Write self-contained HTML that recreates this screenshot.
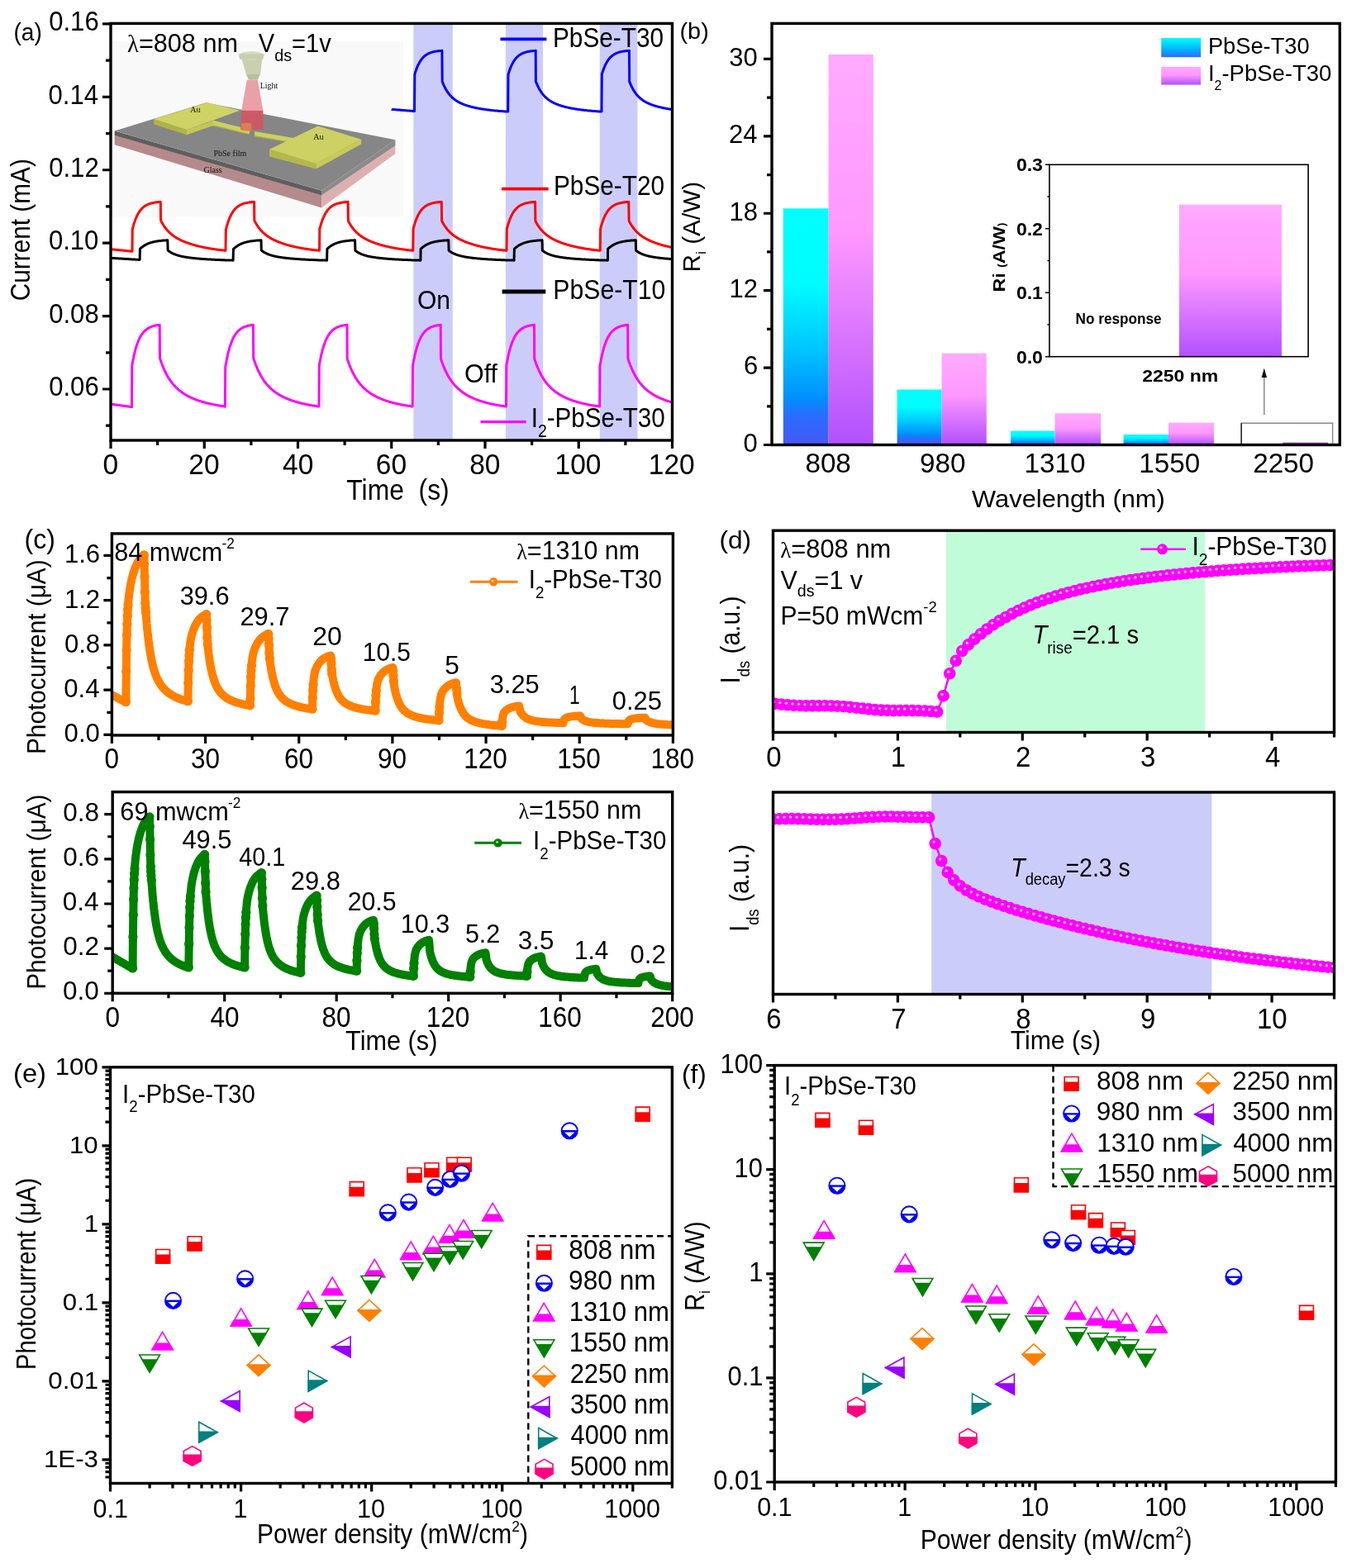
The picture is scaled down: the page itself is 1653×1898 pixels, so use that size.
<!DOCTYPE html>
<html><head><meta charset="utf-8"><title>Figure</title>
<style>html,body{margin:0;padding:0;background:#fff;}svg{display:block;}
svg{font-family:'Liberation Sans', Arial, sans-serif;}</style></head>
<body><svg width="1653" height="1898" viewBox="0 0 1653 1898">
<rect width="1653" height="1898" fill="#fff"/>
<clipPath id="clipa"><rect x="134.00" y="28.40" width="679.50" height="504.60"/></clipPath>
<rect x="500.3" y="28.4" width="47.5" height="504.6" fill="#ccccfa"/>
<rect x="611.8" y="28.4" width="45.3" height="504.6" fill="#ccccfa"/>
<rect x="725.7" y="28.4" width="45.7" height="504.6" fill="#ccccfa"/>
<rect x="136" y="50" width="352" height="212" fill="#f9f9f9"/>
<polygon points="138.7,163.2 389.1,235.1 389.1,251.4 138.7,175.2" fill="#b58a8c"/>
<polygon points="389.1,235.1 478.4,176.3 478.4,186.1 389.1,251.4" fill="#dcb0b0"/>
<polygon points="138.7,158.4 389.1,230.7 389.1,236.2 138.7,163.7" fill="#5e5e5e"/>
<polygon points="389.1,230.7 478.4,169.3 478.4,176.3 389.1,236.2" fill="#8a8a8a"/>
<polygon points="138.7,158.4 249.3,124.3 478.4,169.3 389.1,230.7" fill="#868686"/>
<polygon points="186.2,144.1 186.2,150.6 225.8,163.2 225.8,157.1" fill="#aeb448"/>
<polygon points="225.8,157.1 225.8,163.2 258.5,151.9 258.5,145.8" fill="#c2c656"/>
<polygon points="186.2,144.1 250.9,124.0 290.1,133.8 225.8,157.1" fill="#cfd264"/>
<polygon points="258.0,151.5 301.6,161.9 301.6,163.2 258.0,152.8" fill="#a8ac42"/>
<polygon points="258.0,145.8 302.5,156.7 301.6,161.9 258.0,151.5" fill="#ccd060"/>
<polygon points="308.1,164.3 355.4,172.4 355.4,173.7 308.1,165.6" fill="#a8ac42"/>
<polygon points="308.1,158.9 356.5,167.2 355.4,172.4 308.1,164.3" fill="#ccd060"/>
<polygon points="326.0,180.7 326.0,189.4 382.6,204.6 382.6,198.1" fill="#b4b84a"/>
<polygon points="382.6,198.1 382.6,204.6 437.1,174.6 437.1,168.7" fill="#c6ca58"/>
<polygon points="326.0,180.7 384.8,152.4 437.1,168.7 382.6,198.1" fill="#cdd062"/>
<polygon points="297.7,89.2 315.1,89.2 311.8,96.8 300.9,96.8" fill="#b8c0a0"/>
<polygon points="292.2,70.7 317.3,70.7 315.1,89.2 297.7,89.2" fill="#c8d0b0"/>
<ellipse cx="304.2" cy="67.4" rx="15.2" ry="5.4" fill="#d8dcc4"/>
<polygon points="289.0,65.2 319.5,65.2 318.4,71.8 290.1,71.8" fill="#c8ceb2"/>
<polygon points="298.8,96.8 311.8,96.8 318.4,133.8 292.2,133.8" fill="#eaa0a6"/>
<polygon points="292.2,133.8 318.4,133.8 318.4,156.7 291.1,156.7" fill="#cc5a66"/>
<polygon points="292.2,149.1 304.2,149.1 304.2,158.9 292.2,157.8" fill="#d88050"/>
<text x="230.2" y="136.0" font-size="10" font-family="Liberation Serif" fill="#111">Au</text>
<text x="379.3" y="168.7" font-size="10" font-family="Liberation Serif" fill="#111">Au</text>
<text x="258.5" y="189.4" font-size="10" font-family="Liberation Serif" fill="#111">PbSe film</text>
<text x="246.5" y="209.0" font-size="10" font-family="Liberation Serif" fill="#111">Glass</text>
<text x="314.7" y="106.6" font-size="10" font-family="Liberation Serif" fill="#111">Light</text>
<path d="M134.0,489.1L134.3,489.2L134.6,489.2L134.8,489.2L135.1,489.3L135.4,489.3L135.7,489.3L136.0,489.4L136.3,489.4L136.5,489.5L136.8,489.5L137.1,489.5L137.4,489.6L137.7,489.6L138.0,489.7L138.2,489.7L138.5,489.7L138.8,489.8L139.1,489.8L139.4,489.9L139.7,489.9L139.9,489.9L140.2,490.0L140.5,490.0L140.8,490.1L141.1,490.1L141.4,490.1L141.6,490.2L141.9,490.2L142.2,490.3L142.5,490.3L142.8,490.3L143.1,490.4L143.3,490.4L143.6,490.4L143.9,490.5L144.2,490.5L144.5,490.6L144.8,490.6L145.0,490.6L145.3,490.7L145.6,490.7L145.9,490.8L146.2,490.8L146.5,490.8L146.7,490.9L147.0,490.9L147.3,491.0L147.6,491.0L147.9,491.0L148.2,491.1L148.4,491.1L148.7,491.2L149.0,491.2L149.3,491.2L149.6,491.3L149.9,491.3L150.1,491.4L150.4,491.4L150.7,491.4L151.0,491.5L151.3,491.5L151.6,491.5L151.8,491.6L152.1,491.6L152.4,491.7L152.7,491.7L153.0,491.7L153.3,491.8L153.5,491.8L153.8,491.9L154.1,491.9L154.4,491.9L154.7,492.0L155.0,492.0L155.2,492.1L155.5,492.1L155.8,492.1L156.1,492.2L156.4,492.2L156.6,492.3L156.9,492.3L157.2,492.3L157.5,492.4L157.8,492.4L158.1,492.5L158.3,492.5L158.6,492.5L158.9,492.6L159.2,492.6L159.5,492.7L159.8,442.8L160.0,441.1L160.3,439.5L160.6,438.0L160.9,436.5L161.2,435.0L161.5,433.6L161.7,432.3L162.0,430.9L162.3,429.7L162.6,428.4L162.9,427.3L163.2,426.1L163.4,425.0L163.7,423.9L164.0,422.9L164.3,421.9L164.6,420.9L164.9,420.0L165.1,419.1L165.4,418.2L165.7,417.4L166.0,416.5L166.3,415.7L166.6,415.0L166.8,414.2L167.1,413.5L167.4,412.8L167.7,412.1L168.0,411.5L168.3,410.9L168.5,410.2L168.8,409.7L169.1,409.1L169.4,408.5L169.7,408.0L170.0,407.5L170.2,407.0L170.5,406.5L170.8,406.0L171.1,405.6L171.4,405.2L171.7,404.7L171.9,404.3L172.2,403.9L172.5,403.6L172.8,403.2L173.1,402.8L173.4,402.5L173.6,402.1L173.9,401.8L174.2,401.5L174.5,401.2L174.8,400.9L175.1,400.6L175.3,400.4L175.6,400.1L175.9,399.8L176.2,399.6L176.5,399.4L176.8,399.1L177.0,398.9L177.3,398.7L177.6,398.5L177.9,398.3L178.2,398.1L178.5,397.9L178.7,397.7L179.0,397.5L179.3,397.4L179.6,397.2L179.9,397.0L180.1,396.9L180.4,396.7L180.7,396.6L181.0,396.4L181.3,396.3L181.6,396.2L181.8,396.0L182.1,395.9L182.4,395.8L182.7,395.7L183.0,395.6L183.3,395.5L183.5,395.4L183.8,395.3L184.1,395.2L184.4,395.1L184.7,395.0L185.0,394.9L185.2,394.8L185.5,394.7L185.8,394.6L186.1,394.6L186.4,394.5L186.7,394.4L186.9,394.4L187.2,394.3L187.5,394.2L187.8,394.2L188.1,394.1L188.4,394.0L188.6,394.0L188.9,393.9L189.2,393.9L189.5,393.8L189.8,393.8L190.1,393.7L190.3,393.7L190.6,393.6L190.9,393.6L191.2,393.5L191.5,393.5L191.8,393.5L192.0,393.4L192.3,393.4L192.6,393.4L192.9,393.3L193.2,393.3L193.5,433.4L193.7,434.3L194.0,435.2L194.3,436.0L194.6,436.8L194.9,437.7L195.2,438.5L195.4,439.3L195.7,440.0L196.0,440.8L196.3,441.5L196.6,442.3L196.9,443.0L197.1,443.7L197.4,444.4L197.7,445.1L198.0,445.7L198.3,446.4L198.6,447.0L198.8,447.7L199.1,448.3L199.4,448.9L199.7,449.5L200.0,450.1L200.3,450.6L200.5,451.2L200.8,451.8L201.1,452.3L201.4,452.9L201.7,453.4L202.0,453.9L202.2,454.4L202.5,454.9L202.8,455.4L203.1,455.9L203.4,456.4L203.6,456.9L203.9,457.3L204.2,457.8L204.5,458.2L204.8,458.7L205.1,459.1L205.3,459.5L205.6,459.9L205.9,460.4L206.2,460.8L206.5,461.2L206.8,461.6L207.0,462.0L207.3,462.3L207.6,462.7L207.9,463.1L208.2,463.4L208.5,463.8L208.7,464.2L209.0,464.5L209.3,464.8L209.6,465.2L209.9,465.5L210.2,465.8L210.4,466.2L210.7,466.5L211.0,466.8L211.3,467.1L211.6,467.4L211.9,467.7L212.1,468.0L212.4,468.3L212.7,468.6L213.0,468.9L213.3,469.2L213.6,469.4L213.8,469.7L214.1,470.0L214.4,470.2L214.7,470.5L215.0,470.8L215.3,471.0L215.5,471.3L215.8,471.5L216.1,471.8L216.4,472.0L216.7,472.2L217.0,472.5L217.2,472.7L217.5,472.9L217.8,473.2L218.1,473.4L218.4,473.6L218.7,473.8L218.9,474.0L219.2,474.2L219.5,474.5L219.8,474.7L220.1,474.9L220.4,475.1L220.6,475.3L220.9,475.5L221.2,475.7L221.5,475.8L221.8,476.0L222.1,476.2L222.3,476.4L222.6,476.6L222.9,476.8L223.2,477.0L223.5,477.1L223.8,477.3L224.0,477.5L224.3,477.7L224.6,477.8L224.9,478.0L225.2,478.2L225.4,478.3L225.7,478.5L226.0,478.6L226.3,478.8L226.6,479.0L226.9,479.1L227.1,479.3L227.4,479.4L227.7,479.6L228.0,479.7L228.3,479.9L228.6,480.0L228.8,480.2L229.1,480.3L229.4,480.4L229.7,480.6L230.0,480.7L230.3,480.8L230.5,481.0L230.8,481.1L231.1,481.3L231.4,481.4L231.7,481.5L232.0,481.6L232.2,481.8L232.5,481.9L232.8,482.0L233.1,482.1L233.4,482.3L233.7,482.4L233.9,482.5L234.2,482.6L234.5,482.7L234.8,482.9L235.1,483.0L235.4,483.1L235.6,483.2L235.9,483.3L236.2,483.4L236.5,483.5L236.8,483.6L237.1,483.8L237.3,483.9L237.6,484.0L237.9,484.1L238.2,484.2L238.5,484.3L238.8,484.4L239.0,484.5L239.3,484.6L239.6,484.7L239.9,484.8L240.2,484.9L240.5,485.0L240.7,485.1L241.0,485.2L241.3,485.3L241.6,485.4L241.9,485.4L242.2,485.5L242.4,485.6L242.7,485.7L243.0,485.8L243.3,485.9L243.6,486.0L243.9,486.1L244.1,486.2L244.4,486.2L244.7,486.3L245.0,486.4L245.3,486.5L245.6,486.6L245.8,486.7L246.1,486.7L246.4,486.8L246.7,486.9L247.0,487.0L247.3,487.1L247.5,487.1L247.8,487.2L248.1,487.3L248.4,487.4L248.7,487.4L248.9,487.5L249.2,487.6L249.5,487.7L249.8,487.7L250.1,487.8L250.4,487.9L250.6,488.0L250.9,488.0L251.2,488.1L251.5,488.2L251.8,488.2L252.1,488.3L252.3,488.4L252.6,488.4L252.9,488.5L253.2,488.6L253.5,488.6L253.8,488.7L254.0,488.8L254.3,488.8L254.6,488.9L254.9,489.0L255.2,489.0L255.5,489.1L255.7,489.1L256.0,489.2L256.3,489.3L256.6,489.3L256.9,489.4L257.2,489.4L257.4,489.5L257.7,489.6L258.0,489.6L258.3,489.7L258.6,489.7L258.9,489.8L259.1,489.9L259.4,489.9L259.7,490.0L260.0,490.0L260.3,490.1L260.6,490.1L260.8,490.2L261.1,490.2L261.4,490.3L261.7,490.3L262.0,490.4L262.3,490.4L262.5,490.5L262.8,490.5L263.1,490.6L263.4,490.6L263.7,490.7L264.0,490.7L264.2,490.8L264.5,490.8L264.8,490.9L265.1,490.9L265.4,491.0L265.7,491.0L265.9,491.1L266.2,491.1L266.5,491.2L266.8,491.2L267.1,491.3L267.4,491.3L267.6,491.4L267.9,491.4L268.2,491.4L268.5,491.5L268.8,491.5L269.1,491.6L269.3,491.6L269.6,491.7L269.9,491.7L270.2,491.7L270.5,491.8L270.7,491.8L271.0,491.9L271.3,491.9L271.6,491.9L271.9,492.0L272.2,492.0L272.4,492.1L272.7,444.5L273.0,442.8L273.3,441.1L273.6,439.5L273.9,438.0L274.1,436.5L274.4,435.0L274.7,433.6L275.0,432.3L275.3,430.9L275.6,429.7L275.8,428.4L276.1,427.3L276.4,426.1L276.7,425.0L277.0,423.9L277.3,422.9L277.5,421.9L277.8,420.9L278.1,420.0L278.4,419.1L278.7,418.2L279.0,417.4L279.2,416.5L279.5,415.7L279.8,415.0L280.1,414.2L280.4,413.5L280.7,412.8L280.9,412.1L281.2,411.5L281.5,410.9L281.8,410.2L282.1,409.7L282.4,409.1L282.6,408.5L282.9,408.0L283.2,407.5L283.5,407.0L283.8,406.5L284.1,406.0L284.3,405.6L284.6,405.2L284.9,404.7L285.2,404.3L285.5,403.9L285.8,403.6L286.0,403.2L286.3,402.8L286.6,402.5L286.9,402.1L287.2,401.8L287.5,401.5L287.7,401.2L288.0,400.9L288.3,400.6L288.6,400.4L288.9,400.1L289.2,399.8L289.4,399.6L289.7,399.4L290.0,399.1L290.3,398.9L290.6,398.7L290.9,398.5L291.1,398.3L291.4,398.1L291.7,397.9L292.0,397.7L292.3,397.5L292.6,397.4L292.8,397.2L293.1,397.0L293.4,396.9L293.7,396.7L294.0,396.6L294.2,396.4L294.5,396.3L294.8,396.2L295.1,396.0L295.4,395.9L295.7,395.8L295.9,395.7L296.2,395.6L296.5,395.5L296.8,395.4L297.1,395.3L297.4,395.2L297.6,395.1L297.9,395.0L298.2,394.9L298.5,394.8L298.8,394.7L299.1,394.6L299.3,394.6L299.6,394.5L299.9,394.4L300.2,394.4L300.5,394.3L300.8,394.2L301.0,394.2L301.3,394.1L301.6,394.0L301.9,394.0L302.2,393.9L302.5,393.9L302.7,393.8L303.0,393.8L303.3,393.7L303.6,393.7L303.9,393.6L304.2,393.6L304.4,393.5L304.7,393.5L305.0,393.5L305.3,393.4L305.6,393.4L305.9,393.4L306.1,393.3L306.4,393.3L306.7,433.4L307.0,434.3L307.3,435.2L307.6,436.0L307.8,436.8L308.1,437.7L308.4,438.5L308.7,439.3L309.0,440.0L309.3,440.8L309.5,441.5L309.8,442.3L310.1,443.0L310.4,443.7L310.7,444.4L311.0,445.1L311.2,445.7L311.5,446.4L311.8,447.0L312.1,447.7L312.4,448.3L312.7,448.9L312.9,449.5L313.2,450.1L313.5,450.6L313.8,451.2L314.1,451.8L314.4,452.3L314.6,452.9L314.9,453.4L315.2,453.9L315.5,454.4L315.8,454.9L316.0,455.4L316.3,455.9L316.6,456.4L316.9,456.9L317.2,457.3L317.5,457.8L317.7,458.2L318.0,458.7L318.3,459.1L318.6,459.5L318.9,459.9L319.2,460.4L319.4,460.8L319.7,461.2L320.0,461.6L320.3,462.0L320.6,462.3L320.9,462.7L321.1,463.1L321.4,463.4L321.7,463.8L322.0,464.2L322.3,464.5L322.6,464.8L322.8,465.2L323.1,465.5L323.4,465.8L323.7,466.2L324.0,466.5L324.3,466.8L324.5,467.1L324.8,467.4L325.1,467.7L325.4,468.0L325.7,468.3L326.0,468.6L326.2,468.9L326.5,469.2L326.8,469.4L327.1,469.7L327.4,470.0L327.7,470.2L327.9,470.5L328.2,470.8L328.5,471.0L328.8,471.3L329.1,471.5L329.4,471.8L329.6,472.0L329.9,472.2L330.2,472.5L330.5,472.7L330.8,472.9L331.1,473.2L331.3,473.4L331.6,473.6L331.9,473.8L332.2,474.0L332.5,474.2L332.8,474.5L333.0,474.7L333.3,474.9L333.6,475.1L333.9,475.3L334.2,475.5L334.5,475.7L334.7,475.8L335.0,476.0L335.3,476.2L335.6,476.4L335.9,476.6L336.2,476.8L336.4,477.0L336.7,477.1L337.0,477.3L337.3,477.5L337.6,477.7L337.9,477.8L338.1,478.0L338.4,478.2L338.7,478.3L339.0,478.5L339.3,478.6L339.5,478.8L339.8,479.0L340.1,479.1L340.4,479.3L340.7,479.4L341.0,479.6L341.2,479.7L341.5,479.9L341.8,480.0L342.1,480.2L342.4,480.3L342.7,480.4L342.9,480.6L343.2,480.7L343.5,480.8L343.8,481.0L344.1,481.1L344.4,481.3L344.6,481.4L344.9,481.5L345.2,481.6L345.5,481.8L345.8,481.9L346.1,482.0L346.3,482.1L346.6,482.3L346.9,482.4L347.2,482.5L347.5,482.6L347.8,482.7L348.0,482.9L348.3,483.0L348.6,483.1L348.9,483.2L349.2,483.3L349.5,483.4L349.7,483.5L350.0,483.6L350.3,483.8L350.6,483.9L350.9,484.0L351.2,484.1L351.4,484.2L351.7,484.3L352.0,484.4L352.3,484.5L352.6,484.6L352.9,484.7L353.1,484.8L353.4,484.9L353.7,485.0L354.0,485.1L354.3,485.2L354.6,485.3L354.8,485.4L355.1,485.4L355.4,485.5L355.7,485.6L356.0,485.7L356.3,485.8L356.5,485.9L356.8,486.0L357.1,486.1L357.4,486.2L357.7,486.2L358.0,486.3L358.2,486.4L358.5,486.5L358.8,486.6L359.1,486.7L359.4,486.7L359.7,486.8L359.9,486.9L360.2,487.0L360.5,487.1L360.8,487.1L361.1,487.2L361.3,487.3L361.6,487.4L361.9,487.4L362.2,487.5L362.5,487.6L362.8,487.7L363.0,487.7L363.3,487.8L363.6,487.9L363.9,488.0L364.2,488.0L364.5,488.1L364.7,488.2L365.0,488.2L365.3,488.3L365.6,488.4L365.9,488.4L366.2,488.5L366.4,488.6L366.7,488.6L367.0,488.7L367.3,488.8L367.6,488.8L367.9,488.9L368.1,489.0L368.4,489.0L368.7,489.1L369.0,489.1L369.3,489.2L369.6,489.3L369.8,489.3L370.1,489.4L370.4,489.4L370.7,489.5L371.0,489.6L371.3,489.6L371.5,489.7L371.8,489.7L372.1,489.8L372.4,489.9L372.7,489.9L373.0,490.0L373.2,490.0L373.5,490.1L373.8,490.1L374.1,490.2L374.4,490.2L374.7,490.3L374.9,490.3L375.2,490.4L375.5,490.4L375.8,490.5L376.1,490.5L376.4,490.6L376.6,490.6L376.9,490.7L377.2,490.7L377.5,490.8L377.8,490.8L378.1,490.9L378.3,490.9L378.6,491.0L378.9,491.0L379.2,491.1L379.5,491.1L379.8,491.2L380.0,491.2L380.3,491.3L380.6,491.3L380.9,491.4L381.2,491.4L381.5,491.4L381.7,491.5L382.0,491.5L382.3,491.6L382.6,491.6L382.9,491.7L383.1,491.7L383.4,491.7L383.7,491.8L384.0,491.8L384.3,491.9L384.6,491.9L384.8,491.9L385.1,492.0L385.4,492.0L385.7,492.1L386.0,492.1L386.3,442.8L386.5,441.1L386.8,439.5L387.1,438.0L387.4,436.5L387.7,435.0L388.0,433.6L388.2,432.3L388.5,430.9L388.8,429.7L389.1,428.4L389.4,427.3L389.7,426.1L389.9,425.0L390.2,423.9L390.5,422.9L390.8,421.9L391.1,420.9L391.4,420.0L391.6,419.1L391.9,418.2L392.2,417.4L392.5,416.5L392.8,415.7L393.1,415.0L393.3,414.2L393.6,413.5L393.9,412.8L394.2,412.1L394.5,411.5L394.8,410.9L395.0,410.2L395.3,409.7L395.6,409.1L395.9,408.5L396.2,408.0L396.5,407.5L396.7,407.0L397.0,406.5L397.3,406.0L397.6,405.6L397.9,405.2L398.2,404.7L398.4,404.3L398.7,403.9L399.0,403.6L399.3,403.2L399.6,402.8L399.9,402.5L400.1,402.1L400.4,401.8L400.7,401.5L401.0,401.2L401.3,400.9L401.6,400.6L401.8,400.4L402.1,400.1L402.4,399.8L402.7,399.6L403.0,399.4L403.3,399.1L403.5,398.9L403.8,398.7L404.1,398.5L404.4,398.3L404.7,398.1L405.0,397.9L405.2,397.7L405.5,397.5L405.8,397.4L406.1,397.2L406.4,397.0L406.6,396.9L406.9,396.7L407.2,396.6L407.5,396.4L407.8,396.3L408.1,396.2L408.3,396.0L408.6,395.9L408.9,395.8L409.2,395.7L409.5,395.6L409.8,395.5L410.0,395.4L410.3,395.3L410.6,395.2L410.9,395.1L411.2,395.0L411.5,394.9L411.7,394.8L412.0,394.7L412.3,394.6L412.6,394.6L412.9,394.5L413.2,394.4L413.4,394.4L413.7,394.3L414.0,394.2L414.3,394.2L414.6,394.1L414.9,394.0L415.1,394.0L415.4,393.9L415.7,393.9L416.0,393.8L416.3,393.8L416.6,393.7L416.8,393.7L417.1,393.6L417.4,393.6L417.7,393.5L418.0,393.5L418.3,393.5L418.5,393.4L418.8,393.4L419.1,393.4L419.4,393.3L419.7,393.3L420.0,393.3L420.2,434.3L420.5,435.2L420.8,436.0L421.1,436.8L421.4,437.7L421.7,438.5L421.9,439.3L422.2,440.0L422.5,440.8L422.8,441.5L423.1,442.3L423.4,443.0L423.6,443.7L423.9,444.4L424.2,445.1L424.5,445.7L424.8,446.4L425.1,447.0L425.3,447.7L425.6,448.3L425.9,448.9L426.2,449.5L426.5,450.1L426.8,450.6L427.0,451.2L427.3,451.8L427.6,452.3L427.9,452.9L428.2,453.4L428.4,453.9L428.7,454.4L429.0,454.9L429.3,455.4L429.6,455.9L429.9,456.4L430.1,456.9L430.4,457.3L430.7,457.8L431.0,458.2L431.3,458.7L431.6,459.1L431.8,459.5L432.1,459.9L432.4,460.4L432.7,460.8L433.0,461.2L433.3,461.6L433.5,462.0L433.8,462.3L434.1,462.7L434.4,463.1L434.7,463.4L435.0,463.8L435.2,464.2L435.5,464.5L435.8,464.8L436.1,465.2L436.4,465.5L436.7,465.8L436.9,466.2L437.2,466.5L437.5,466.8L437.8,467.1L438.1,467.4L438.4,467.7L438.6,468.0L438.9,468.3L439.2,468.6L439.5,468.9L439.8,469.2L440.1,469.4L440.3,469.7L440.6,470.0L440.9,470.2L441.2,470.5L441.5,470.8L441.8,471.0L442.0,471.3L442.3,471.5L442.6,471.8L442.9,472.0L443.2,472.2L443.5,472.5L443.7,472.7L444.0,472.9L444.3,473.2L444.6,473.4L444.9,473.6L445.2,473.8L445.4,474.0L445.7,474.2L446.0,474.5L446.3,474.7L446.6,474.9L446.9,475.1L447.1,475.3L447.4,475.5L447.7,475.7L448.0,475.8L448.3,476.0L448.6,476.2L448.8,476.4L449.1,476.6L449.4,476.8L449.7,477.0L450.0,477.1L450.3,477.3L450.5,477.5L450.8,477.7L451.1,477.8L451.4,478.0L451.7,478.2L451.9,478.3L452.2,478.5L452.5,478.6L452.8,478.8L453.1,479.0L453.4,479.1L453.6,479.3L453.9,479.4L454.2,479.6L454.5,479.7L454.8,479.9L455.1,480.0L455.3,480.2L455.6,480.3L455.9,480.4L456.2,480.6L456.5,480.7L456.8,480.8L457.0,481.0L457.3,481.1L457.6,481.3L457.9,481.4L458.2,481.5L458.5,481.6L458.7,481.8L459.0,481.9L459.3,482.0L459.6,482.1L459.9,482.3L460.2,482.4L460.4,482.5L460.7,482.6L461.0,482.7L461.3,482.9L461.6,483.0L461.9,483.1L462.1,483.2L462.4,483.3L462.7,483.4L463.0,483.5L463.3,483.6L463.6,483.8L463.8,483.9L464.1,484.0L464.4,484.1L464.7,484.2L465.0,484.3L465.3,484.4L465.5,484.5L465.8,484.6L466.1,484.7L466.4,484.8L466.7,484.9L467.0,485.0L467.2,485.1L467.5,485.2L467.8,485.3L468.1,485.4L468.4,485.4L468.7,485.5L468.9,485.6L469.2,485.7L469.5,485.8L469.8,485.9L470.1,486.0L470.4,486.1L470.6,486.2L470.9,486.2L471.2,486.3L471.5,486.4L471.8,486.5L472.1,486.6L472.3,486.7L472.6,486.7L472.9,486.8L473.2,486.9L473.5,487.0L473.7,487.1L474.0,487.1L474.3,487.2L474.6,487.3L474.9,487.4L475.2,487.4L475.4,487.5L475.7,487.6L476.0,487.7L476.3,487.7L476.6,487.8L476.9,487.9L477.1,488.0L477.4,488.0L477.7,488.1L478.0,488.2L478.3,488.2L478.6,488.3L478.8,488.4L479.1,488.4L479.4,488.5L479.7,488.6L480.0,488.6L480.3,488.7L480.5,488.8L480.8,488.8L481.1,488.9L481.4,489.0L481.7,489.0L482.0,489.1L482.2,489.1L482.5,489.2L482.8,489.3L483.1,489.3L483.4,489.4L483.7,489.4L483.9,489.5L484.2,489.6L484.5,489.6L484.8,489.7L485.1,489.7L485.4,489.8L485.6,489.9L485.9,489.9L486.2,490.0L486.5,490.0L486.8,490.1L487.1,490.1L487.3,490.2L487.6,490.2L487.9,490.3L488.2,490.3L488.5,490.4L488.8,490.4L489.0,490.5L489.3,490.5L489.6,490.6L489.9,490.6L490.2,490.7L490.5,490.7L490.7,490.8L491.0,490.8L491.3,490.9L491.6,490.9L491.9,491.0L492.2,491.0L492.4,491.1L492.7,491.1L493.0,491.2L493.3,491.2L493.6,491.3L493.9,491.3L494.1,491.4L494.4,491.4L494.7,491.4L495.0,491.5L495.3,491.5L495.6,491.6L495.8,491.6L496.1,491.7L496.4,491.7L496.7,491.7L497.0,491.8L497.2,491.8L497.5,491.9L497.8,491.9L498.1,491.9L498.4,492.0L498.7,492.0L498.9,492.1L499.2,492.1L499.5,442.8L499.8,441.1L500.1,439.5L500.4,438.0L500.6,436.5L500.9,435.0L501.2,433.6L501.5,432.3L501.8,430.9L502.1,429.7L502.3,428.4L502.6,427.3L502.9,426.1L503.2,425.0L503.5,423.9L503.8,422.9L504.0,421.9L504.3,420.9L504.6,420.0L504.9,419.1L505.2,418.2L505.5,417.4L505.7,416.5L506.0,415.7L506.3,415.0L506.6,414.2L506.9,413.5L507.2,412.8L507.4,412.1L507.7,411.5L508.0,410.9L508.3,410.2L508.6,409.7L508.9,409.1L509.1,408.5L509.4,408.0L509.7,407.5L510.0,407.0L510.3,406.5L510.6,406.0L510.8,405.6L511.1,405.2L511.4,404.7L511.7,404.3L512.0,403.9L512.3,403.6L512.5,403.2L512.8,402.8L513.1,402.5L513.4,402.1L513.7,401.8L514.0,401.5L514.2,401.2L514.5,400.9L514.8,400.6L515.1,400.4L515.4,400.1L515.7,399.8L515.9,399.6L516.2,399.4L516.5,399.1L516.8,398.9L517.1,398.7L517.4,398.5L517.6,398.3L517.9,398.1L518.2,397.9L518.5,397.7L518.8,397.5L519.0,397.4L519.3,397.2L519.6,397.0L519.9,396.9L520.2,396.7L520.5,396.6L520.7,396.4L521.0,396.3L521.3,396.2L521.6,396.0L521.9,395.9L522.2,395.8L522.4,395.7L522.7,395.6L523.0,395.5L523.3,395.4L523.6,395.3L523.9,395.2L524.1,395.1L524.4,395.0L524.7,394.9L525.0,394.8L525.3,394.7L525.6,394.6L525.8,394.6L526.1,394.5L526.4,394.4L526.7,394.4L527.0,394.3L527.3,394.2L527.5,394.2L527.8,394.1L528.1,394.0L528.4,394.0L528.7,393.9L529.0,393.9L529.2,393.8L529.5,393.8L529.8,393.7L530.1,393.7L530.4,393.6L530.7,393.6L530.9,393.5L531.2,393.5L531.5,393.5L531.8,393.4L532.1,393.4L532.4,393.4L532.6,393.3L532.9,393.3L533.2,393.3L533.5,434.3L533.8,435.2L534.1,436.0L534.3,436.8L534.6,437.7L534.9,438.5L535.2,439.3L535.5,440.0L535.8,440.8L536.0,441.5L536.3,442.3L536.6,443.0L536.9,443.7L537.2,444.4L537.5,445.1L537.7,445.7L538.0,446.4L538.3,447.0L538.6,447.7L538.9,448.3L539.2,448.9L539.4,449.5L539.7,450.1L540.0,450.6L540.3,451.2L540.6,451.8L540.9,452.3L541.1,452.9L541.4,453.4L541.7,453.9L542.0,454.4L542.3,454.9L542.5,455.4L542.8,455.9L543.1,456.4L543.4,456.9L543.7,457.3L544.0,457.8L544.2,458.2L544.5,458.7L544.8,459.1L545.1,459.5L545.4,459.9L545.7,460.4L545.9,460.8L546.2,461.2L546.5,461.6L546.8,462.0L547.1,462.3L547.4,462.7L547.6,463.1L547.9,463.4L548.2,463.8L548.5,464.2L548.8,464.5L549.1,464.8L549.3,465.2L549.6,465.5L549.9,465.8L550.2,466.2L550.5,466.5L550.8,466.8L551.0,467.1L551.3,467.4L551.6,467.7L551.9,468.0L552.2,468.3L552.5,468.6L552.7,468.9L553.0,469.2L553.3,469.4L553.6,469.7L553.9,470.0L554.2,470.2L554.4,470.5L554.7,470.8L555.0,471.0L555.3,471.3L555.6,471.5L555.9,471.8L556.1,472.0L556.4,472.2L556.7,472.5L557.0,472.7L557.3,472.9L557.6,473.2L557.8,473.4L558.1,473.6L558.4,473.8L558.7,474.0L559.0,474.2L559.3,474.5L559.5,474.7L559.8,474.9L560.1,475.1L560.4,475.3L560.7,475.5L561.0,475.7L561.2,475.8L561.5,476.0L561.8,476.2L562.1,476.4L562.4,476.6L562.7,476.8L562.9,477.0L563.2,477.1L563.5,477.3L563.8,477.5L564.1,477.7L564.3,477.8L564.6,478.0L564.9,478.2L565.2,478.3L565.5,478.5L565.8,478.6L566.0,478.8L566.3,479.0L566.6,479.1L566.9,479.3L567.2,479.4L567.5,479.6L567.7,479.7L568.0,479.9L568.3,480.0L568.6,480.2L568.9,480.3L569.2,480.4L569.4,480.6L569.7,480.7L570.0,480.8L570.3,481.0L570.6,481.1L570.9,481.3L571.1,481.4L571.4,481.5L571.7,481.6L572.0,481.8L572.3,481.9L572.6,482.0L572.8,482.1L573.1,482.3L573.4,482.4L573.7,482.5L574.0,482.6L574.3,482.7L574.5,482.9L574.8,483.0L575.1,483.1L575.4,483.2L575.7,483.3L576.0,483.4L576.2,483.5L576.5,483.6L576.8,483.8L577.1,483.9L577.4,484.0L577.7,484.1L577.9,484.2L578.2,484.3L578.5,484.4L578.8,484.5L579.1,484.6L579.4,484.7L579.6,484.8L579.9,484.9L580.2,485.0L580.5,485.1L580.8,485.2L581.1,485.3L581.3,485.4L581.6,485.4L581.9,485.5L582.2,485.6L582.5,485.7L582.8,485.8L583.0,485.9L583.3,486.0L583.6,486.1L583.9,486.2L584.2,486.2L584.5,486.3L584.7,486.4L585.0,486.5L585.3,486.6L585.6,486.7L585.9,486.7L586.2,486.8L586.4,486.9L586.7,487.0L587.0,487.1L587.3,487.1L587.6,487.2L587.8,487.3L588.1,487.4L588.4,487.4L588.7,487.5L589.0,487.6L589.3,487.7L589.5,487.7L589.8,487.8L590.1,487.9L590.4,488.0L590.7,488.0L591.0,488.1L591.2,488.2L591.5,488.2L591.8,488.3L592.1,488.4L592.4,488.4L592.7,488.5L592.9,488.6L593.2,488.6L593.5,488.7L593.8,488.8L594.1,488.8L594.4,488.9L594.6,489.0L594.9,489.0L595.2,489.1L595.5,489.1L595.8,489.2L596.1,489.3L596.3,489.3L596.6,489.4L596.9,489.4L597.2,489.5L597.5,489.6L597.8,489.6L598.0,489.7L598.3,489.7L598.6,489.8L598.9,489.9L599.2,489.9L599.5,490.0L599.7,490.0L600.0,490.1L600.3,490.1L600.6,490.2L600.9,490.2L601.2,490.3L601.4,490.3L601.7,490.4L602.0,490.4L602.3,490.5L602.6,490.5L602.9,490.6L603.1,490.6L603.4,490.7L603.7,490.7L604.0,490.8L604.3,490.8L604.6,490.9L604.8,490.9L605.1,491.0L605.4,491.0L605.7,491.1L606.0,491.1L606.3,491.2L606.5,491.2L606.8,491.3L607.1,491.3L607.4,491.4L607.7,491.4L608.0,491.4L608.2,491.5L608.5,491.5L608.8,491.6L609.1,491.6L609.4,491.7L609.6,491.7L609.9,491.7L610.2,491.8L610.5,491.8L610.8,491.9L611.1,491.9L611.3,491.9L611.6,492.0L611.9,492.0L612.2,492.1L612.5,492.1L612.8,442.8L613.0,441.1L613.3,439.5L613.6,438.0L613.9,436.5L614.2,435.0L614.5,433.6L614.7,432.3L615.0,430.9L615.3,429.7L615.6,428.4L615.9,427.3L616.2,426.1L616.4,425.0L616.7,423.9L617.0,422.9L617.3,421.9L617.6,420.9L617.9,420.0L618.1,419.1L618.4,418.2L618.7,417.4L619.0,416.5L619.3,415.7L619.6,415.0L619.8,414.2L620.1,413.5L620.4,412.8L620.7,412.1L621.0,411.5L621.3,410.9L621.5,410.2L621.8,409.7L622.1,409.1L622.4,408.5L622.7,408.0L623.0,407.5L623.2,407.0L623.5,406.5L623.8,406.0L624.1,405.6L624.4,405.2L624.7,404.7L624.9,404.3L625.2,403.9L625.5,403.6L625.8,403.2L626.1,402.8L626.4,402.5L626.6,402.1L626.9,401.8L627.2,401.5L627.5,401.2L627.8,400.9L628.1,400.6L628.3,400.4L628.6,400.1L628.9,399.8L629.2,399.6L629.5,399.4L629.8,399.1L630.0,398.9L630.3,398.7L630.6,398.5L630.9,398.3L631.2,398.1L631.5,397.9L631.7,397.7L632.0,397.5L632.3,397.4L632.6,397.2L632.9,397.0L633.1,396.9L633.4,396.7L633.7,396.6L634.0,396.4L634.3,396.3L634.6,396.2L634.8,396.0L635.1,395.9L635.4,395.8L635.7,395.7L636.0,395.6L636.3,395.5L636.5,395.4L636.8,395.3L637.1,395.2L637.4,395.1L637.7,395.0L638.0,394.9L638.2,394.8L638.5,394.7L638.8,394.6L639.1,394.6L639.4,394.5L639.7,394.4L639.9,394.4L640.2,394.3L640.5,394.2L640.8,394.2L641.1,394.1L641.4,394.0L641.6,394.0L641.9,393.9L642.2,393.9L642.5,393.8L642.8,393.8L643.1,393.7L643.3,393.7L643.6,393.6L643.9,393.6L644.2,393.5L644.5,393.5L644.8,393.5L645.0,393.4L645.3,393.4L645.6,393.4L645.9,393.3L646.2,393.3L646.5,393.3L646.7,434.3L647.0,435.2L647.3,436.0L647.6,436.8L647.9,437.7L648.2,438.5L648.4,439.3L648.7,440.0L649.0,440.8L649.3,441.5L649.6,442.3L649.9,443.0L650.1,443.7L650.4,444.4L650.7,445.1L651.0,445.7L651.3,446.4L651.6,447.0L651.8,447.7L652.1,448.3L652.4,448.9L652.7,449.5L653.0,450.1L653.3,450.6L653.5,451.2L653.8,451.8L654.1,452.3L654.4,452.9L654.7,453.4L654.9,453.9L655.2,454.4L655.5,454.9L655.8,455.4L656.1,455.9L656.4,456.4L656.6,456.9L656.9,457.3L657.2,457.8L657.5,458.2L657.8,458.7L658.1,459.1L658.3,459.5L658.6,459.9L658.9,460.4L659.2,460.8L659.5,461.2L659.8,461.6L660.0,462.0L660.3,462.3L660.6,462.7L660.9,463.1L661.2,463.4L661.5,463.8L661.7,464.2L662.0,464.5L662.3,464.8L662.6,465.2L662.9,465.5L663.2,465.8L663.4,466.2L663.7,466.5L664.0,466.8L664.3,467.1L664.6,467.4L664.9,467.7L665.1,468.0L665.4,468.3L665.7,468.6L666.0,468.9L666.3,469.2L666.6,469.4L666.8,469.7L667.1,470.0L667.4,470.2L667.7,470.5L668.0,470.8L668.3,471.0L668.5,471.3L668.8,471.5L669.1,471.8L669.4,472.0L669.7,472.2L670.0,472.5L670.2,472.7L670.5,472.9L670.8,473.2L671.1,473.4L671.4,473.6L671.7,473.8L671.9,474.0L672.2,474.2L672.5,474.5L672.8,474.7L673.1,474.9L673.4,475.1L673.6,475.3L673.9,475.5L674.2,475.7L674.5,475.8L674.8,476.0L675.1,476.2L675.3,476.4L675.6,476.6L675.9,476.8L676.2,477.0L676.5,477.1L676.8,477.3L677.0,477.5L677.3,477.7L677.6,477.8L677.9,478.0L678.2,478.2L678.4,478.3L678.7,478.5L679.0,478.6L679.3,478.8L679.6,479.0L679.9,479.1L680.1,479.3L680.4,479.4L680.7,479.6L681.0,479.7L681.3,479.9L681.6,480.0L681.8,480.2L682.1,480.3L682.4,480.4L682.7,480.6L683.0,480.7L683.3,480.8L683.5,481.0L683.8,481.1L684.1,481.3L684.4,481.4L684.7,481.5L685.0,481.6L685.2,481.8L685.5,481.9L685.8,482.0L686.1,482.1L686.4,482.3L686.7,482.4L686.9,482.5L687.2,482.6L687.5,482.7L687.8,482.9L688.1,483.0L688.4,483.1L688.6,483.2L688.9,483.3L689.2,483.4L689.5,483.5L689.8,483.6L690.1,483.8L690.3,483.9L690.6,484.0L690.9,484.1L691.2,484.2L691.5,484.3L691.8,484.4L692.0,484.5L692.3,484.6L692.6,484.7L692.9,484.8L693.2,484.9L693.5,485.0L693.7,485.1L694.0,485.2L694.3,485.3L694.6,485.4L694.9,485.4L695.2,485.5L695.4,485.6L695.7,485.7L696.0,485.8L696.3,485.9L696.6,486.0L696.9,486.1L697.1,486.2L697.4,486.2L697.7,486.3L698.0,486.4L698.3,486.5L698.6,486.6L698.8,486.7L699.1,486.7L699.4,486.8L699.7,486.9L700.0,487.0L700.2,487.1L700.5,487.1L700.8,487.2L701.1,487.3L701.4,487.4L701.7,487.4L701.9,487.5L702.2,487.6L702.5,487.7L702.8,487.7L703.1,487.8L703.4,487.9L703.6,488.0L703.9,488.0L704.2,488.1L704.5,488.2L704.8,488.2L705.1,488.3L705.3,488.4L705.6,488.4L705.9,488.5L706.2,488.6L706.5,488.6L706.8,488.7L707.0,488.8L707.3,488.8L707.6,488.9L707.9,489.0L708.2,489.0L708.5,489.1L708.7,489.1L709.0,489.2L709.3,489.3L709.6,489.3L709.9,489.4L710.2,489.4L710.4,489.5L710.7,489.6L711.0,489.6L711.3,489.7L711.6,489.7L711.9,489.8L712.1,489.9L712.4,489.9L712.7,490.0L713.0,490.0L713.3,490.1L713.6,490.1L713.8,490.2L714.1,490.2L714.4,490.3L714.7,490.3L715.0,490.4L715.3,490.4L715.5,490.5L715.8,490.5L716.1,490.6L716.4,490.6L716.7,490.7L717.0,490.7L717.2,490.8L717.5,490.8L717.8,490.9L718.1,490.9L718.4,491.0L718.7,491.0L718.9,491.1L719.2,491.1L719.5,491.2L719.8,491.2L720.1,491.3L720.4,491.3L720.6,491.4L720.9,491.4L721.2,491.4L721.5,491.5L721.8,491.5L722.1,491.6L722.3,491.6L722.6,491.7L722.9,491.7L723.2,491.7L723.5,491.8L723.7,491.8L724.0,491.9L724.3,491.9L724.6,491.9L724.9,492.0L725.2,492.0L725.4,492.1L725.7,492.1L726.0,442.8L726.3,441.1L726.6,439.5L726.9,438.0L727.1,436.5L727.4,435.0L727.7,433.6L728.0,432.3L728.3,430.9L728.6,429.7L728.8,428.4L729.1,427.3L729.4,426.1L729.7,425.0L730.0,423.9L730.3,422.9L730.5,421.9L730.8,420.9L731.1,420.0L731.4,419.1L731.7,418.2L732.0,417.4L732.2,416.5L732.5,415.7L732.8,415.0L733.1,414.2L733.4,413.5L733.7,412.8L733.9,412.1L734.2,411.5L734.5,410.9L734.8,410.2L735.1,409.7L735.4,409.1L735.6,408.5L735.9,408.0L736.2,407.5L736.5,407.0L736.8,406.5L737.1,406.0L737.3,405.6L737.6,405.2L737.9,404.7L738.2,404.3L738.5,403.9L738.8,403.6L739.0,403.2L739.3,402.8L739.6,402.5L739.9,402.1L740.2,401.8L740.5,401.5L740.7,401.2L741.0,400.9L741.3,400.6L741.6,400.4L741.9,400.1L742.2,399.8L742.4,399.6L742.7,399.4L743.0,399.1L743.3,398.9L743.6,398.7L743.9,398.5L744.1,398.3L744.4,398.1L744.7,397.9L745.0,397.7L745.3,397.5L745.5,397.4L745.8,397.2L746.1,397.0L746.4,396.9L746.7,396.7L747.0,396.6L747.2,396.4L747.5,396.3L747.8,396.2L748.1,396.0L748.4,395.9L748.7,395.8L748.9,395.7L749.2,395.6L749.5,395.5L749.8,395.4L750.1,395.3L750.4,395.2L750.6,395.1L750.9,395.0L751.2,394.9L751.5,394.8L751.8,394.7L752.1,394.6L752.3,394.6L752.6,394.5L752.9,394.4L753.2,394.4L753.5,394.3L753.8,394.2L754.0,394.2L754.3,394.1L754.6,394.0L754.9,394.0L755.2,393.9L755.5,393.9L755.7,393.8L756.0,393.8L756.3,393.7L756.6,393.7L756.9,393.6L757.2,393.6L757.4,393.5L757.7,393.5L758.0,393.5L758.3,393.4L758.6,393.4L758.9,393.4L759.1,393.3L759.4,393.3L759.7,393.3L760.0,434.3L760.3,435.2L760.6,436.0L760.8,436.8L761.1,437.7L761.4,438.5L761.7,439.3L762.0,440.0L762.3,440.8L762.5,441.5L762.8,442.3L763.1,443.0L763.4,443.7L763.7,444.4L764.0,445.1L764.2,445.7L764.5,446.4L764.8,447.0L765.1,447.7L765.4,448.3L765.7,448.9L765.9,449.5L766.2,450.1L766.5,450.6L766.8,451.2L767.1,451.8L767.4,452.3L767.6,452.9L767.9,453.4L768.2,453.9L768.5,454.4L768.8,454.9L769.0,455.4L769.3,455.9L769.6,456.4L769.9,456.9L770.2,457.3L770.5,457.8L770.7,458.2L771.0,458.7L771.3,459.1L771.6,459.5L771.9,459.9L772.2,460.4L772.4,460.8L772.7,461.2L773.0,461.6L773.3,462.0L773.6,462.3L773.9,462.7L774.1,463.1L774.4,463.4L774.7,463.8L775.0,464.2L775.3,464.5L775.6,464.8L775.8,465.2L776.1,465.5L776.4,465.8L776.7,466.2L777.0,466.5L777.3,466.8L777.5,467.1L777.8,467.4L778.1,467.7L778.4,468.0L778.7,468.3L779.0,468.6L779.2,468.9L779.5,469.2L779.8,469.4L780.1,469.7L780.4,470.0L780.7,470.2L780.9,470.5L781.2,470.8L781.5,471.0L781.8,471.3L782.1,471.5L782.4,471.8L782.6,472.0L782.9,472.2L783.2,472.5L783.5,472.7L783.8,472.9L784.1,473.2L784.3,473.4L784.6,473.6L784.9,473.8L785.2,474.0L785.5,474.2L785.8,474.5L786.0,474.7L786.3,474.9L786.6,475.1L786.9,475.3L787.2,475.5L787.5,475.7L787.7,475.8L788.0,476.0L788.3,476.2L788.6,476.4L788.9,476.6L789.2,476.8L789.4,477.0L789.7,477.1L790.0,477.3L790.3,477.5L790.6,477.7L790.8,477.8L791.1,478.0L791.4,478.2L791.7,478.3L792.0,478.5L792.3,478.6L792.5,478.8L792.8,479.0L793.1,479.1L793.4,479.3L793.7,479.4L794.0,479.6L794.2,479.7L794.5,479.9L794.8,480.0L795.1,480.2L795.4,480.3L795.7,480.4L795.9,480.6L796.2,480.7L796.5,480.8L796.8,481.0L797.1,481.1L797.4,481.3L797.6,481.4L797.9,481.5L798.2,481.6L798.5,481.8L798.8,481.9L799.1,482.0L799.3,482.1L799.6,482.3L799.9,482.4L800.2,482.5L800.5,482.6L800.8,482.7L801.0,482.9L801.3,483.0L801.6,483.1L801.9,483.2L802.2,483.3L802.5,483.4L802.7,483.5L803.0,483.6L803.3,483.8L803.6,483.9L803.9,484.0L804.2,484.1L804.4,484.2L804.7,484.3L805.0,484.4L805.3,484.5L805.6,484.6L805.9,484.7L806.1,484.8L806.4,484.9L806.7,485.0L807.0,485.1L807.3,485.2L807.6,485.3L807.8,485.4L808.1,485.4L808.4,485.5L808.7,485.6L809.0,485.7L809.3,485.8L809.5,485.9L809.8,486.0L810.1,486.1L810.4,486.2L810.7,486.2L811.0,486.3L811.2,486.4L811.5,486.5L811.8,486.6L812.1,486.7L812.4,486.7L812.7,486.8L812.9,486.9L813.2,487.0L813.5,487.1" fill="none" stroke="#ff00ff" stroke-width="3" stroke-linejoin="round" clip-path="url(#clipa)"/>
<path d="M134.0,301.7L134.3,301.7L134.6,301.7L134.8,301.8L135.1,301.8L135.4,301.8L135.7,301.8L136.0,301.9L136.3,301.9L136.5,301.9L136.8,302.0L137.1,302.0L137.4,302.0L137.7,302.0L138.0,302.1L138.2,302.1L138.5,302.1L138.8,302.2L139.1,302.2L139.4,302.2L139.7,302.2L139.9,302.3L140.2,302.3L140.5,302.3L140.8,302.4L141.1,302.4L141.4,302.4L141.6,302.4L141.9,302.5L142.2,302.5L142.5,302.5L142.8,302.6L143.1,302.6L143.3,302.6L143.6,302.6L143.9,302.7L144.2,302.7L144.5,302.7L144.8,302.8L145.0,302.8L145.3,302.8L145.6,302.9L145.9,302.9L146.2,302.9L146.5,302.9L146.7,303.0L147.0,303.0L147.3,303.0L147.6,303.1L147.9,303.1L148.2,303.1L148.4,303.1L148.7,303.2L149.0,303.2L149.3,303.2L149.6,303.3L149.9,303.3L150.1,303.3L150.4,303.3L150.7,303.4L151.0,303.4L151.3,303.4L151.6,303.5L151.8,303.5L152.1,303.5L152.4,303.5L152.7,303.6L153.0,303.6L153.3,303.6L153.5,303.7L153.8,303.7L154.1,303.7L154.4,303.7L154.7,303.8L155.0,303.8L155.2,303.8L155.5,303.9L155.8,303.9L156.1,303.9L156.4,303.9L156.6,304.0L156.9,304.0L157.2,304.0L157.5,304.1L157.8,304.1L158.1,304.1L158.3,304.1L158.6,304.2L158.9,304.2L159.2,304.2L159.5,304.3L159.8,304.3L160.0,304.3L160.3,277.1L160.6,276.0L160.9,275.0L161.2,273.9L161.5,272.9L161.7,272.0L162.0,271.1L162.3,270.2L162.6,269.3L162.9,268.5L163.2,267.7L163.4,266.9L163.7,266.1L164.0,265.4L164.3,264.7L164.6,264.0L164.9,263.3L165.1,262.7L165.4,262.1L165.7,261.5L166.0,260.9L166.3,260.3L166.6,259.8L166.8,259.2L167.1,258.7L167.4,258.2L167.7,257.8L168.0,257.3L168.3,256.9L168.5,256.4L168.8,256.0L169.1,255.6L169.4,255.2L169.7,254.9L170.0,254.5L170.2,254.1L170.5,253.8L170.8,253.5L171.1,253.2L171.4,252.8L171.7,252.5L171.9,252.3L172.2,252.0L172.5,251.7L172.8,251.4L173.1,251.2L173.4,251.0L173.6,250.7L173.9,250.5L174.2,250.3L174.5,250.1L174.8,249.8L175.1,249.6L175.3,249.5L175.6,249.3L175.9,249.1L176.2,248.9L176.5,248.7L176.8,248.6L177.0,248.4L177.3,248.3L177.6,248.1L177.9,248.0L178.2,247.8L178.5,247.7L178.7,247.6L179.0,247.5L179.3,247.3L179.6,247.2L179.9,247.1L180.1,247.0L180.4,246.9L180.7,246.8L181.0,246.7L181.3,246.6L181.6,246.5L181.8,246.4L182.1,246.3L182.4,246.2L182.7,246.2L183.0,246.1L183.3,246.0L183.5,245.9L183.8,245.9L184.1,245.8L184.4,245.7L184.7,245.7L185.0,245.6L185.2,245.5L185.5,245.5L185.8,245.4L186.1,245.4L186.4,245.3L186.7,245.3L186.9,245.2L187.2,245.2L187.5,245.1L187.8,245.1L188.1,245.0L188.4,245.0L188.6,244.9L188.9,244.9L189.2,244.9L189.5,244.8L189.8,244.8L190.1,244.8L190.3,244.7L190.6,244.7L190.9,244.7L191.2,244.6L191.5,244.6L191.8,244.6L192.0,244.6L192.3,244.5L192.6,244.5L192.9,244.5L193.2,244.5L193.5,244.4L193.7,244.4L194.0,244.4L194.3,244.4L194.6,266.7L194.9,267.3L195.2,267.9L195.4,268.4L195.7,269.0L196.0,269.5L196.3,270.0L196.6,270.5L196.9,271.0L197.1,271.5L197.4,271.9L197.7,272.4L198.0,272.8L198.3,273.3L198.6,273.7L198.8,274.1L199.1,274.5L199.4,274.9L199.7,275.3L200.0,275.7L200.3,276.1L200.5,276.4L200.8,276.8L201.1,277.1L201.4,277.5L201.7,277.8L202.0,278.2L202.2,278.5L202.5,278.8L202.8,279.1L203.1,279.4L203.4,279.7L203.6,280.0L203.9,280.3L204.2,280.6L204.5,280.9L204.8,281.2L205.1,281.5L205.3,281.7L205.6,282.0L205.9,282.2L206.2,282.5L206.5,282.7L206.8,283.0L207.0,283.2L207.3,283.5L207.6,283.7L207.9,283.9L208.2,284.2L208.5,284.4L208.7,284.6L209.0,284.8L209.3,285.0L209.6,285.2L209.9,285.4L210.2,285.7L210.4,285.9L210.7,286.0L211.0,286.2L211.3,286.4L211.6,286.6L211.9,286.8L212.1,287.0L212.4,287.2L212.7,287.4L213.0,287.5L213.3,287.7L213.6,287.9L213.8,288.0L214.1,288.2L214.4,288.4L214.7,288.5L215.0,288.7L215.3,288.9L215.5,289.0L215.8,289.2L216.1,289.3L216.4,289.5L216.7,289.6L217.0,289.8L217.2,289.9L217.5,290.1L217.8,290.2L218.1,290.3L218.4,290.5L218.7,290.6L218.9,290.8L219.2,290.9L219.5,291.0L219.8,291.2L220.1,291.3L220.4,291.4L220.6,291.5L220.9,291.7L221.2,291.8L221.5,291.9L221.8,292.0L222.1,292.2L222.3,292.3L222.6,292.4L222.9,292.5L223.2,292.6L223.5,292.8L223.8,292.9L224.0,293.0L224.3,293.1L224.6,293.2L224.9,293.3L225.2,293.4L225.4,293.5L225.7,293.6L226.0,293.7L226.3,293.8L226.6,293.9L226.9,294.0L227.1,294.1L227.4,294.2L227.7,294.3L228.0,294.4L228.3,294.5L228.6,294.6L228.8,294.7L229.1,294.8L229.4,294.9L229.7,295.0L230.0,295.1L230.3,295.2L230.5,295.3L230.8,295.4L231.1,295.5L231.4,295.6L231.7,295.7L232.0,295.7L232.2,295.8L232.5,295.9L232.8,296.0L233.1,296.1L233.4,296.2L233.7,296.3L233.9,296.3L234.2,296.4L234.5,296.5L234.8,296.6L235.1,296.7L235.4,296.7L235.6,296.8L235.9,296.9L236.2,297.0L236.5,297.0L236.8,297.1L237.1,297.2L237.3,297.3L237.6,297.3L237.9,297.4L238.2,297.5L238.5,297.6L238.8,297.6L239.0,297.7L239.3,297.8L239.6,297.8L239.9,297.9L240.2,298.0L240.5,298.1L240.7,298.1L241.0,298.2L241.3,298.3L241.6,298.3L241.9,298.4L242.2,298.5L242.4,298.5L242.7,298.6L243.0,298.6L243.3,298.7L243.6,298.8L243.9,298.8L244.1,298.9L244.4,299.0L244.7,299.0L245.0,299.1L245.3,299.1L245.6,299.2L245.8,299.3L246.1,299.3L246.4,299.4L246.7,299.4L247.0,299.5L247.3,299.5L247.5,299.6L247.8,299.7L248.1,299.7L248.4,299.8L248.7,299.8L248.9,299.9L249.2,299.9L249.5,300.0L249.8,300.0L250.1,300.1L250.4,300.1L250.6,300.2L250.9,300.3L251.2,300.3L251.5,300.4L251.8,300.4L252.1,300.5L252.3,300.5L252.6,300.6L252.9,300.6L253.2,300.7L253.5,300.7L253.8,300.7L254.0,300.8L254.3,300.8L254.6,300.9L254.9,300.9L255.2,301.0L255.5,301.0L255.7,301.1L256.0,301.1L256.3,301.2L256.6,301.2L256.9,301.3L257.2,301.3L257.4,301.3L257.7,301.4L258.0,301.4L258.3,301.5L258.6,301.5L258.9,301.6L259.1,301.6L259.4,301.6L259.7,301.7L260.0,301.7L260.3,301.8L260.6,301.8L260.8,301.8L261.1,301.9L261.4,301.9L261.7,302.0L262.0,302.0L262.3,302.0L262.5,302.1L262.8,302.1L263.1,302.2L263.4,302.2L263.7,302.2L264.0,302.3L264.2,302.3L264.5,302.3L264.8,302.4L265.1,302.4L265.4,302.4L265.7,302.5L265.9,302.5L266.2,302.6L266.5,302.6L266.8,302.6L267.1,302.7L267.4,302.7L267.6,302.7L267.9,302.8L268.2,302.8L268.5,302.8L268.8,302.9L269.1,302.9L269.3,302.9L269.6,303.0L269.9,303.0L270.2,303.0L270.5,303.0L270.7,303.1L271.0,303.1L271.3,303.1L271.6,303.2L271.9,303.2L272.2,303.2L272.4,303.3L272.7,303.3L273.0,303.3L273.3,278.2L273.6,277.1L273.9,276.0L274.1,275.0L274.4,273.9L274.7,272.9L275.0,272.0L275.3,271.1L275.6,270.2L275.8,269.3L276.1,268.5L276.4,267.7L276.7,266.9L277.0,266.1L277.3,265.4L277.5,264.7L277.8,264.0L278.1,263.3L278.4,262.7L278.7,262.1L279.0,261.5L279.2,260.9L279.5,260.3L279.8,259.8L280.1,259.2L280.4,258.7L280.7,258.2L280.9,257.8L281.2,257.3L281.5,256.9L281.8,256.4L282.1,256.0L282.4,255.6L282.6,255.2L282.9,254.9L283.2,254.5L283.5,254.1L283.8,253.8L284.1,253.5L284.3,253.2L284.6,252.8L284.9,252.5L285.2,252.3L285.5,252.0L285.8,251.7L286.0,251.4L286.3,251.2L286.6,251.0L286.9,250.7L287.2,250.5L287.5,250.3L287.7,250.1L288.0,249.8L288.3,249.6L288.6,249.5L288.9,249.3L289.2,249.1L289.4,248.9L289.7,248.7L290.0,248.6L290.3,248.4L290.6,248.3L290.9,248.1L291.1,248.0L291.4,247.8L291.7,247.7L292.0,247.6L292.3,247.5L292.6,247.3L292.8,247.2L293.1,247.1L293.4,247.0L293.7,246.9L294.0,246.8L294.2,246.7L294.5,246.6L294.8,246.5L295.1,246.4L295.4,246.3L295.7,246.2L295.9,246.2L296.2,246.1L296.5,246.0L296.8,245.9L297.1,245.9L297.4,245.8L297.6,245.7L297.9,245.7L298.2,245.6L298.5,245.5L298.8,245.5L299.1,245.4L299.3,245.4L299.6,245.3L299.9,245.3L300.2,245.2L300.5,245.2L300.8,245.1L301.0,245.1L301.3,245.0L301.6,245.0L301.9,244.9L302.2,244.9L302.5,244.9L302.7,244.8L303.0,244.8L303.3,244.8L303.6,244.7L303.9,244.7L304.2,244.7L304.4,244.6L304.7,244.6L305.0,244.6L305.3,244.6L305.6,244.5L305.9,244.5L306.1,244.5L306.4,244.5L306.7,244.4L307.0,244.4L307.3,244.4L307.6,244.4L307.8,266.7L308.1,267.3L308.4,267.9L308.7,268.4L309.0,269.0L309.3,269.5L309.5,270.0L309.8,270.5L310.1,271.0L310.4,271.5L310.7,271.9L311.0,272.4L311.2,272.8L311.5,273.3L311.8,273.7L312.1,274.1L312.4,274.5L312.7,274.9L312.9,275.3L313.2,275.7L313.5,276.1L313.8,276.4L314.1,276.8L314.4,277.1L314.6,277.5L314.9,277.8L315.2,278.2L315.5,278.5L315.8,278.8L316.0,279.1L316.3,279.4L316.6,279.7L316.9,280.0L317.2,280.3L317.5,280.6L317.7,280.9L318.0,281.2L318.3,281.5L318.6,281.7L318.9,282.0L319.2,282.2L319.4,282.5L319.7,282.7L320.0,283.0L320.3,283.2L320.6,283.5L320.9,283.7L321.1,283.9L321.4,284.2L321.7,284.4L322.0,284.6L322.3,284.8L322.6,285.0L322.8,285.2L323.1,285.4L323.4,285.7L323.7,285.9L324.0,286.0L324.3,286.2L324.5,286.4L324.8,286.6L325.1,286.8L325.4,287.0L325.7,287.2L326.0,287.4L326.2,287.5L326.5,287.7L326.8,287.9L327.1,288.0L327.4,288.2L327.7,288.4L327.9,288.5L328.2,288.7L328.5,288.9L328.8,289.0L329.1,289.2L329.4,289.3L329.6,289.5L329.9,289.6L330.2,289.8L330.5,289.9L330.8,290.1L331.1,290.2L331.3,290.3L331.6,290.5L331.9,290.6L332.2,290.8L332.5,290.9L332.8,291.0L333.0,291.2L333.3,291.3L333.6,291.4L333.9,291.5L334.2,291.7L334.5,291.8L334.7,291.9L335.0,292.0L335.3,292.2L335.6,292.3L335.9,292.4L336.2,292.5L336.4,292.6L336.7,292.8L337.0,292.9L337.3,293.0L337.6,293.1L337.9,293.2L338.1,293.3L338.4,293.4L338.7,293.5L339.0,293.6L339.3,293.7L339.5,293.8L339.8,293.9L340.1,294.0L340.4,294.1L340.7,294.2L341.0,294.3L341.2,294.4L341.5,294.5L341.8,294.6L342.1,294.7L342.4,294.8L342.7,294.9L342.9,295.0L343.2,295.1L343.5,295.2L343.8,295.3L344.1,295.4L344.4,295.5L344.6,295.6L344.9,295.7L345.2,295.7L345.5,295.8L345.8,295.9L346.1,296.0L346.3,296.1L346.6,296.2L346.9,296.3L347.2,296.3L347.5,296.4L347.8,296.5L348.0,296.6L348.3,296.7L348.6,296.7L348.9,296.8L349.2,296.9L349.5,297.0L349.7,297.0L350.0,297.1L350.3,297.2L350.6,297.3L350.9,297.3L351.2,297.4L351.4,297.5L351.7,297.6L352.0,297.6L352.3,297.7L352.6,297.8L352.9,297.8L353.1,297.9L353.4,298.0L353.7,298.1L354.0,298.1L354.3,298.2L354.6,298.3L354.8,298.3L355.1,298.4L355.4,298.5L355.7,298.5L356.0,298.6L356.3,298.6L356.5,298.7L356.8,298.8L357.1,298.8L357.4,298.9L357.7,299.0L358.0,299.0L358.2,299.1L358.5,299.1L358.8,299.2L359.1,299.3L359.4,299.3L359.7,299.4L359.9,299.4L360.2,299.5L360.5,299.5L360.8,299.6L361.1,299.7L361.3,299.7L361.6,299.8L361.9,299.8L362.2,299.9L362.5,299.9L362.8,300.0L363.0,300.0L363.3,300.1L363.6,300.1L363.9,300.2L364.2,300.3L364.5,300.3L364.7,300.4L365.0,300.4L365.3,300.5L365.6,300.5L365.9,300.6L366.2,300.6L366.4,300.7L366.7,300.7L367.0,300.7L367.3,300.8L367.6,300.8L367.9,300.9L368.1,300.9L368.4,301.0L368.7,301.0L369.0,301.1L369.3,301.1L369.6,301.2L369.8,301.2L370.1,301.3L370.4,301.3L370.7,301.3L371.0,301.4L371.3,301.4L371.5,301.5L371.8,301.5L372.1,301.6L372.4,301.6L372.7,301.6L373.0,301.7L373.2,301.7L373.5,301.8L373.8,301.8L374.1,301.8L374.4,301.9L374.7,301.9L374.9,302.0L375.2,302.0L375.5,302.0L375.8,302.1L376.1,302.1L376.4,302.2L376.6,302.2L376.9,302.2L377.2,302.3L377.5,302.3L377.8,302.3L378.1,302.4L378.3,302.4L378.6,302.4L378.9,302.5L379.2,302.5L379.5,302.6L379.8,302.6L380.0,302.6L380.3,302.7L380.6,302.7L380.9,302.7L381.2,302.8L381.5,302.8L381.7,302.8L382.0,302.9L382.3,302.9L382.6,302.9L382.9,303.0L383.1,303.0L383.4,303.0L383.7,303.0L384.0,303.1L384.3,303.1L384.6,303.1L384.8,303.2L385.1,303.2L385.4,303.2L385.7,303.3L386.0,303.3L386.3,303.3L386.5,303.3L386.8,277.1L387.1,276.0L387.4,275.0L387.7,273.9L388.0,272.9L388.2,272.0L388.5,271.1L388.8,270.2L389.1,269.3L389.4,268.5L389.7,267.7L389.9,266.9L390.2,266.1L390.5,265.4L390.8,264.7L391.1,264.0L391.4,263.3L391.6,262.7L391.9,262.1L392.2,261.5L392.5,260.9L392.8,260.3L393.1,259.8L393.3,259.2L393.6,258.7L393.9,258.2L394.2,257.8L394.5,257.3L394.8,256.9L395.0,256.4L395.3,256.0L395.6,255.6L395.9,255.2L396.2,254.9L396.5,254.5L396.7,254.1L397.0,253.8L397.3,253.5L397.6,253.2L397.9,252.8L398.2,252.5L398.4,252.3L398.7,252.0L399.0,251.7L399.3,251.4L399.6,251.2L399.9,251.0L400.1,250.7L400.4,250.5L400.7,250.3L401.0,250.1L401.3,249.8L401.6,249.6L401.8,249.5L402.1,249.3L402.4,249.1L402.7,248.9L403.0,248.7L403.3,248.6L403.5,248.4L403.8,248.3L404.1,248.1L404.4,248.0L404.7,247.8L405.0,247.7L405.2,247.6L405.5,247.5L405.8,247.3L406.1,247.2L406.4,247.1L406.6,247.0L406.9,246.9L407.2,246.8L407.5,246.7L407.8,246.6L408.1,246.5L408.3,246.4L408.6,246.3L408.9,246.2L409.2,246.2L409.5,246.1L409.8,246.0L410.0,245.9L410.3,245.9L410.6,245.8L410.9,245.7L411.2,245.7L411.5,245.6L411.7,245.5L412.0,245.5L412.3,245.4L412.6,245.4L412.9,245.3L413.2,245.3L413.4,245.2L413.7,245.2L414.0,245.1L414.3,245.1L414.6,245.0L414.9,245.0L415.1,244.9L415.4,244.9L415.7,244.9L416.0,244.8L416.3,244.8L416.6,244.8L416.8,244.7L417.1,244.7L417.4,244.7L417.7,244.6L418.0,244.6L418.3,244.6L418.5,244.6L418.8,244.5L419.1,244.5L419.4,244.5L419.7,244.5L420.0,244.4L420.2,244.4L420.5,244.4L420.8,244.4L421.1,244.3L421.4,267.3L421.7,267.9L421.9,268.4L422.2,269.0L422.5,269.5L422.8,270.0L423.1,270.5L423.4,271.0L423.6,271.5L423.9,271.9L424.2,272.4L424.5,272.8L424.8,273.3L425.1,273.7L425.3,274.1L425.6,274.5L425.9,274.9L426.2,275.3L426.5,275.7L426.8,276.1L427.0,276.4L427.3,276.8L427.6,277.1L427.9,277.5L428.2,277.8L428.4,278.2L428.7,278.5L429.0,278.8L429.3,279.1L429.6,279.4L429.9,279.7L430.1,280.0L430.4,280.3L430.7,280.6L431.0,280.9L431.3,281.2L431.6,281.5L431.8,281.7L432.1,282.0L432.4,282.2L432.7,282.5L433.0,282.7L433.3,283.0L433.5,283.2L433.8,283.5L434.1,283.7L434.4,283.9L434.7,284.2L435.0,284.4L435.2,284.6L435.5,284.8L435.8,285.0L436.1,285.2L436.4,285.4L436.7,285.7L436.9,285.9L437.2,286.0L437.5,286.2L437.8,286.4L438.1,286.6L438.4,286.8L438.6,287.0L438.9,287.2L439.2,287.4L439.5,287.5L439.8,287.7L440.1,287.9L440.3,288.0L440.6,288.2L440.9,288.4L441.2,288.5L441.5,288.7L441.8,288.9L442.0,289.0L442.3,289.2L442.6,289.3L442.9,289.5L443.2,289.6L443.5,289.8L443.7,289.9L444.0,290.1L444.3,290.2L444.6,290.3L444.9,290.5L445.2,290.6L445.4,290.8L445.7,290.9L446.0,291.0L446.3,291.2L446.6,291.3L446.9,291.4L447.1,291.5L447.4,291.7L447.7,291.8L448.0,291.9L448.3,292.0L448.6,292.2L448.8,292.3L449.1,292.4L449.4,292.5L449.7,292.6L450.0,292.8L450.3,292.9L450.5,293.0L450.8,293.1L451.1,293.2L451.4,293.3L451.7,293.4L451.9,293.5L452.2,293.6L452.5,293.7L452.8,293.8L453.1,293.9L453.4,294.0L453.6,294.1L453.9,294.2L454.2,294.3L454.5,294.4L454.8,294.5L455.1,294.6L455.3,294.7L455.6,294.8L455.9,294.9L456.2,295.0L456.5,295.1L456.8,295.2L457.0,295.3L457.3,295.4L457.6,295.5L457.9,295.6L458.2,295.7L458.5,295.7L458.7,295.8L459.0,295.9L459.3,296.0L459.6,296.1L459.9,296.2L460.2,296.3L460.4,296.3L460.7,296.4L461.0,296.5L461.3,296.6L461.6,296.7L461.9,296.7L462.1,296.8L462.4,296.9L462.7,297.0L463.0,297.0L463.3,297.1L463.6,297.2L463.8,297.3L464.1,297.3L464.4,297.4L464.7,297.5L465.0,297.6L465.3,297.6L465.5,297.7L465.8,297.8L466.1,297.8L466.4,297.9L466.7,298.0L467.0,298.1L467.2,298.1L467.5,298.2L467.8,298.3L468.1,298.3L468.4,298.4L468.7,298.5L468.9,298.5L469.2,298.6L469.5,298.6L469.8,298.7L470.1,298.8L470.4,298.8L470.6,298.9L470.9,299.0L471.2,299.0L471.5,299.1L471.8,299.1L472.1,299.2L472.3,299.3L472.6,299.3L472.9,299.4L473.2,299.4L473.5,299.5L473.7,299.5L474.0,299.6L474.3,299.7L474.6,299.7L474.9,299.8L475.2,299.8L475.4,299.9L475.7,299.9L476.0,300.0L476.3,300.0L476.6,300.1L476.9,300.1L477.1,300.2L477.4,300.3L477.7,300.3L478.0,300.4L478.3,300.4L478.6,300.5L478.8,300.5L479.1,300.6L479.4,300.6L479.7,300.7L480.0,300.7L480.3,300.7L480.5,300.8L480.8,300.8L481.1,300.9L481.4,300.9L481.7,301.0L482.0,301.0L482.2,301.1L482.5,301.1L482.8,301.2L483.1,301.2L483.4,301.3L483.7,301.3L483.9,301.3L484.2,301.4L484.5,301.4L484.8,301.5L485.1,301.5L485.4,301.6L485.6,301.6L485.9,301.6L486.2,301.7L486.5,301.7L486.8,301.8L487.1,301.8L487.3,301.8L487.6,301.9L487.9,301.9L488.2,302.0L488.5,302.0L488.8,302.0L489.0,302.1L489.3,302.1L489.6,302.2L489.9,302.2L490.2,302.2L490.5,302.3L490.7,302.3L491.0,302.3L491.3,302.4L491.6,302.4L491.9,302.4L492.2,302.5L492.4,302.5L492.7,302.6L493.0,302.6L493.3,302.6L493.6,302.7L493.9,302.7L494.1,302.7L494.4,302.8L494.7,302.8L495.0,302.8L495.3,302.9L495.6,302.9L495.8,302.9L496.1,303.0L496.4,303.0L496.7,303.0L497.0,303.0L497.2,303.1L497.5,303.1L497.8,303.1L498.1,303.2L498.4,303.2L498.7,303.2L498.9,303.3L499.2,303.3L499.5,303.3L499.8,303.3L500.1,277.1L500.4,276.0L500.6,275.0L500.9,273.9L501.2,272.9L501.5,272.0L501.8,271.1L502.1,270.2L502.3,269.3L502.6,268.5L502.9,267.7L503.2,266.9L503.5,266.1L503.8,265.4L504.0,264.7L504.3,264.0L504.6,263.3L504.9,262.7L505.2,262.1L505.5,261.5L505.7,260.9L506.0,260.3L506.3,259.8L506.6,259.2L506.9,258.7L507.2,258.2L507.4,257.8L507.7,257.3L508.0,256.9L508.3,256.4L508.6,256.0L508.9,255.6L509.1,255.2L509.4,254.9L509.7,254.5L510.0,254.1L510.3,253.8L510.6,253.5L510.8,253.2L511.1,252.8L511.4,252.5L511.7,252.3L512.0,252.0L512.3,251.7L512.5,251.4L512.8,251.2L513.1,251.0L513.4,250.7L513.7,250.5L514.0,250.3L514.2,250.1L514.5,249.8L514.8,249.6L515.1,249.5L515.4,249.3L515.7,249.1L515.9,248.9L516.2,248.7L516.5,248.6L516.8,248.4L517.1,248.3L517.4,248.1L517.6,248.0L517.9,247.8L518.2,247.7L518.5,247.6L518.8,247.5L519.0,247.3L519.3,247.2L519.6,247.1L519.9,247.0L520.2,246.9L520.5,246.8L520.7,246.7L521.0,246.6L521.3,246.5L521.6,246.4L521.9,246.3L522.2,246.2L522.4,246.2L522.7,246.1L523.0,246.0L523.3,245.9L523.6,245.9L523.9,245.8L524.1,245.7L524.4,245.7L524.7,245.6L525.0,245.5L525.3,245.5L525.6,245.4L525.8,245.4L526.1,245.3L526.4,245.3L526.7,245.2L527.0,245.2L527.3,245.1L527.5,245.1L527.8,245.0L528.1,245.0L528.4,244.9L528.7,244.9L529.0,244.9L529.2,244.8L529.5,244.8L529.8,244.8L530.1,244.7L530.4,244.7L530.7,244.7L530.9,244.6L531.2,244.6L531.5,244.6L531.8,244.6L532.1,244.5L532.4,244.5L532.6,244.5L532.9,244.5L533.2,244.4L533.5,244.4L533.8,244.4L534.1,244.4L534.3,244.3L534.6,267.3L534.9,267.9L535.2,268.4L535.5,269.0L535.8,269.5L536.0,270.0L536.3,270.5L536.6,271.0L536.9,271.5L537.2,271.9L537.5,272.4L537.7,272.8L538.0,273.3L538.3,273.7L538.6,274.1L538.9,274.5L539.2,274.9L539.4,275.3L539.7,275.7L540.0,276.1L540.3,276.4L540.6,276.8L540.9,277.1L541.1,277.5L541.4,277.8L541.7,278.2L542.0,278.5L542.3,278.8L542.5,279.1L542.8,279.4L543.1,279.7L543.4,280.0L543.7,280.3L544.0,280.6L544.2,280.9L544.5,281.2L544.8,281.5L545.1,281.7L545.4,282.0L545.7,282.2L545.9,282.5L546.2,282.7L546.5,283.0L546.8,283.2L547.1,283.5L547.4,283.7L547.6,283.9L547.9,284.2L548.2,284.4L548.5,284.6L548.8,284.8L549.1,285.0L549.3,285.2L549.6,285.4L549.9,285.7L550.2,285.9L550.5,286.0L550.8,286.2L551.0,286.4L551.3,286.6L551.6,286.8L551.9,287.0L552.2,287.2L552.5,287.4L552.7,287.5L553.0,287.7L553.3,287.9L553.6,288.0L553.9,288.2L554.2,288.4L554.4,288.5L554.7,288.7L555.0,288.9L555.3,289.0L555.6,289.2L555.9,289.3L556.1,289.5L556.4,289.6L556.7,289.8L557.0,289.9L557.3,290.1L557.6,290.2L557.8,290.3L558.1,290.5L558.4,290.6L558.7,290.8L559.0,290.9L559.3,291.0L559.5,291.2L559.8,291.3L560.1,291.4L560.4,291.5L560.7,291.7L561.0,291.8L561.2,291.9L561.5,292.0L561.8,292.2L562.1,292.3L562.4,292.4L562.7,292.5L562.9,292.6L563.2,292.8L563.5,292.9L563.8,293.0L564.1,293.1L564.3,293.2L564.6,293.3L564.9,293.4L565.2,293.5L565.5,293.6L565.8,293.7L566.0,293.8L566.3,293.9L566.6,294.0L566.9,294.1L567.2,294.2L567.5,294.3L567.7,294.4L568.0,294.5L568.3,294.6L568.6,294.7L568.9,294.8L569.2,294.9L569.4,295.0L569.7,295.1L570.0,295.2L570.3,295.3L570.6,295.4L570.9,295.5L571.1,295.6L571.4,295.7L571.7,295.7L572.0,295.8L572.3,295.9L572.6,296.0L572.8,296.1L573.1,296.2L573.4,296.3L573.7,296.3L574.0,296.4L574.3,296.5L574.5,296.6L574.8,296.7L575.1,296.7L575.4,296.8L575.7,296.9L576.0,297.0L576.2,297.0L576.5,297.1L576.8,297.2L577.1,297.3L577.4,297.3L577.7,297.4L577.9,297.5L578.2,297.6L578.5,297.6L578.8,297.7L579.1,297.8L579.4,297.8L579.6,297.9L579.9,298.0L580.2,298.1L580.5,298.1L580.8,298.2L581.1,298.3L581.3,298.3L581.6,298.4L581.9,298.5L582.2,298.5L582.5,298.6L582.8,298.6L583.0,298.7L583.3,298.8L583.6,298.8L583.9,298.9L584.2,299.0L584.5,299.0L584.7,299.1L585.0,299.1L585.3,299.2L585.6,299.3L585.9,299.3L586.2,299.4L586.4,299.4L586.7,299.5L587.0,299.5L587.3,299.6L587.6,299.7L587.8,299.7L588.1,299.8L588.4,299.8L588.7,299.9L589.0,299.9L589.3,300.0L589.5,300.0L589.8,300.1L590.1,300.1L590.4,300.2L590.7,300.3L591.0,300.3L591.2,300.4L591.5,300.4L591.8,300.5L592.1,300.5L592.4,300.6L592.7,300.6L592.9,300.7L593.2,300.7L593.5,300.7L593.8,300.8L594.1,300.8L594.4,300.9L594.6,300.9L594.9,301.0L595.2,301.0L595.5,301.1L595.8,301.1L596.1,301.2L596.3,301.2L596.6,301.3L596.9,301.3L597.2,301.3L597.5,301.4L597.8,301.4L598.0,301.5L598.3,301.5L598.6,301.6L598.9,301.6L599.2,301.6L599.5,301.7L599.7,301.7L600.0,301.8L600.3,301.8L600.6,301.8L600.9,301.9L601.2,301.9L601.4,302.0L601.7,302.0L602.0,302.0L602.3,302.1L602.6,302.1L602.9,302.2L603.1,302.2L603.4,302.2L603.7,302.3L604.0,302.3L604.3,302.3L604.6,302.4L604.8,302.4L605.1,302.4L605.4,302.5L605.7,302.5L606.0,302.6L606.3,302.6L606.5,302.6L606.8,302.7L607.1,302.7L607.4,302.7L607.7,302.8L608.0,302.8L608.2,302.8L608.5,302.9L608.8,302.9L609.1,302.9L609.4,303.0L609.6,303.0L609.9,303.0L610.2,303.0L610.5,303.1L610.8,303.1L611.1,303.1L611.3,303.2L611.6,303.2L611.9,303.2L612.2,303.3L612.5,303.3L612.8,303.3L613.0,303.3L613.3,277.1L613.6,276.0L613.9,275.0L614.2,273.9L614.5,272.9L614.7,272.0L615.0,271.1L615.3,270.2L615.6,269.3L615.9,268.5L616.2,267.7L616.4,266.9L616.7,266.1L617.0,265.4L617.3,264.7L617.6,264.0L617.9,263.3L618.1,262.7L618.4,262.1L618.7,261.5L619.0,260.9L619.3,260.3L619.6,259.8L619.8,259.2L620.1,258.7L620.4,258.2L620.7,257.8L621.0,257.3L621.3,256.9L621.5,256.4L621.8,256.0L622.1,255.6L622.4,255.2L622.7,254.9L623.0,254.5L623.2,254.1L623.5,253.8L623.8,253.5L624.1,253.2L624.4,252.8L624.7,252.5L624.9,252.3L625.2,252.0L625.5,251.7L625.8,251.4L626.1,251.2L626.4,251.0L626.6,250.7L626.9,250.5L627.2,250.3L627.5,250.1L627.8,249.8L628.1,249.6L628.3,249.5L628.6,249.3L628.9,249.1L629.2,248.9L629.5,248.7L629.8,248.6L630.0,248.4L630.3,248.3L630.6,248.1L630.9,248.0L631.2,247.8L631.5,247.7L631.7,247.6L632.0,247.5L632.3,247.3L632.6,247.2L632.9,247.1L633.1,247.0L633.4,246.9L633.7,246.8L634.0,246.7L634.3,246.6L634.6,246.5L634.8,246.4L635.1,246.3L635.4,246.2L635.7,246.2L636.0,246.1L636.3,246.0L636.5,245.9L636.8,245.9L637.1,245.8L637.4,245.7L637.7,245.7L638.0,245.6L638.2,245.5L638.5,245.5L638.8,245.4L639.1,245.4L639.4,245.3L639.7,245.3L639.9,245.2L640.2,245.2L640.5,245.1L640.8,245.1L641.1,245.0L641.4,245.0L641.6,244.9L641.9,244.9L642.2,244.9L642.5,244.8L642.8,244.8L643.1,244.8L643.3,244.7L643.6,244.7L643.9,244.7L644.2,244.6L644.5,244.6L644.8,244.6L645.0,244.6L645.3,244.5L645.6,244.5L645.9,244.5L646.2,244.5L646.5,244.4L646.7,244.4L647.0,244.4L647.3,244.4L647.6,244.3L647.9,267.3L648.2,267.9L648.4,268.4L648.7,269.0L649.0,269.5L649.3,270.0L649.6,270.5L649.9,271.0L650.1,271.5L650.4,271.9L650.7,272.4L651.0,272.8L651.3,273.3L651.6,273.7L651.8,274.1L652.1,274.5L652.4,274.9L652.7,275.3L653.0,275.7L653.3,276.1L653.5,276.4L653.8,276.8L654.1,277.1L654.4,277.5L654.7,277.8L654.9,278.2L655.2,278.5L655.5,278.8L655.8,279.1L656.1,279.4L656.4,279.7L656.6,280.0L656.9,280.3L657.2,280.6L657.5,280.9L657.8,281.2L658.1,281.5L658.3,281.7L658.6,282.0L658.9,282.2L659.2,282.5L659.5,282.7L659.8,283.0L660.0,283.2L660.3,283.5L660.6,283.7L660.9,283.9L661.2,284.2L661.5,284.4L661.7,284.6L662.0,284.8L662.3,285.0L662.6,285.2L662.9,285.4L663.2,285.7L663.4,285.9L663.7,286.0L664.0,286.2L664.3,286.4L664.6,286.6L664.9,286.8L665.1,287.0L665.4,287.2L665.7,287.4L666.0,287.5L666.3,287.7L666.6,287.9L666.8,288.0L667.1,288.2L667.4,288.4L667.7,288.5L668.0,288.7L668.3,288.9L668.5,289.0L668.8,289.2L669.1,289.3L669.4,289.5L669.7,289.6L670.0,289.8L670.2,289.9L670.5,290.1L670.8,290.2L671.1,290.3L671.4,290.5L671.7,290.6L671.9,290.8L672.2,290.9L672.5,291.0L672.8,291.2L673.1,291.3L673.4,291.4L673.6,291.5L673.9,291.7L674.2,291.8L674.5,291.9L674.8,292.0L675.1,292.2L675.3,292.3L675.6,292.4L675.9,292.5L676.2,292.6L676.5,292.8L676.8,292.9L677.0,293.0L677.3,293.1L677.6,293.2L677.9,293.3L678.2,293.4L678.4,293.5L678.7,293.6L679.0,293.7L679.3,293.8L679.6,293.9L679.9,294.0L680.1,294.1L680.4,294.2L680.7,294.3L681.0,294.4L681.3,294.5L681.6,294.6L681.8,294.7L682.1,294.8L682.4,294.9L682.7,295.0L683.0,295.1L683.3,295.2L683.5,295.3L683.8,295.4L684.1,295.5L684.4,295.6L684.7,295.7L685.0,295.7L685.2,295.8L685.5,295.9L685.8,296.0L686.1,296.1L686.4,296.2L686.7,296.3L686.9,296.3L687.2,296.4L687.5,296.5L687.8,296.6L688.1,296.7L688.4,296.7L688.6,296.8L688.9,296.9L689.2,297.0L689.5,297.0L689.8,297.1L690.1,297.2L690.3,297.3L690.6,297.3L690.9,297.4L691.2,297.5L691.5,297.6L691.8,297.6L692.0,297.7L692.3,297.8L692.6,297.8L692.9,297.9L693.2,298.0L693.5,298.1L693.7,298.1L694.0,298.2L694.3,298.3L694.6,298.3L694.9,298.4L695.2,298.5L695.4,298.5L695.7,298.6L696.0,298.6L696.3,298.7L696.6,298.8L696.9,298.8L697.1,298.9L697.4,299.0L697.7,299.0L698.0,299.1L698.3,299.1L698.6,299.2L698.8,299.3L699.1,299.3L699.4,299.4L699.7,299.4L700.0,299.5L700.2,299.5L700.5,299.6L700.8,299.7L701.1,299.7L701.4,299.8L701.7,299.8L701.9,299.9L702.2,299.9L702.5,300.0L702.8,300.0L703.1,300.1L703.4,300.1L703.6,300.2L703.9,300.3L704.2,300.3L704.5,300.4L704.8,300.4L705.1,300.5L705.3,300.5L705.6,300.6L705.9,300.6L706.2,300.7L706.5,300.7L706.8,300.7L707.0,300.8L707.3,300.8L707.6,300.9L707.9,300.9L708.2,301.0L708.5,301.0L708.7,301.1L709.0,301.1L709.3,301.2L709.6,301.2L709.9,301.3L710.2,301.3L710.4,301.3L710.7,301.4L711.0,301.4L711.3,301.5L711.6,301.5L711.9,301.6L712.1,301.6L712.4,301.6L712.7,301.7L713.0,301.7L713.3,301.8L713.6,301.8L713.8,301.8L714.1,301.9L714.4,301.9L714.7,302.0L715.0,302.0L715.3,302.0L715.5,302.1L715.8,302.1L716.1,302.2L716.4,302.2L716.7,302.2L717.0,302.3L717.2,302.3L717.5,302.3L717.8,302.4L718.1,302.4L718.4,302.4L718.7,302.5L718.9,302.5L719.2,302.6L719.5,302.6L719.8,302.6L720.1,302.7L720.4,302.7L720.6,302.7L720.9,302.8L721.2,302.8L721.5,302.8L721.8,302.9L722.1,302.9L722.3,302.9L722.6,303.0L722.9,303.0L723.2,303.0L723.5,303.0L723.7,303.1L724.0,303.1L724.3,303.1L724.6,303.2L724.9,303.2L725.2,303.2L725.4,303.3L725.7,303.3L726.0,303.3L726.3,303.3L726.6,277.1L726.9,276.0L727.1,275.0L727.4,273.9L727.7,272.9L728.0,272.0L728.3,271.1L728.6,270.2L728.8,269.3L729.1,268.5L729.4,267.7L729.7,266.9L730.0,266.1L730.3,265.4L730.5,264.7L730.8,264.0L731.1,263.3L731.4,262.7L731.7,262.1L732.0,261.5L732.2,260.9L732.5,260.3L732.8,259.8L733.1,259.2L733.4,258.7L733.7,258.2L733.9,257.8L734.2,257.3L734.5,256.9L734.8,256.4L735.1,256.0L735.4,255.6L735.6,255.2L735.9,254.9L736.2,254.5L736.5,254.1L736.8,253.8L737.1,253.5L737.3,253.2L737.6,252.8L737.9,252.5L738.2,252.3L738.5,252.0L738.8,251.7L739.0,251.4L739.3,251.2L739.6,251.0L739.9,250.7L740.2,250.5L740.5,250.3L740.7,250.1L741.0,249.8L741.3,249.6L741.6,249.5L741.9,249.3L742.2,249.1L742.4,248.9L742.7,248.7L743.0,248.6L743.3,248.4L743.6,248.3L743.9,248.1L744.1,248.0L744.4,247.8L744.7,247.7L745.0,247.6L745.3,247.5L745.5,247.3L745.8,247.2L746.1,247.1L746.4,247.0L746.7,246.9L747.0,246.8L747.2,246.7L747.5,246.6L747.8,246.5L748.1,246.4L748.4,246.3L748.7,246.2L748.9,246.2L749.2,246.1L749.5,246.0L749.8,245.9L750.1,245.9L750.4,245.8L750.6,245.7L750.9,245.7L751.2,245.6L751.5,245.5L751.8,245.5L752.1,245.4L752.3,245.4L752.6,245.3L752.9,245.3L753.2,245.2L753.5,245.2L753.8,245.1L754.0,245.1L754.3,245.0L754.6,245.0L754.9,244.9L755.2,244.9L755.5,244.9L755.7,244.8L756.0,244.8L756.3,244.8L756.6,244.7L756.9,244.7L757.2,244.7L757.4,244.6L757.7,244.6L758.0,244.6L758.3,244.6L758.6,244.5L758.9,244.5L759.1,244.5L759.4,244.5L759.7,244.4L760.0,244.4L760.3,244.4L760.6,244.4L760.8,244.3L761.1,267.3L761.4,267.9L761.7,268.4L762.0,269.0L762.3,269.5L762.5,270.0L762.8,270.5L763.1,271.0L763.4,271.5L763.7,271.9L764.0,272.4L764.2,272.8L764.5,273.3L764.8,273.7L765.1,274.1L765.4,274.5L765.7,274.9L765.9,275.3L766.2,275.7L766.5,276.1L766.8,276.4L767.1,276.8L767.4,277.1L767.6,277.5L767.9,277.8L768.2,278.2L768.5,278.5L768.8,278.8L769.0,279.1L769.3,279.4L769.6,279.7L769.9,280.0L770.2,280.3L770.5,280.6L770.7,280.9L771.0,281.2L771.3,281.5L771.6,281.7L771.9,282.0L772.2,282.2L772.4,282.5L772.7,282.7L773.0,283.0L773.3,283.2L773.6,283.5L773.9,283.7L774.1,283.9L774.4,284.2L774.7,284.4L775.0,284.6L775.3,284.8L775.6,285.0L775.8,285.2L776.1,285.4L776.4,285.7L776.7,285.9L777.0,286.0L777.3,286.2L777.5,286.4L777.8,286.6L778.1,286.8L778.4,287.0L778.7,287.2L779.0,287.4L779.2,287.5L779.5,287.7L779.8,287.9L780.1,288.0L780.4,288.2L780.7,288.4L780.9,288.5L781.2,288.7L781.5,288.9L781.8,289.0L782.1,289.2L782.4,289.3L782.6,289.5L782.9,289.6L783.2,289.8L783.5,289.9L783.8,290.1L784.1,290.2L784.3,290.3L784.6,290.5L784.9,290.6L785.2,290.8L785.5,290.9L785.8,291.0L786.0,291.2L786.3,291.3L786.6,291.4L786.9,291.5L787.2,291.7L787.5,291.8L787.7,291.9L788.0,292.0L788.3,292.2L788.6,292.3L788.9,292.4L789.2,292.5L789.4,292.6L789.7,292.8L790.0,292.9L790.3,293.0L790.6,293.1L790.8,293.2L791.1,293.3L791.4,293.4L791.7,293.5L792.0,293.6L792.3,293.7L792.5,293.8L792.8,293.9L793.1,294.0L793.4,294.1L793.7,294.2L794.0,294.3L794.2,294.4L794.5,294.5L794.8,294.6L795.1,294.7L795.4,294.8L795.7,294.9L795.9,295.0L796.2,295.1L796.5,295.2L796.8,295.3L797.1,295.4L797.4,295.5L797.6,295.6L797.9,295.7L798.2,295.7L798.5,295.8L798.8,295.9L799.1,296.0L799.3,296.1L799.6,296.2L799.9,296.3L800.2,296.3L800.5,296.4L800.8,296.5L801.0,296.6L801.3,296.7L801.6,296.7L801.9,296.8L802.2,296.9L802.5,297.0L802.7,297.0L803.0,297.1L803.3,297.2L803.6,297.3L803.9,297.3L804.2,297.4L804.4,297.5L804.7,297.6L805.0,297.6L805.3,297.7L805.6,297.8L805.9,297.8L806.1,297.9L806.4,298.0L806.7,298.1L807.0,298.1L807.3,298.2L807.6,298.3L807.8,298.3L808.1,298.4L808.4,298.5L808.7,298.5L809.0,298.6L809.3,298.6L809.5,298.7L809.8,298.8L810.1,298.8L810.4,298.9L810.7,299.0L811.0,299.0L811.2,299.1L811.5,299.1L811.8,299.2L812.1,299.3L812.4,299.3L812.7,299.4L812.9,299.4L813.2,299.5L813.5,299.5" fill="none" stroke="#ff0000" stroke-width="3" stroke-linejoin="round" clip-path="url(#clipa)"/>
<path d="M134.0,312.3L134.3,312.3L134.6,312.3L134.8,312.3L135.1,312.3L135.4,312.4L135.7,312.4L136.0,312.4L136.3,312.4L136.5,312.4L136.8,312.5L137.1,312.5L137.4,312.5L137.7,312.5L138.0,312.5L138.2,312.5L138.5,312.6L138.8,312.6L139.1,312.6L139.4,312.6L139.7,312.6L139.9,312.7L140.2,312.7L140.5,312.7L140.8,312.7L141.1,312.7L141.4,312.7L141.6,312.8L141.9,312.8L142.2,312.8L142.5,312.8L142.8,312.8L143.1,312.8L143.3,312.9L143.6,312.9L143.9,312.9L144.2,312.9L144.5,312.9L144.8,313.0L145.0,313.0L145.3,313.0L145.6,313.0L145.9,313.0L146.2,313.0L146.5,313.1L146.7,313.1L147.0,313.1L147.3,313.1L147.6,313.1L147.9,313.2L148.2,313.2L148.4,313.2L148.7,313.2L149.0,313.2L149.3,313.2L149.6,313.3L149.9,313.3L150.1,313.3L150.4,313.3L150.7,313.3L151.0,313.3L151.3,313.4L151.6,313.4L151.8,313.4L152.1,313.4L152.4,313.4L152.7,313.5L153.0,313.5L153.3,313.5L153.5,313.5L153.8,313.5L154.1,313.5L154.4,313.6L154.7,313.6L155.0,313.6L155.2,313.6L155.5,313.6L155.8,313.7L156.1,313.7L156.4,313.7L156.6,313.7L156.9,313.7L157.2,313.7L157.5,313.8L157.8,313.8L158.1,313.8L158.3,313.8L158.6,313.8L158.9,313.8L159.2,313.9L159.5,313.9L159.8,313.9L160.0,313.9L160.3,313.9L160.6,314.0L160.9,314.0L161.2,314.0L161.5,314.0L161.7,314.0L162.0,314.0L162.3,314.1L162.6,314.1L162.9,314.1L163.2,314.1L163.4,314.1L163.7,314.1L164.0,314.2L164.3,314.2L164.6,314.2L164.9,314.2L165.1,314.2L165.4,314.3L165.7,314.3L166.0,314.3L166.3,314.3L166.6,314.3L166.8,314.3L167.1,314.4L167.4,314.4L167.7,314.4L168.0,314.4L168.3,314.4L168.5,314.5L168.8,314.5L169.1,314.5L169.4,301.4L169.7,301.1L170.0,300.8L170.2,300.6L170.5,300.3L170.8,300.1L171.1,299.8L171.4,299.6L171.7,299.4L171.9,299.1L172.2,298.9L172.5,298.7L172.8,298.5L173.1,298.3L173.4,298.1L173.6,297.9L173.9,297.7L174.2,297.5L174.5,297.3L174.8,297.1L175.1,297.0L175.3,296.8L175.6,296.6L175.9,296.5L176.2,296.3L176.5,296.2L176.8,296.0L177.0,295.9L177.3,295.7L177.6,295.6L177.9,295.5L178.2,295.3L178.5,295.2L178.7,295.1L179.0,295.0L179.3,294.8L179.6,294.7L179.9,294.6L180.1,294.5L180.4,294.4L180.7,294.3L181.0,294.2L181.3,294.1L181.6,294.0L181.8,293.9L182.1,293.8L182.4,293.7L182.7,293.6L183.0,293.6L183.3,293.5L183.5,293.4L183.8,293.3L184.1,293.2L184.4,293.2L184.7,293.1L185.0,293.0L185.2,292.9L185.5,292.9L185.8,292.8L186.1,292.7L186.4,292.7L186.7,292.6L186.9,292.6L187.2,292.5L187.5,292.4L187.8,292.4L188.1,292.3L188.4,292.3L188.6,292.2L188.9,292.2L189.2,292.1L189.5,292.1L189.8,292.0L190.1,292.0L190.3,291.9L190.6,291.9L190.9,291.9L191.2,291.8L191.5,291.8L191.8,291.7L192.0,291.7L192.3,291.7L192.6,291.6L192.9,291.6L193.2,291.5L193.5,291.5L193.7,291.5L194.0,291.4L194.3,291.4L194.6,291.4L194.9,291.4L195.2,291.3L195.4,291.3L195.7,291.3L196.0,291.2L196.3,291.2L196.6,291.2L196.9,291.2L197.1,291.1L197.4,291.1L197.7,291.1L198.0,291.1L198.3,291.0L198.6,291.0L198.8,291.0L199.1,291.0L199.4,291.0L199.7,290.9L200.0,290.9L200.3,290.9L200.5,290.9L200.8,290.9L201.1,290.9L201.4,290.8L201.7,290.8L202.0,290.8L202.2,290.8L202.5,290.8L202.8,290.8L203.1,303.0L203.4,303.2L203.6,303.4L203.9,303.7L204.2,303.9L204.5,304.1L204.8,304.3L205.1,304.5L205.3,304.7L205.6,304.9L205.9,305.0L206.2,305.2L206.5,305.4L206.8,305.6L207.0,305.7L207.3,305.9L207.6,306.0L207.9,306.2L208.2,306.3L208.5,306.5L208.7,306.6L209.0,306.8L209.3,306.9L209.6,307.0L209.9,307.2L210.2,307.3L210.4,307.4L210.7,307.5L211.0,307.7L211.3,307.8L211.6,307.9L211.9,308.0L212.1,308.1L212.4,308.2L212.7,308.3L213.0,308.4L213.3,308.5L213.6,308.6L213.8,308.7L214.1,308.8L214.4,308.9L214.7,309.0L215.0,309.1L215.3,309.1L215.5,309.2L215.8,309.3L216.1,309.4L216.4,309.5L216.7,309.5L217.0,309.6L217.2,309.7L217.5,309.8L217.8,309.8L218.1,309.9L218.4,310.0L218.7,310.0L218.9,310.1L219.2,310.2L219.5,310.2L219.8,310.3L220.1,310.4L220.4,310.4L220.6,310.5L220.9,310.5L221.2,310.6L221.5,310.6L221.8,310.7L222.1,310.8L222.3,310.8L222.6,310.9L222.9,310.9L223.2,311.0L223.5,311.0L223.8,311.1L224.0,311.1L224.3,311.2L224.6,311.2L224.9,311.3L225.2,311.3L225.4,311.3L225.7,311.4L226.0,311.4L226.3,311.5L226.6,311.5L226.9,311.6L227.1,311.6L227.4,311.6L227.7,311.7L228.0,311.7L228.3,311.8L228.6,311.8L228.8,311.8L229.1,311.9L229.4,311.9L229.7,312.0L230.0,312.0L230.3,312.0L230.5,312.1L230.8,312.1L231.1,312.1L231.4,312.2L231.7,312.2L232.0,312.2L232.2,312.3L232.5,312.3L232.8,312.3L233.1,312.4L233.4,312.4L233.7,312.4L233.9,312.5L234.2,312.5L234.5,312.5L234.8,312.6L235.1,312.6L235.4,312.6L235.6,312.6L235.9,312.7L236.2,312.7L236.5,312.7L236.8,312.8L237.1,312.8L237.3,312.8L237.6,312.8L237.9,312.9L238.2,312.9L238.5,312.9L238.8,312.9L239.0,313.0L239.3,313.0L239.6,313.0L239.9,313.0L240.2,313.1L240.5,313.1L240.7,313.1L241.0,313.1L241.3,313.2L241.6,313.2L241.9,313.2L242.2,313.2L242.4,313.3L242.7,313.3L243.0,313.3L243.3,313.3L243.6,313.3L243.9,313.4L244.1,313.4L244.4,313.4L244.7,313.4L245.0,313.5L245.3,313.5L245.6,313.5L245.8,313.5L246.1,313.5L246.4,313.6L246.7,313.6L247.0,313.6L247.3,313.6L247.5,313.6L247.8,313.7L248.1,313.7L248.4,313.7L248.7,313.7L248.9,313.7L249.2,313.7L249.5,313.8L249.8,313.8L250.1,313.8L250.4,313.8L250.6,313.8L250.9,313.9L251.2,313.9L251.5,313.9L251.8,313.9L252.1,313.9L252.3,313.9L252.6,314.0L252.9,314.0L253.2,314.0L253.5,314.0L253.8,314.0L254.0,314.0L254.3,314.1L254.6,314.1L254.9,314.1L255.2,314.1L255.5,314.1L255.7,314.1L256.0,314.2L256.3,314.2L256.6,314.2L256.9,314.2L257.2,314.2L257.4,314.2L257.7,314.2L258.0,314.3L258.3,314.3L258.6,314.3L258.9,314.3L259.1,314.3L259.4,314.3L259.7,314.3L260.0,314.4L260.3,314.4L260.6,314.4L260.8,314.4L261.1,314.4L261.4,314.4L261.7,314.4L262.0,314.5L262.3,314.5L262.5,314.5L262.8,314.5L263.1,314.5L263.4,314.5L263.7,314.5L264.0,314.5L264.2,314.6L264.5,314.6L264.8,314.6L265.1,314.6L265.4,314.6L265.7,314.6L265.9,314.6L266.2,314.6L266.5,314.6L266.8,314.7L267.1,314.7L267.4,314.7L267.6,314.7L267.9,314.7L268.2,314.7L268.5,314.7L268.8,314.7L269.1,314.7L269.3,314.8L269.6,314.8L269.9,314.8L270.2,314.8L270.5,314.8L270.7,314.8L271.0,314.8L271.3,314.8L271.6,314.8L271.9,314.9L272.2,314.9L272.4,314.9L272.7,314.9L273.0,314.9L273.3,314.9L273.6,314.9L273.9,314.9L274.1,314.9L274.4,314.9L274.7,314.9L275.0,315.0L275.3,315.0L275.6,315.0L275.8,315.0L276.1,315.0L276.4,315.0L276.7,315.0L277.0,315.0L277.3,315.0L277.5,315.0L277.8,315.0L278.1,315.1L278.4,315.1L278.7,315.1L279.0,315.1L279.2,315.1L279.5,315.1L279.8,315.1L280.1,315.1L280.4,315.1L280.7,315.1L280.9,315.1L281.2,315.1L281.5,315.2L281.8,315.2L282.1,315.2L282.4,301.7L282.6,301.4L282.9,301.1L283.2,300.8L283.5,300.6L283.8,300.3L284.1,300.1L284.3,299.8L284.6,299.6L284.9,299.4L285.2,299.1L285.5,298.9L285.8,298.7L286.0,298.5L286.3,298.3L286.6,298.1L286.9,297.9L287.2,297.7L287.5,297.5L287.7,297.3L288.0,297.1L288.3,297.0L288.6,296.8L288.9,296.6L289.2,296.5L289.4,296.3L289.7,296.2L290.0,296.0L290.3,295.9L290.6,295.7L290.9,295.6L291.1,295.5L291.4,295.3L291.7,295.2L292.0,295.1L292.3,295.0L292.6,294.8L292.8,294.7L293.1,294.6L293.4,294.5L293.7,294.4L294.0,294.3L294.2,294.2L294.5,294.1L294.8,294.0L295.1,293.9L295.4,293.8L295.7,293.7L295.9,293.6L296.2,293.6L296.5,293.5L296.8,293.4L297.1,293.3L297.4,293.2L297.6,293.2L297.9,293.1L298.2,293.0L298.5,292.9L298.8,292.9L299.1,292.8L299.3,292.7L299.6,292.7L299.9,292.6L300.2,292.6L300.5,292.5L300.8,292.4L301.0,292.4L301.3,292.3L301.6,292.3L301.9,292.2L302.2,292.2L302.5,292.1L302.7,292.1L303.0,292.0L303.3,292.0L303.6,291.9L303.9,291.9L304.2,291.9L304.4,291.8L304.7,291.8L305.0,291.7L305.3,291.7L305.6,291.7L305.9,291.6L306.1,291.6L306.4,291.5L306.7,291.5L307.0,291.5L307.3,291.4L307.6,291.4L307.8,291.4L308.1,291.4L308.4,291.3L308.7,291.3L309.0,291.3L309.3,291.2L309.5,291.2L309.8,291.2L310.1,291.2L310.4,291.1L310.7,291.1L311.0,291.1L311.2,291.1L311.5,291.0L311.8,291.0L312.1,291.0L312.4,291.0L312.7,291.0L312.9,290.9L313.2,290.9L313.5,290.9L313.8,290.9L314.1,290.9L314.4,290.9L314.6,290.8L314.9,290.8L315.2,290.8L315.5,290.8L315.8,290.8L316.0,290.8L316.3,303.0L316.6,303.2L316.9,303.4L317.2,303.7L317.5,303.9L317.7,304.1L318.0,304.3L318.3,304.5L318.6,304.7L318.9,304.9L319.2,305.0L319.4,305.2L319.7,305.4L320.0,305.6L320.3,305.7L320.6,305.9L320.9,306.0L321.1,306.2L321.4,306.3L321.7,306.5L322.0,306.6L322.3,306.8L322.6,306.9L322.8,307.0L323.1,307.2L323.4,307.3L323.7,307.4L324.0,307.5L324.3,307.7L324.5,307.8L324.8,307.9L325.1,308.0L325.4,308.1L325.7,308.2L326.0,308.3L326.2,308.4L326.5,308.5L326.8,308.6L327.1,308.7L327.4,308.8L327.7,308.9L327.9,309.0L328.2,309.1L328.5,309.1L328.8,309.2L329.1,309.3L329.4,309.4L329.6,309.5L329.9,309.5L330.2,309.6L330.5,309.7L330.8,309.8L331.1,309.8L331.3,309.9L331.6,310.0L331.9,310.0L332.2,310.1L332.5,310.2L332.8,310.2L333.0,310.3L333.3,310.4L333.6,310.4L333.9,310.5L334.2,310.5L334.5,310.6L334.7,310.6L335.0,310.7L335.3,310.8L335.6,310.8L335.9,310.9L336.2,310.9L336.4,311.0L336.7,311.0L337.0,311.1L337.3,311.1L337.6,311.2L337.9,311.2L338.1,311.3L338.4,311.3L338.7,311.3L339.0,311.4L339.3,311.4L339.5,311.5L339.8,311.5L340.1,311.6L340.4,311.6L340.7,311.6L341.0,311.7L341.2,311.7L341.5,311.8L341.8,311.8L342.1,311.8L342.4,311.9L342.7,311.9L342.9,312.0L343.2,312.0L343.5,312.0L343.8,312.1L344.1,312.1L344.4,312.1L344.6,312.2L344.9,312.2L345.2,312.2L345.5,312.3L345.8,312.3L346.1,312.3L346.3,312.4L346.6,312.4L346.9,312.4L347.2,312.5L347.5,312.5L347.8,312.5L348.0,312.6L348.3,312.6L348.6,312.6L348.9,312.6L349.2,312.7L349.5,312.7L349.7,312.7L350.0,312.8L350.3,312.8L350.6,312.8L350.9,312.8L351.2,312.9L351.4,312.9L351.7,312.9L352.0,312.9L352.3,313.0L352.6,313.0L352.9,313.0L353.1,313.0L353.4,313.1L353.7,313.1L354.0,313.1L354.3,313.1L354.6,313.2L354.8,313.2L355.1,313.2L355.4,313.2L355.7,313.3L356.0,313.3L356.3,313.3L356.5,313.3L356.8,313.3L357.1,313.4L357.4,313.4L357.7,313.4L358.0,313.4L358.2,313.5L358.5,313.5L358.8,313.5L359.1,313.5L359.4,313.5L359.7,313.6L359.9,313.6L360.2,313.6L360.5,313.6L360.8,313.6L361.1,313.7L361.3,313.7L361.6,313.7L361.9,313.7L362.2,313.7L362.5,313.7L362.8,313.8L363.0,313.8L363.3,313.8L363.6,313.8L363.9,313.8L364.2,313.9L364.5,313.9L364.7,313.9L365.0,313.9L365.3,313.9L365.6,313.9L365.9,314.0L366.2,314.0L366.4,314.0L366.7,314.0L367.0,314.0L367.3,314.0L367.6,314.1L367.9,314.1L368.1,314.1L368.4,314.1L368.7,314.1L369.0,314.1L369.3,314.2L369.6,314.2L369.8,314.2L370.1,314.2L370.4,314.2L370.7,314.2L371.0,314.2L371.3,314.3L371.5,314.3L371.8,314.3L372.1,314.3L372.4,314.3L372.7,314.3L373.0,314.3L373.2,314.4L373.5,314.4L373.8,314.4L374.1,314.4L374.4,314.4L374.7,314.4L374.9,314.4L375.2,314.5L375.5,314.5L375.8,314.5L376.1,314.5L376.4,314.5L376.6,314.5L376.9,314.5L377.2,314.5L377.5,314.6L377.8,314.6L378.1,314.6L378.3,314.6L378.6,314.6L378.9,314.6L379.2,314.6L379.5,314.6L379.8,314.6L380.0,314.7L380.3,314.7L380.6,314.7L380.9,314.7L381.2,314.7L381.5,314.7L381.7,314.7L382.0,314.7L382.3,314.7L382.6,314.8L382.9,314.8L383.1,314.8L383.4,314.8L383.7,314.8L384.0,314.8L384.3,314.8L384.6,314.8L384.8,314.8L385.1,314.9L385.4,314.9L385.7,314.9L386.0,314.9L386.3,314.9L386.5,314.9L386.8,314.9L387.1,314.9L387.4,314.9L387.7,314.9L388.0,314.9L388.2,315.0L388.5,315.0L388.8,315.0L389.1,315.0L389.4,315.0L389.7,315.0L389.9,315.0L390.2,315.0L390.5,315.0L390.8,315.0L391.1,315.0L391.4,315.1L391.6,315.1L391.9,315.1L392.2,315.1L392.5,315.1L392.8,315.1L393.1,315.1L393.3,315.1L393.6,315.1L393.9,315.1L394.2,315.1L394.5,315.1L394.8,315.2L395.0,315.2L395.3,315.2L395.6,315.2L395.9,301.4L396.2,301.1L396.5,300.8L396.7,300.6L397.0,300.3L397.3,300.1L397.6,299.8L397.9,299.6L398.2,299.4L398.4,299.1L398.7,298.9L399.0,298.7L399.3,298.5L399.6,298.3L399.9,298.1L400.1,297.9L400.4,297.7L400.7,297.5L401.0,297.3L401.3,297.1L401.6,297.0L401.8,296.8L402.1,296.6L402.4,296.5L402.7,296.3L403.0,296.2L403.3,296.0L403.5,295.9L403.8,295.7L404.1,295.6L404.4,295.5L404.7,295.3L405.0,295.2L405.2,295.1L405.5,295.0L405.8,294.8L406.1,294.7L406.4,294.6L406.6,294.5L406.9,294.4L407.2,294.3L407.5,294.2L407.8,294.1L408.1,294.0L408.3,293.9L408.6,293.8L408.9,293.7L409.2,293.6L409.5,293.6L409.8,293.5L410.0,293.4L410.3,293.3L410.6,293.2L410.9,293.2L411.2,293.1L411.5,293.0L411.7,292.9L412.0,292.9L412.3,292.8L412.6,292.7L412.9,292.7L413.2,292.6L413.4,292.6L413.7,292.5L414.0,292.4L414.3,292.4L414.6,292.3L414.9,292.3L415.1,292.2L415.4,292.2L415.7,292.1L416.0,292.1L416.3,292.0L416.6,292.0L416.8,291.9L417.1,291.9L417.4,291.9L417.7,291.8L418.0,291.8L418.3,291.7L418.5,291.7L418.8,291.7L419.1,291.6L419.4,291.6L419.7,291.5L420.0,291.5L420.2,291.5L420.5,291.4L420.8,291.4L421.1,291.4L421.4,291.4L421.7,291.3L421.9,291.3L422.2,291.3L422.5,291.2L422.8,291.2L423.1,291.2L423.4,291.2L423.6,291.1L423.9,291.1L424.2,291.1L424.5,291.1L424.8,291.0L425.1,291.0L425.3,291.0L425.6,291.0L425.9,291.0L426.2,290.9L426.5,290.9L426.8,290.9L427.0,290.9L427.3,290.9L427.6,290.9L427.9,290.8L428.2,290.8L428.4,290.8L428.7,290.8L429.0,290.8L429.3,290.8L429.6,290.7L429.9,303.2L430.1,303.4L430.4,303.7L430.7,303.9L431.0,304.1L431.3,304.3L431.6,304.5L431.8,304.7L432.1,304.9L432.4,305.0L432.7,305.2L433.0,305.4L433.3,305.6L433.5,305.7L433.8,305.9L434.1,306.0L434.4,306.2L434.7,306.3L435.0,306.5L435.2,306.6L435.5,306.8L435.8,306.9L436.1,307.0L436.4,307.2L436.7,307.3L436.9,307.4L437.2,307.5L437.5,307.7L437.8,307.8L438.1,307.9L438.4,308.0L438.6,308.1L438.9,308.2L439.2,308.3L439.5,308.4L439.8,308.5L440.1,308.6L440.3,308.7L440.6,308.8L440.9,308.9L441.2,309.0L441.5,309.1L441.8,309.1L442.0,309.2L442.3,309.3L442.6,309.4L442.9,309.5L443.2,309.5L443.5,309.6L443.7,309.7L444.0,309.8L444.3,309.8L444.6,309.9L444.9,310.0L445.2,310.0L445.4,310.1L445.7,310.2L446.0,310.2L446.3,310.3L446.6,310.4L446.9,310.4L447.1,310.5L447.4,310.5L447.7,310.6L448.0,310.6L448.3,310.7L448.6,310.8L448.8,310.8L449.1,310.9L449.4,310.9L449.7,311.0L450.0,311.0L450.3,311.1L450.5,311.1L450.8,311.2L451.1,311.2L451.4,311.3L451.7,311.3L451.9,311.3L452.2,311.4L452.5,311.4L452.8,311.5L453.1,311.5L453.4,311.6L453.6,311.6L453.9,311.6L454.2,311.7L454.5,311.7L454.8,311.8L455.1,311.8L455.3,311.8L455.6,311.9L455.9,311.9L456.2,312.0L456.5,312.0L456.8,312.0L457.0,312.1L457.3,312.1L457.6,312.1L457.9,312.2L458.2,312.2L458.5,312.2L458.7,312.3L459.0,312.3L459.3,312.3L459.6,312.4L459.9,312.4L460.2,312.4L460.4,312.5L460.7,312.5L461.0,312.5L461.3,312.6L461.6,312.6L461.9,312.6L462.1,312.6L462.4,312.7L462.7,312.7L463.0,312.7L463.3,312.8L463.6,312.8L463.8,312.8L464.1,312.8L464.4,312.9L464.7,312.9L465.0,312.9L465.3,312.9L465.5,313.0L465.8,313.0L466.1,313.0L466.4,313.0L466.7,313.1L467.0,313.1L467.2,313.1L467.5,313.1L467.8,313.2L468.1,313.2L468.4,313.2L468.7,313.2L468.9,313.3L469.2,313.3L469.5,313.3L469.8,313.3L470.1,313.3L470.4,313.4L470.6,313.4L470.9,313.4L471.2,313.4L471.5,313.5L471.8,313.5L472.1,313.5L472.3,313.5L472.6,313.5L472.9,313.6L473.2,313.6L473.5,313.6L473.7,313.6L474.0,313.6L474.3,313.7L474.6,313.7L474.9,313.7L475.2,313.7L475.4,313.7L475.7,313.7L476.0,313.8L476.3,313.8L476.6,313.8L476.9,313.8L477.1,313.8L477.4,313.9L477.7,313.9L478.0,313.9L478.3,313.9L478.6,313.9L478.8,313.9L479.1,314.0L479.4,314.0L479.7,314.0L480.0,314.0L480.3,314.0L480.5,314.0L480.8,314.1L481.1,314.1L481.4,314.1L481.7,314.1L482.0,314.1L482.2,314.1L482.5,314.2L482.8,314.2L483.1,314.2L483.4,314.2L483.7,314.2L483.9,314.2L484.2,314.2L484.5,314.3L484.8,314.3L485.1,314.3L485.4,314.3L485.6,314.3L485.9,314.3L486.2,314.3L486.5,314.4L486.8,314.4L487.1,314.4L487.3,314.4L487.6,314.4L487.9,314.4L488.2,314.4L488.5,314.5L488.8,314.5L489.0,314.5L489.3,314.5L489.6,314.5L489.9,314.5L490.2,314.5L490.5,314.5L490.7,314.6L491.0,314.6L491.3,314.6L491.6,314.6L491.9,314.6L492.2,314.6L492.4,314.6L492.7,314.6L493.0,314.6L493.3,314.7L493.6,314.7L493.9,314.7L494.1,314.7L494.4,314.7L494.7,314.7L495.0,314.7L495.3,314.7L495.6,314.7L495.8,314.8L496.1,314.8L496.4,314.8L496.7,314.8L497.0,314.8L497.2,314.8L497.5,314.8L497.8,314.8L498.1,314.8L498.4,314.9L498.7,314.9L498.9,314.9L499.2,314.9L499.5,314.9L499.8,314.9L500.1,314.9L500.4,314.9L500.6,314.9L500.9,314.9L501.2,314.9L501.5,315.0L501.8,315.0L502.1,315.0L502.3,315.0L502.6,315.0L502.9,315.0L503.2,315.0L503.5,315.0L503.8,315.0L504.0,315.0L504.3,315.0L504.6,315.1L504.9,315.1L505.2,315.1L505.5,315.1L505.7,315.1L506.0,315.1L506.3,315.1L506.6,315.1L506.9,315.1L507.2,315.1L507.4,315.1L507.7,315.1L508.0,315.2L508.3,315.2L508.6,315.2L508.9,315.2L509.1,301.4L509.4,301.1L509.7,300.8L510.0,300.6L510.3,300.3L510.6,300.1L510.8,299.8L511.1,299.6L511.4,299.4L511.7,299.1L512.0,298.9L512.3,298.7L512.5,298.5L512.8,298.3L513.1,298.1L513.4,297.9L513.7,297.7L514.0,297.5L514.2,297.3L514.5,297.1L514.8,297.0L515.1,296.8L515.4,296.6L515.7,296.5L515.9,296.3L516.2,296.2L516.5,296.0L516.8,295.9L517.1,295.7L517.4,295.6L517.6,295.5L517.9,295.3L518.2,295.2L518.5,295.1L518.8,295.0L519.0,294.8L519.3,294.7L519.6,294.6L519.9,294.5L520.2,294.4L520.5,294.3L520.7,294.2L521.0,294.1L521.3,294.0L521.6,293.9L521.9,293.8L522.2,293.7L522.4,293.6L522.7,293.6L523.0,293.5L523.3,293.4L523.6,293.3L523.9,293.2L524.1,293.2L524.4,293.1L524.7,293.0L525.0,292.9L525.3,292.9L525.6,292.8L525.8,292.7L526.1,292.7L526.4,292.6L526.7,292.6L527.0,292.5L527.3,292.4L527.5,292.4L527.8,292.3L528.1,292.3L528.4,292.2L528.7,292.2L529.0,292.1L529.2,292.1L529.5,292.0L529.8,292.0L530.1,291.9L530.4,291.9L530.7,291.9L530.9,291.8L531.2,291.8L531.5,291.7L531.8,291.7L532.1,291.7L532.4,291.6L532.6,291.6L532.9,291.5L533.2,291.5L533.5,291.5L533.8,291.4L534.1,291.4L534.3,291.4L534.6,291.4L534.9,291.3L535.2,291.3L535.5,291.3L535.8,291.2L536.0,291.2L536.3,291.2L536.6,291.2L536.9,291.1L537.2,291.1L537.5,291.1L537.7,291.1L538.0,291.0L538.3,291.0L538.6,291.0L538.9,291.0L539.2,291.0L539.4,290.9L539.7,290.9L540.0,290.9L540.3,290.9L540.6,290.9L540.9,290.9L541.1,290.8L541.4,290.8L541.7,290.8L542.0,290.8L542.3,290.8L542.5,290.8L542.8,290.7L543.1,303.2L543.4,303.4L543.7,303.7L544.0,303.9L544.2,304.1L544.5,304.3L544.8,304.5L545.1,304.7L545.4,304.9L545.7,305.0L545.9,305.2L546.2,305.4L546.5,305.6L546.8,305.7L547.1,305.9L547.4,306.0L547.6,306.2L547.9,306.3L548.2,306.5L548.5,306.6L548.8,306.8L549.1,306.9L549.3,307.0L549.6,307.2L549.9,307.3L550.2,307.4L550.5,307.5L550.8,307.7L551.0,307.8L551.3,307.9L551.6,308.0L551.9,308.1L552.2,308.2L552.5,308.3L552.7,308.4L553.0,308.5L553.3,308.6L553.6,308.7L553.9,308.8L554.2,308.9L554.4,309.0L554.7,309.1L555.0,309.1L555.3,309.2L555.6,309.3L555.9,309.4L556.1,309.5L556.4,309.5L556.7,309.6L557.0,309.7L557.3,309.8L557.6,309.8L557.8,309.9L558.1,310.0L558.4,310.0L558.7,310.1L559.0,310.2L559.3,310.2L559.5,310.3L559.8,310.4L560.1,310.4L560.4,310.5L560.7,310.5L561.0,310.6L561.2,310.6L561.5,310.7L561.8,310.8L562.1,310.8L562.4,310.9L562.7,310.9L562.9,311.0L563.2,311.0L563.5,311.1L563.8,311.1L564.1,311.2L564.3,311.2L564.6,311.3L564.9,311.3L565.2,311.3L565.5,311.4L565.8,311.4L566.0,311.5L566.3,311.5L566.6,311.6L566.9,311.6L567.2,311.6L567.5,311.7L567.7,311.7L568.0,311.8L568.3,311.8L568.6,311.8L568.9,311.9L569.2,311.9L569.4,312.0L569.7,312.0L570.0,312.0L570.3,312.1L570.6,312.1L570.9,312.1L571.1,312.2L571.4,312.2L571.7,312.2L572.0,312.3L572.3,312.3L572.6,312.3L572.8,312.4L573.1,312.4L573.4,312.4L573.7,312.5L574.0,312.5L574.3,312.5L574.5,312.6L574.8,312.6L575.1,312.6L575.4,312.6L575.7,312.7L576.0,312.7L576.2,312.7L576.5,312.8L576.8,312.8L577.1,312.8L577.4,312.8L577.7,312.9L577.9,312.9L578.2,312.9L578.5,312.9L578.8,313.0L579.1,313.0L579.4,313.0L579.6,313.0L579.9,313.1L580.2,313.1L580.5,313.1L580.8,313.1L581.1,313.2L581.3,313.2L581.6,313.2L581.9,313.2L582.2,313.3L582.5,313.3L582.8,313.3L583.0,313.3L583.3,313.3L583.6,313.4L583.9,313.4L584.2,313.4L584.5,313.4L584.7,313.5L585.0,313.5L585.3,313.5L585.6,313.5L585.9,313.5L586.2,313.6L586.4,313.6L586.7,313.6L587.0,313.6L587.3,313.6L587.6,313.7L587.8,313.7L588.1,313.7L588.4,313.7L588.7,313.7L589.0,313.7L589.3,313.8L589.5,313.8L589.8,313.8L590.1,313.8L590.4,313.8L590.7,313.9L591.0,313.9L591.2,313.9L591.5,313.9L591.8,313.9L592.1,313.9L592.4,314.0L592.7,314.0L592.9,314.0L593.2,314.0L593.5,314.0L593.8,314.0L594.1,314.1L594.4,314.1L594.6,314.1L594.9,314.1L595.2,314.1L595.5,314.1L595.8,314.2L596.1,314.2L596.3,314.2L596.6,314.2L596.9,314.2L597.2,314.2L597.5,314.2L597.8,314.3L598.0,314.3L598.3,314.3L598.6,314.3L598.9,314.3L599.2,314.3L599.5,314.3L599.7,314.4L600.0,314.4L600.3,314.4L600.6,314.4L600.9,314.4L601.2,314.4L601.4,314.4L601.7,314.5L602.0,314.5L602.3,314.5L602.6,314.5L602.9,314.5L603.1,314.5L603.4,314.5L603.7,314.5L604.0,314.6L604.3,314.6L604.6,314.6L604.8,314.6L605.1,314.6L605.4,314.6L605.7,314.6L606.0,314.6L606.3,314.6L606.5,314.7L606.8,314.7L607.1,314.7L607.4,314.7L607.7,314.7L608.0,314.7L608.2,314.7L608.5,314.7L608.8,314.7L609.1,314.8L609.4,314.8L609.6,314.8L609.9,314.8L610.2,314.8L610.5,314.8L610.8,314.8L611.1,314.8L611.3,314.8L611.6,314.9L611.9,314.9L612.2,314.9L612.5,314.9L612.8,314.9L613.0,314.9L613.3,314.9L613.6,314.9L613.9,314.9L614.2,314.9L614.5,314.9L614.7,315.0L615.0,315.0L615.3,315.0L615.6,315.0L615.9,315.0L616.2,315.0L616.4,315.0L616.7,315.0L617.0,315.0L617.3,315.0L617.6,315.0L617.9,315.1L618.1,315.1L618.4,315.1L618.7,315.1L619.0,315.1L619.3,315.1L619.6,315.1L619.8,315.1L620.1,315.1L620.4,315.1L620.7,315.1L621.0,315.1L621.3,315.2L621.5,315.2L621.8,315.2L622.1,315.2L622.4,301.4L622.7,301.1L623.0,300.8L623.2,300.6L623.5,300.3L623.8,300.1L624.1,299.8L624.4,299.6L624.7,299.4L624.9,299.1L625.2,298.9L625.5,298.7L625.8,298.5L626.1,298.3L626.4,298.1L626.6,297.9L626.9,297.7L627.2,297.5L627.5,297.3L627.8,297.1L628.1,297.0L628.3,296.8L628.6,296.6L628.9,296.5L629.2,296.3L629.5,296.2L629.8,296.0L630.0,295.9L630.3,295.7L630.6,295.6L630.9,295.5L631.2,295.3L631.5,295.2L631.7,295.1L632.0,295.0L632.3,294.8L632.6,294.7L632.9,294.6L633.1,294.5L633.4,294.4L633.7,294.3L634.0,294.2L634.3,294.1L634.6,294.0L634.8,293.9L635.1,293.8L635.4,293.7L635.7,293.6L636.0,293.6L636.3,293.5L636.5,293.4L636.8,293.3L637.1,293.2L637.4,293.2L637.7,293.1L638.0,293.0L638.2,292.9L638.5,292.9L638.8,292.8L639.1,292.7L639.4,292.7L639.7,292.6L639.9,292.6L640.2,292.5L640.5,292.4L640.8,292.4L641.1,292.3L641.4,292.3L641.6,292.2L641.9,292.2L642.2,292.1L642.5,292.1L642.8,292.0L643.1,292.0L643.3,291.9L643.6,291.9L643.9,291.9L644.2,291.8L644.5,291.8L644.8,291.7L645.0,291.7L645.3,291.7L645.6,291.6L645.9,291.6L646.2,291.5L646.5,291.5L646.7,291.5L647.0,291.4L647.3,291.4L647.6,291.4L647.9,291.4L648.2,291.3L648.4,291.3L648.7,291.3L649.0,291.2L649.3,291.2L649.6,291.2L649.9,291.2L650.1,291.1L650.4,291.1L650.7,291.1L651.0,291.1L651.3,291.0L651.6,291.0L651.8,291.0L652.1,291.0L652.4,291.0L652.7,290.9L653.0,290.9L653.3,290.9L653.5,290.9L653.8,290.9L654.1,290.9L654.4,290.8L654.7,290.8L654.9,290.8L655.2,290.8L655.5,290.8L655.8,290.8L656.1,290.7L656.4,303.2L656.6,303.4L656.9,303.7L657.2,303.9L657.5,304.1L657.8,304.3L658.1,304.5L658.3,304.7L658.6,304.9L658.9,305.0L659.2,305.2L659.5,305.4L659.8,305.6L660.0,305.7L660.3,305.9L660.6,306.0L660.9,306.2L661.2,306.3L661.5,306.5L661.7,306.6L662.0,306.8L662.3,306.9L662.6,307.0L662.9,307.2L663.2,307.3L663.4,307.4L663.7,307.5L664.0,307.7L664.3,307.8L664.6,307.9L664.9,308.0L665.1,308.1L665.4,308.2L665.7,308.3L666.0,308.4L666.3,308.5L666.6,308.6L666.8,308.7L667.1,308.8L667.4,308.9L667.7,309.0L668.0,309.1L668.3,309.1L668.5,309.2L668.8,309.3L669.1,309.4L669.4,309.5L669.7,309.5L670.0,309.6L670.2,309.7L670.5,309.8L670.8,309.8L671.1,309.9L671.4,310.0L671.7,310.0L671.9,310.1L672.2,310.2L672.5,310.2L672.8,310.3L673.1,310.4L673.4,310.4L673.6,310.5L673.9,310.5L674.2,310.6L674.5,310.6L674.8,310.7L675.1,310.8L675.3,310.8L675.6,310.9L675.9,310.9L676.2,311.0L676.5,311.0L676.8,311.1L677.0,311.1L677.3,311.2L677.6,311.2L677.9,311.3L678.2,311.3L678.4,311.3L678.7,311.4L679.0,311.4L679.3,311.5L679.6,311.5L679.9,311.6L680.1,311.6L680.4,311.6L680.7,311.7L681.0,311.7L681.3,311.8L681.6,311.8L681.8,311.8L682.1,311.9L682.4,311.9L682.7,312.0L683.0,312.0L683.3,312.0L683.5,312.1L683.8,312.1L684.1,312.1L684.4,312.2L684.7,312.2L685.0,312.2L685.2,312.3L685.5,312.3L685.8,312.3L686.1,312.4L686.4,312.4L686.7,312.4L686.9,312.5L687.2,312.5L687.5,312.5L687.8,312.6L688.1,312.6L688.4,312.6L688.6,312.6L688.9,312.7L689.2,312.7L689.5,312.7L689.8,312.8L690.1,312.8L690.3,312.8L690.6,312.8L690.9,312.9L691.2,312.9L691.5,312.9L691.8,312.9L692.0,313.0L692.3,313.0L692.6,313.0L692.9,313.0L693.2,313.1L693.5,313.1L693.7,313.1L694.0,313.1L694.3,313.2L694.6,313.2L694.9,313.2L695.2,313.2L695.4,313.3L695.7,313.3L696.0,313.3L696.3,313.3L696.6,313.3L696.9,313.4L697.1,313.4L697.4,313.4L697.7,313.4L698.0,313.5L698.3,313.5L698.6,313.5L698.8,313.5L699.1,313.5L699.4,313.6L699.7,313.6L700.0,313.6L700.2,313.6L700.5,313.6L700.8,313.7L701.1,313.7L701.4,313.7L701.7,313.7L701.9,313.7L702.2,313.7L702.5,313.8L702.8,313.8L703.1,313.8L703.4,313.8L703.6,313.8L703.9,313.9L704.2,313.9L704.5,313.9L704.8,313.9L705.1,313.9L705.3,313.9L705.6,314.0L705.9,314.0L706.2,314.0L706.5,314.0L706.8,314.0L707.0,314.0L707.3,314.1L707.6,314.1L707.9,314.1L708.2,314.1L708.5,314.1L708.7,314.1L709.0,314.2L709.3,314.2L709.6,314.2L709.9,314.2L710.2,314.2L710.4,314.2L710.7,314.2L711.0,314.3L711.3,314.3L711.6,314.3L711.9,314.3L712.1,314.3L712.4,314.3L712.7,314.3L713.0,314.4L713.3,314.4L713.6,314.4L713.8,314.4L714.1,314.4L714.4,314.4L714.7,314.4L715.0,314.5L715.3,314.5L715.5,314.5L715.8,314.5L716.1,314.5L716.4,314.5L716.7,314.5L717.0,314.5L717.2,314.6L717.5,314.6L717.8,314.6L718.1,314.6L718.4,314.6L718.7,314.6L718.9,314.6L719.2,314.6L719.5,314.6L719.8,314.7L720.1,314.7L720.4,314.7L720.6,314.7L720.9,314.7L721.2,314.7L721.5,314.7L721.8,314.7L722.1,314.7L722.3,314.8L722.6,314.8L722.9,314.8L723.2,314.8L723.5,314.8L723.7,314.8L724.0,314.8L724.3,314.8L724.6,314.8L724.9,314.9L725.2,314.9L725.4,314.9L725.7,314.9L726.0,314.9L726.3,314.9L726.6,314.9L726.9,314.9L727.1,314.9L727.4,314.9L727.7,314.9L728.0,315.0L728.3,315.0L728.6,315.0L728.8,315.0L729.1,315.0L729.4,315.0L729.7,315.0L730.0,315.0L730.3,315.0L730.5,315.0L730.8,315.0L731.1,315.1L731.4,315.1L731.7,315.1L732.0,315.1L732.2,315.1L732.5,315.1L732.8,315.1L733.1,315.1L733.4,315.1L733.7,315.1L733.9,315.1L734.2,315.1L734.5,315.2L734.8,315.2L735.1,315.2L735.4,315.2L735.6,301.4L735.9,301.1L736.2,300.8L736.5,300.6L736.8,300.3L737.1,300.1L737.3,299.8L737.6,299.6L737.9,299.4L738.2,299.1L738.5,298.9L738.8,298.7L739.0,298.5L739.3,298.3L739.6,298.1L739.9,297.9L740.2,297.7L740.5,297.5L740.7,297.3L741.0,297.1L741.3,297.0L741.6,296.8L741.9,296.6L742.2,296.5L742.4,296.3L742.7,296.2L743.0,296.0L743.3,295.9L743.6,295.7L743.9,295.6L744.1,295.5L744.4,295.3L744.7,295.2L745.0,295.1L745.3,295.0L745.5,294.8L745.8,294.7L746.1,294.6L746.4,294.5L746.7,294.4L747.0,294.3L747.2,294.2L747.5,294.1L747.8,294.0L748.1,293.9L748.4,293.8L748.7,293.7L748.9,293.6L749.2,293.6L749.5,293.5L749.8,293.4L750.1,293.3L750.4,293.2L750.6,293.2L750.9,293.1L751.2,293.0L751.5,292.9L751.8,292.9L752.1,292.8L752.3,292.7L752.6,292.7L752.9,292.6L753.2,292.6L753.5,292.5L753.8,292.4L754.0,292.4L754.3,292.3L754.6,292.3L754.9,292.2L755.2,292.2L755.5,292.1L755.7,292.1L756.0,292.0L756.3,292.0L756.6,291.9L756.9,291.9L757.2,291.9L757.4,291.8L757.7,291.8L758.0,291.7L758.3,291.7L758.6,291.7L758.9,291.6L759.1,291.6L759.4,291.5L759.7,291.5L760.0,291.5L760.3,291.4L760.6,291.4L760.8,291.4L761.1,291.4L761.4,291.3L761.7,291.3L762.0,291.3L762.3,291.2L762.5,291.2L762.8,291.2L763.1,291.2L763.4,291.1L763.7,291.1L764.0,291.1L764.2,291.1L764.5,291.0L764.8,291.0L765.1,291.0L765.4,291.0L765.7,291.0L765.9,290.9L766.2,290.9L766.5,290.9L766.8,290.9L767.1,290.9L767.4,290.9L767.6,290.8L767.9,290.8L768.2,290.8L768.5,290.8L768.8,290.8L769.0,290.8L769.3,290.7L769.6,303.2L769.9,303.4L770.2,303.7L770.5,303.9L770.7,304.1L771.0,304.3L771.3,304.5L771.6,304.7L771.9,304.9L772.2,305.0L772.4,305.2L772.7,305.4L773.0,305.6L773.3,305.7L773.6,305.9L773.9,306.0L774.1,306.2L774.4,306.3L774.7,306.5L775.0,306.6L775.3,306.8L775.6,306.9L775.8,307.0L776.1,307.2L776.4,307.3L776.7,307.4L777.0,307.5L777.3,307.7L777.5,307.8L777.8,307.9L778.1,308.0L778.4,308.1L778.7,308.2L779.0,308.3L779.2,308.4L779.5,308.5L779.8,308.6L780.1,308.7L780.4,308.8L780.7,308.9L780.9,309.0L781.2,309.1L781.5,309.1L781.8,309.2L782.1,309.3L782.4,309.4L782.6,309.5L782.9,309.5L783.2,309.6L783.5,309.7L783.8,309.8L784.1,309.8L784.3,309.9L784.6,310.0L784.9,310.0L785.2,310.1L785.5,310.2L785.8,310.2L786.0,310.3L786.3,310.4L786.6,310.4L786.9,310.5L787.2,310.5L787.5,310.6L787.7,310.6L788.0,310.7L788.3,310.8L788.6,310.8L788.9,310.9L789.2,310.9L789.4,311.0L789.7,311.0L790.0,311.1L790.3,311.1L790.6,311.2L790.8,311.2L791.1,311.3L791.4,311.3L791.7,311.3L792.0,311.4L792.3,311.4L792.5,311.5L792.8,311.5L793.1,311.6L793.4,311.6L793.7,311.6L794.0,311.7L794.2,311.7L794.5,311.8L794.8,311.8L795.1,311.8L795.4,311.9L795.7,311.9L795.9,312.0L796.2,312.0L796.5,312.0L796.8,312.1L797.1,312.1L797.4,312.1L797.6,312.2L797.9,312.2L798.2,312.2L798.5,312.3L798.8,312.3L799.1,312.3L799.3,312.4L799.6,312.4L799.9,312.4L800.2,312.5L800.5,312.5L800.8,312.5L801.0,312.6L801.3,312.6L801.6,312.6L801.9,312.6L802.2,312.7L802.5,312.7L802.7,312.7L803.0,312.8L803.3,312.8L803.6,312.8L803.9,312.8L804.2,312.9L804.4,312.9L804.7,312.9L805.0,312.9L805.3,313.0L805.6,313.0L805.9,313.0L806.1,313.0L806.4,313.1L806.7,313.1L807.0,313.1L807.3,313.1L807.6,313.2L807.8,313.2L808.1,313.2L808.4,313.2L808.7,313.3L809.0,313.3L809.3,313.3L809.5,313.3L809.8,313.3L810.1,313.4L810.4,313.4L810.7,313.4L811.0,313.4L811.2,313.5L811.5,313.5L811.8,313.5L812.1,313.5L812.4,313.5L812.7,313.6L812.9,313.6L813.2,313.6L813.5,313.6" fill="none" stroke="#000000" stroke-width="3" stroke-linejoin="round" clip-path="url(#clipa)"/>
<path d="M473.8,132.3L474.0,132.4L474.3,132.4L474.6,132.4L474.9,132.4L475.2,132.5L475.4,132.5L475.7,132.5L476.0,132.5L476.3,132.6L476.6,132.6L476.9,132.6L477.1,132.6L477.4,132.6L477.7,132.7L478.0,132.7L478.3,132.7L478.6,132.7L478.8,132.8L479.1,132.8L479.4,132.8L479.7,132.8L480.0,132.8L480.3,132.9L480.5,132.9L480.8,132.9L481.1,132.9L481.4,133.0L481.7,133.0L482.0,133.0L482.2,133.0L482.5,133.0L482.8,133.1L483.1,133.1L483.4,133.1L483.7,133.1L483.9,133.2L484.2,133.2L484.5,133.2L484.8,133.2L485.1,133.3L485.4,133.3L485.6,133.3L485.9,133.3L486.2,133.3L486.5,133.4L486.8,133.4L487.1,133.4L487.3,133.4L487.6,133.5L487.9,133.5L488.2,133.5L488.5,133.5L488.8,133.5L489.0,133.6L489.3,133.6L489.6,133.6L489.9,133.6L490.2,133.7L490.5,133.7L490.7,133.7L491.0,133.7L491.3,133.7L491.6,133.8L491.9,133.8L492.2,133.8L492.4,133.8L492.7,133.9L493.0,133.9L493.3,133.9L493.6,133.9L493.9,134.0L494.1,134.0L494.4,134.0L494.7,134.0L495.0,134.0L495.3,134.1L495.6,134.1L495.8,134.1L496.1,134.1L496.4,134.2L496.7,134.2L497.0,134.2L497.2,134.2L497.5,134.2L497.8,134.3L498.1,134.3L498.4,134.3L498.7,134.3L498.9,134.4L499.2,134.4L499.5,134.4L499.8,134.4L500.1,134.4L500.4,134.5L500.6,134.5L500.9,134.5L501.2,134.5L501.5,134.6L501.8,90.2L502.1,89.3L502.3,88.3L502.6,87.4L502.9,86.6L503.2,85.7L503.5,84.9L503.8,84.1L504.0,83.3L504.3,82.6L504.6,81.9L504.9,81.2L505.2,80.5L505.5,79.9L505.7,79.2L506.0,78.6L506.3,78.0L506.6,77.5L506.9,76.9L507.2,76.4L507.4,75.9L507.7,75.4L508.0,74.9L508.3,74.4L508.6,74.0L508.9,73.6L509.1,73.1L509.4,72.7L509.7,72.3L510.0,72.0L510.3,71.6L510.6,71.2L510.8,70.9L511.1,70.6L511.4,70.2L511.7,69.9L512.0,69.6L512.3,69.3L512.5,69.0L512.8,68.8L513.1,68.5L513.4,68.3L513.7,68.0L514.0,67.8L514.2,67.5L514.5,67.3L514.8,67.1L515.1,66.9L515.4,66.7L515.7,66.5L515.9,66.3L516.2,66.1L516.5,65.9L516.8,65.8L517.1,65.6L517.4,65.4L517.6,65.3L517.9,65.1L518.2,65.0L518.5,64.9L518.8,64.7L519.0,64.6L519.3,64.5L519.6,64.3L519.9,64.2L520.2,64.1L520.5,64.0L520.7,63.9L521.0,63.8L521.3,63.7L521.6,63.6L521.9,63.5L522.2,63.4L522.4,63.3L522.7,63.2L523.0,63.2L523.3,63.1L523.6,63.0L523.9,62.9L524.1,62.8L524.4,62.8L524.7,62.7L525.0,62.6L525.3,62.6L525.6,62.5L525.8,62.5L526.1,62.4L526.4,62.4L526.7,62.3L527.0,62.2L527.3,62.2L527.5,62.2L527.8,62.1L528.1,62.1L528.4,62.0L528.7,62.0L529.0,61.9L529.2,61.9L529.5,61.9L529.8,61.8L530.1,61.8L530.4,61.7L530.7,61.7L530.9,61.7L531.2,61.7L531.5,61.6L531.8,61.6L532.1,61.6L532.4,61.5L532.6,61.5L532.9,61.5L533.2,61.5L533.5,61.4L533.8,61.4L534.1,61.4L534.3,61.4L534.6,61.3L534.9,61.3L535.2,98.6L535.5,99.4L535.8,100.1L536.0,100.8L536.3,101.5L536.6,102.1L536.9,102.8L537.2,103.4L537.5,104.0L537.7,104.6L538.0,105.2L538.3,105.8L538.6,106.3L538.9,106.8L539.2,107.4L539.4,107.9L539.7,108.4L540.0,108.9L540.3,109.3L540.6,109.8L540.9,110.2L541.1,110.7L541.4,111.1L541.7,111.5L542.0,111.9L542.3,112.3L542.5,112.7L542.8,113.1L543.1,113.5L543.4,113.8L543.7,114.2L544.0,114.5L544.2,114.9L544.5,115.2L544.8,115.5L545.1,115.8L545.4,116.1L545.7,116.4L545.9,116.7L546.2,117.0L546.5,117.3L546.8,117.6L547.1,117.9L547.4,118.1L547.6,118.4L547.9,118.6L548.2,118.9L548.5,119.1L548.8,119.4L549.1,119.6L549.3,119.8L549.6,120.0L549.9,120.3L550.2,120.5L550.5,120.7L550.8,120.9L551.0,121.1L551.3,121.3L551.6,121.5L551.9,121.7L552.2,121.9L552.5,122.1L552.7,122.2L553.0,122.4L553.3,122.6L553.6,122.8L553.9,122.9L554.2,123.1L554.4,123.2L554.7,123.4L555.0,123.6L555.3,123.7L555.6,123.9L555.9,124.0L556.1,124.2L556.4,124.3L556.7,124.5L557.0,124.6L557.3,124.7L557.6,124.9L557.8,125.0L558.1,125.1L558.4,125.3L558.7,125.4L559.0,125.5L559.3,125.6L559.5,125.7L559.8,125.9L560.1,126.0L560.4,126.1L560.7,126.2L561.0,126.3L561.2,126.4L561.5,126.5L561.8,126.7L562.1,126.8L562.4,126.9L562.7,127.0L562.9,127.1L563.2,127.2L563.5,127.3L563.8,127.4L564.1,127.5L564.3,127.6L564.6,127.6L564.9,127.7L565.2,127.8L565.5,127.9L565.8,128.0L566.0,128.1L566.3,128.2L566.6,128.3L566.9,128.4L567.2,128.4L567.5,128.5L567.7,128.6L568.0,128.7L568.3,128.8L568.6,128.8L568.9,128.9L569.2,129.0L569.4,129.1L569.7,129.1L570.0,129.2L570.3,129.3L570.6,129.4L570.9,129.4L571.1,129.5L571.4,129.6L571.7,129.6L572.0,129.7L572.3,129.8L572.6,129.9L572.8,129.9L573.1,130.0L573.4,130.0L573.7,130.1L574.0,130.2L574.3,130.2L574.5,130.3L574.8,130.4L575.1,130.4L575.4,130.5L575.7,130.5L576.0,130.6L576.2,130.7L576.5,130.7L576.8,130.8L577.1,130.8L577.4,130.9L577.7,130.9L577.9,131.0L578.2,131.1L578.5,131.1L578.8,131.2L579.1,131.2L579.4,131.3L579.6,131.3L579.9,131.4L580.2,131.4L580.5,131.5L580.8,131.5L581.1,131.6L581.3,131.6L581.6,131.7L581.9,131.7L582.2,131.8L582.5,131.8L582.8,131.9L583.0,131.9L583.3,131.9L583.6,132.0L583.9,132.0L584.2,132.1L584.5,132.1L584.7,132.2L585.0,132.2L585.3,132.2L585.6,132.3L585.9,132.3L586.2,132.4L586.4,132.4L586.7,132.5L587.0,132.5L587.3,132.5L587.6,132.6L587.8,132.6L588.1,132.7L588.4,132.7L588.7,132.7L589.0,132.8L589.3,132.8L589.5,132.8L589.8,132.9L590.1,132.9L590.4,133.0L590.7,133.0L591.0,133.0L591.2,133.1L591.5,133.1L591.8,133.1L592.1,133.2L592.4,133.2L592.7,133.2L592.9,133.3L593.2,133.3L593.5,133.3L593.8,133.4L594.1,133.4L594.4,133.4L594.6,133.5L594.9,133.5L595.2,133.5L595.5,133.6L595.8,133.6L596.1,133.6L596.3,133.6L596.6,133.7L596.9,133.7L597.2,133.7L597.5,133.8L597.8,133.8L598.0,133.8L598.3,133.9L598.6,133.9L598.9,133.9L599.2,133.9L599.5,134.0L599.7,134.0L600.0,134.0L600.3,134.0L600.6,134.1L600.9,134.1L601.2,134.1L601.4,134.1L601.7,134.2L602.0,134.2L602.3,134.2L602.6,134.2L602.9,134.3L603.1,134.3L603.4,134.3L603.7,134.3L604.0,134.4L604.3,134.4L604.6,134.4L604.8,134.4L605.1,134.5L605.4,134.5L605.7,134.5L606.0,134.5L606.3,134.6L606.5,134.6L606.8,134.6L607.1,134.6L607.4,134.6L607.7,134.7L608.0,134.7L608.2,134.7L608.5,134.7L608.8,134.7L609.1,134.8L609.4,134.8L609.6,134.8L609.9,134.8L610.2,134.8L610.5,134.9L610.8,134.9L611.1,134.9L611.3,134.9L611.6,134.9L611.9,135.0L612.2,135.0L612.5,135.0L612.8,135.0L613.0,135.0L613.3,135.1L613.6,135.1L613.9,135.1L614.2,135.1L614.5,135.1L614.7,135.1L615.0,90.2L615.3,89.3L615.6,88.3L615.9,87.4L616.2,86.6L616.4,85.7L616.7,84.9L617.0,84.1L617.3,83.3L617.6,82.6L617.9,81.9L618.1,81.2L618.4,80.5L618.7,79.9L619.0,79.2L619.3,78.6L619.6,78.0L619.8,77.5L620.1,76.9L620.4,76.4L620.7,75.9L621.0,75.4L621.3,74.9L621.5,74.4L621.8,74.0L622.1,73.6L622.4,73.1L622.7,72.7L623.0,72.3L623.2,72.0L623.5,71.6L623.8,71.2L624.1,70.9L624.4,70.6L624.7,70.2L624.9,69.9L625.2,69.6L625.5,69.3L625.8,69.0L626.1,68.8L626.4,68.5L626.6,68.3L626.9,68.0L627.2,67.8L627.5,67.5L627.8,67.3L628.1,67.1L628.3,66.9L628.6,66.7L628.9,66.5L629.2,66.3L629.5,66.1L629.8,65.9L630.0,65.8L630.3,65.6L630.6,65.4L630.9,65.3L631.2,65.1L631.5,65.0L631.7,64.9L632.0,64.7L632.3,64.6L632.6,64.5L632.9,64.3L633.1,64.2L633.4,64.1L633.7,64.0L634.0,63.9L634.3,63.8L634.6,63.7L634.8,63.6L635.1,63.5L635.4,63.4L635.7,63.3L636.0,63.2L636.3,63.2L636.5,63.1L636.8,63.0L637.1,62.9L637.4,62.8L637.7,62.8L638.0,62.7L638.2,62.6L638.5,62.6L638.8,62.5L639.1,62.5L639.4,62.4L639.7,62.4L639.9,62.3L640.2,62.2L640.5,62.2L640.8,62.2L641.1,62.1L641.4,62.1L641.6,62.0L641.9,62.0L642.2,61.9L642.5,61.9L642.8,61.9L643.1,61.8L643.3,61.8L643.6,61.7L643.9,61.7L644.2,61.7L644.5,61.7L644.8,61.6L645.0,61.6L645.3,61.6L645.6,61.5L645.9,61.5L646.2,61.5L646.5,61.5L646.7,61.4L647.0,61.4L647.3,61.4L647.6,61.4L647.9,61.3L648.2,61.3L648.4,98.6L648.7,99.4L649.0,100.1L649.3,100.8L649.6,101.5L649.9,102.1L650.1,102.8L650.4,103.4L650.7,104.0L651.0,104.6L651.3,105.2L651.6,105.8L651.8,106.3L652.1,106.8L652.4,107.4L652.7,107.9L653.0,108.4L653.3,108.9L653.5,109.3L653.8,109.8L654.1,110.2L654.4,110.7L654.7,111.1L654.9,111.5L655.2,111.9L655.5,112.3L655.8,112.7L656.1,113.1L656.4,113.5L656.6,113.8L656.9,114.2L657.2,114.5L657.5,114.9L657.8,115.2L658.1,115.5L658.3,115.8L658.6,116.1L658.9,116.4L659.2,116.7L659.5,117.0L659.8,117.3L660.0,117.6L660.3,117.9L660.6,118.1L660.9,118.4L661.2,118.6L661.5,118.9L661.7,119.1L662.0,119.4L662.3,119.6L662.6,119.8L662.9,120.0L663.2,120.3L663.4,120.5L663.7,120.7L664.0,120.9L664.3,121.1L664.6,121.3L664.9,121.5L665.1,121.7L665.4,121.9L665.7,122.1L666.0,122.2L666.3,122.4L666.6,122.6L666.8,122.8L667.1,122.9L667.4,123.1L667.7,123.2L668.0,123.4L668.3,123.6L668.5,123.7L668.8,123.9L669.1,124.0L669.4,124.2L669.7,124.3L670.0,124.5L670.2,124.6L670.5,124.7L670.8,124.9L671.1,125.0L671.4,125.1L671.7,125.3L671.9,125.4L672.2,125.5L672.5,125.6L672.8,125.7L673.1,125.9L673.4,126.0L673.6,126.1L673.9,126.2L674.2,126.3L674.5,126.4L674.8,126.5L675.1,126.7L675.3,126.8L675.6,126.9L675.9,127.0L676.2,127.1L676.5,127.2L676.8,127.3L677.0,127.4L677.3,127.5L677.6,127.6L677.9,127.6L678.2,127.7L678.4,127.8L678.7,127.9L679.0,128.0L679.3,128.1L679.6,128.2L679.9,128.3L680.1,128.4L680.4,128.4L680.7,128.5L681.0,128.6L681.3,128.7L681.6,128.8L681.8,128.8L682.1,128.9L682.4,129.0L682.7,129.1L683.0,129.1L683.3,129.2L683.5,129.3L683.8,129.4L684.1,129.4L684.4,129.5L684.7,129.6L685.0,129.6L685.2,129.7L685.5,129.8L685.8,129.9L686.1,129.9L686.4,130.0L686.7,130.0L686.9,130.1L687.2,130.2L687.5,130.2L687.8,130.3L688.1,130.4L688.4,130.4L688.6,130.5L688.9,130.5L689.2,130.6L689.5,130.7L689.8,130.7L690.1,130.8L690.3,130.8L690.6,130.9L690.9,130.9L691.2,131.0L691.5,131.1L691.8,131.1L692.0,131.2L692.3,131.2L692.6,131.3L692.9,131.3L693.2,131.4L693.5,131.4L693.7,131.5L694.0,131.5L694.3,131.6L694.6,131.6L694.9,131.7L695.2,131.7L695.4,131.8L695.7,131.8L696.0,131.9L696.3,131.9L696.6,131.9L696.9,132.0L697.1,132.0L697.4,132.1L697.7,132.1L698.0,132.2L698.3,132.2L698.6,132.2L698.8,132.3L699.1,132.3L699.4,132.4L699.7,132.4L700.0,132.5L700.2,132.5L700.5,132.5L700.8,132.6L701.1,132.6L701.4,132.7L701.7,132.7L701.9,132.7L702.2,132.8L702.5,132.8L702.8,132.8L703.1,132.9L703.4,132.9L703.6,133.0L703.9,133.0L704.2,133.0L704.5,133.1L704.8,133.1L705.1,133.1L705.3,133.2L705.6,133.2L705.9,133.2L706.2,133.3L706.5,133.3L706.8,133.3L707.0,133.4L707.3,133.4L707.6,133.4L707.9,133.5L708.2,133.5L708.5,133.5L708.7,133.6L709.0,133.6L709.3,133.6L709.6,133.6L709.9,133.7L710.2,133.7L710.4,133.7L710.7,133.8L711.0,133.8L711.3,133.8L711.6,133.9L711.9,133.9L712.1,133.9L712.4,133.9L712.7,134.0L713.0,134.0L713.3,134.0L713.6,134.0L713.8,134.1L714.1,134.1L714.4,134.1L714.7,134.1L715.0,134.2L715.3,134.2L715.5,134.2L715.8,134.2L716.1,134.3L716.4,134.3L716.7,134.3L717.0,134.3L717.2,134.4L717.5,134.4L717.8,134.4L718.1,134.4L718.4,134.5L718.7,134.5L718.9,134.5L719.2,134.5L719.5,134.6L719.8,134.6L720.1,134.6L720.4,134.6L720.6,134.6L720.9,134.7L721.2,134.7L721.5,134.7L721.8,134.7L722.1,134.7L722.3,134.8L722.6,134.8L722.9,134.8L723.2,134.8L723.5,134.8L723.7,134.9L724.0,134.9L724.3,134.9L724.6,134.9L724.9,134.9L725.2,135.0L725.4,135.0L725.7,135.0L726.0,135.0L726.3,135.0L726.6,135.1L726.9,135.1L727.1,135.1L727.4,135.1L727.7,135.1L728.0,135.1L728.3,90.2L728.6,89.3L728.8,88.3L729.1,87.4L729.4,86.6L729.7,85.7L730.0,84.9L730.3,84.1L730.5,83.3L730.8,82.6L731.1,81.9L731.4,81.2L731.7,80.5L732.0,79.9L732.2,79.2L732.5,78.6L732.8,78.0L733.1,77.5L733.4,76.9L733.7,76.4L733.9,75.9L734.2,75.4L734.5,74.9L734.8,74.4L735.1,74.0L735.4,73.6L735.6,73.1L735.9,72.7L736.2,72.3L736.5,72.0L736.8,71.6L737.1,71.2L737.3,70.9L737.6,70.6L737.9,70.2L738.2,69.9L738.5,69.6L738.8,69.3L739.0,69.0L739.3,68.8L739.6,68.5L739.9,68.3L740.2,68.0L740.5,67.8L740.7,67.5L741.0,67.3L741.3,67.1L741.6,66.9L741.9,66.7L742.2,66.5L742.4,66.3L742.7,66.1L743.0,65.9L743.3,65.8L743.6,65.6L743.9,65.4L744.1,65.3L744.4,65.1L744.7,65.0L745.0,64.9L745.3,64.7L745.5,64.6L745.8,64.5L746.1,64.3L746.4,64.2L746.7,64.1L747.0,64.0L747.2,63.9L747.5,63.8L747.8,63.7L748.1,63.6L748.4,63.5L748.7,63.4L748.9,63.3L749.2,63.2L749.5,63.2L749.8,63.1L750.1,63.0L750.4,62.9L750.6,62.8L750.9,62.8L751.2,62.7L751.5,62.6L751.8,62.6L752.1,62.5L752.3,62.5L752.6,62.4L752.9,62.4L753.2,62.3L753.5,62.2L753.8,62.2L754.0,62.2L754.3,62.1L754.6,62.1L754.9,62.0L755.2,62.0L755.5,61.9L755.7,61.9L756.0,61.9L756.3,61.8L756.6,61.8L756.9,61.7L757.2,61.7L757.4,61.7L757.7,61.7L758.0,61.6L758.3,61.6L758.6,61.6L758.9,61.5L759.1,61.5L759.4,61.5L759.7,61.5L760.0,61.4L760.3,61.4L760.6,61.4L760.8,61.4L761.1,61.3L761.4,61.3L761.7,98.6L762.0,99.4L762.3,100.1L762.5,100.8L762.8,101.5L763.1,102.1L763.4,102.8L763.7,103.4L764.0,104.0L764.2,104.6L764.5,105.2L764.8,105.8L765.1,106.3L765.4,106.8L765.7,107.4L765.9,107.9L766.2,108.4L766.5,108.9L766.8,109.3L767.1,109.8L767.4,110.2L767.6,110.7L767.9,111.1L768.2,111.5L768.5,111.9L768.8,112.3L769.0,112.7L769.3,113.1L769.6,113.5L769.9,113.8L770.2,114.2L770.5,114.5L770.7,114.9L771.0,115.2L771.3,115.5L771.6,115.8L771.9,116.1L772.2,116.4L772.4,116.7L772.7,117.0L773.0,117.3L773.3,117.6L773.6,117.9L773.9,118.1L774.1,118.4L774.4,118.6L774.7,118.9L775.0,119.1L775.3,119.4L775.6,119.6L775.8,119.8L776.1,120.0L776.4,120.3L776.7,120.5L777.0,120.7L777.3,120.9L777.5,121.1L777.8,121.3L778.1,121.5L778.4,121.7L778.7,121.9L779.0,122.1L779.2,122.2L779.5,122.4L779.8,122.6L780.1,122.8L780.4,122.9L780.7,123.1L780.9,123.2L781.2,123.4L781.5,123.6L781.8,123.7L782.1,123.9L782.4,124.0L782.6,124.2L782.9,124.3L783.2,124.5L783.5,124.6L783.8,124.7L784.1,124.9L784.3,125.0L784.6,125.1L784.9,125.3L785.2,125.4L785.5,125.5L785.8,125.6L786.0,125.7L786.3,125.9L786.6,126.0L786.9,126.1L787.2,126.2L787.5,126.3L787.7,126.4L788.0,126.5L788.3,126.7L788.6,126.8L788.9,126.9L789.2,127.0L789.4,127.1L789.7,127.2L790.0,127.3L790.3,127.4L790.6,127.5L790.8,127.6L791.1,127.6L791.4,127.7L791.7,127.8L792.0,127.9L792.3,128.0L792.5,128.1L792.8,128.2L793.1,128.3L793.4,128.4L793.7,128.4L794.0,128.5L794.2,128.6L794.5,128.7L794.8,128.8L795.1,128.8L795.4,128.9L795.7,129.0L795.9,129.1L796.2,129.1L796.5,129.2L796.8,129.3L797.1,129.4L797.4,129.4L797.6,129.5L797.9,129.6L798.2,129.6L798.5,129.7L798.8,129.8L799.1,129.9L799.3,129.9L799.6,130.0L799.9,130.0L800.2,130.1L800.5,130.2L800.8,130.2L801.0,130.3L801.3,130.4L801.6,130.4L801.9,130.5L802.2,130.5L802.5,130.6L802.7,130.7L803.0,130.7L803.3,130.8L803.6,130.8L803.9,130.9L804.2,130.9L804.4,131.0L804.7,131.1L805.0,131.1L805.3,131.2L805.6,131.2L805.9,131.3L806.1,131.3L806.4,131.4L806.7,131.4L807.0,131.5L807.3,131.5L807.6,131.6L807.8,131.6L808.1,131.7L808.4,131.7L808.7,131.8L809.0,131.8L809.3,131.9L809.5,131.9L809.8,131.9L810.1,132.0L810.4,132.0L810.7,132.1L811.0,132.1L811.2,132.2L811.5,132.2L811.8,132.2L812.1,132.3L812.4,132.3L812.7,132.4L812.9,132.4L813.2,132.5L813.5,132.5" fill="none" stroke="#0000ff" stroke-width="3" stroke-linejoin="round" clip-path="url(#clipa)"/>
<rect x="134.00" y="28.40" width="679.50" height="504.60" fill="none" stroke="#000" stroke-width="3.4"/>
<path d="M134.00,533.00v10M247.25,533.00v10M360.50,533.00v10M473.75,533.00v10M587.00,533.00v10M700.25,533.00v10M813.50,533.00v10M190.62,533.00v6M303.88,533.00v6M417.12,533.00v6M530.38,533.00v6M643.62,533.00v6M756.88,533.00v6" stroke="#000" stroke-width="3.2" fill="none"/>
<path d="M134.00,470.99h-10M134.00,382.57h-10M134.00,294.15h-10M134.00,205.74h-10M134.00,117.32h-10M134.00,28.90h-10M134.00,515.20h-6M134.00,426.78h-6M134.00,338.36h-6M134.00,249.94h-6M134.00,161.53h-6M134.00,73.11h-6" stroke="#000" stroke-width="3.2" fill="none"/>
<text transform="translate(124.62,573.90) scale(0.96,1)" font-size="34.9" text-anchor="start" fill="#000">0</text>
<text transform="translate(228.32,573.90) scale(0.96,1)" font-size="34.9" text-anchor="start" fill="#000">20</text>
<text transform="translate(342.07,573.90) scale(0.96,1)" font-size="34.9" text-anchor="start" fill="#000">40</text>
<text transform="translate(454.82,573.90) scale(0.96,1)" font-size="34.9" text-anchor="start" fill="#000">60</text>
<text transform="translate(568.24,573.90) scale(0.96,1)" font-size="34.9" text-anchor="start" fill="#000">80</text>
<text transform="translate(671.60,573.90) scale(0.96,1)" font-size="34.9" text-anchor="start" fill="#000">100</text>
<text transform="translate(784.85,573.90) scale(0.96,1)" font-size="34.9" text-anchor="start" fill="#000">120</text>
<text transform="translate(59.20,479.19) scale(0.923,1)" font-size="33.7" text-anchor="start" fill="#000">0.06</text>
<text transform="translate(59.20,390.77) scale(0.923,1)" font-size="33.7" text-anchor="start" fill="#000">0.08</text>
<text transform="translate(58.89,302.35) scale(0.923,1)" font-size="33.7" text-anchor="start" fill="#000">0.10</text>
<text transform="translate(59.20,213.94) scale(0.923,1)" font-size="33.7" text-anchor="start" fill="#000">0.12</text>
<text transform="translate(58.58,125.52) scale(0.923,1)" font-size="33.7" text-anchor="start" fill="#000">0.14</text>
<text transform="translate(59.20,37.10) scale(0.923,1)" font-size="33.7" text-anchor="start" fill="#000">0.16</text>
<text transform="translate(419.36,605.30) scale(0.92,1)" font-size="34.6" text-anchor="start" fill="#000">Time&#160; (s)</text>
<text transform="translate(36.00,278.20) rotate(-90)" font-size="33.8" text-anchor="middle" fill="#000" textLength="172" lengthAdjust="spacingAndGlyphs">Current (mA)</text>
<text transform="translate(16.50,48.50)" font-size="30" text-anchor="start" fill="#000" textLength="34.3" lengthAdjust="spacingAndGlyphs">(a)</text>
<path d="M605.5,47.4H661.4" stroke="#0000ff" stroke-width="3.6"/>
<text transform="translate(669.00,56.60)" font-size="33.5" text-anchor="start" fill="#000" textLength="134" lengthAdjust="spacingAndGlyphs">PbSe-T30</text>
<path d="M607,228.6H663.6" stroke="#ff0000" stroke-width="3.6"/>
<text transform="translate(670.00,235.80)" font-size="33.5" text-anchor="start" fill="#000" textLength="134" lengthAdjust="spacingAndGlyphs">PbSe-T20</text>
<path d="M607.6,353H660.3" stroke="#000000" stroke-width="5"/>
<text transform="translate(669.30,361.50)" font-size="33.5" text-anchor="start" fill="#000" textLength="136" lengthAdjust="spacingAndGlyphs">PbSe-T10</text>
<path d="M581.5,510.7H636.7" stroke="#ff00ff" stroke-width="3.2"/>
<text transform="translate(642.70,517.00)" font-size="33.5" text-anchor="start" fill="#000" textLength="162" lengthAdjust="spacingAndGlyphs">I<tspan font-size="22" dy="12">2</tspan><tspan dy="-12">-PbSe-T30</tspan></text>
<text transform="translate(505.00,374.00)" font-size="31.5" text-anchor="start" fill="#000" textLength="40" lengthAdjust="spacingAndGlyphs">On</text>
<text transform="translate(562.00,463.00)" font-size="31.5" text-anchor="start" fill="#000" textLength="40" lengthAdjust="spacingAndGlyphs">Off</text>
<text transform="translate(154.00,63.00)" font-size="31" text-anchor="start" fill="#000" textLength="134" lengthAdjust="spacingAndGlyphs"><tspan font-family="Liberation Serif" font-size="29">&#955;</tspan>=808 nm</text>
<text transform="translate(312.80,63.00)" font-size="31" text-anchor="start" fill="#000" textLength="88" lengthAdjust="spacingAndGlyphs">V<tspan font-size="21" dy="11">ds</tspan><tspan dy="-11">=1v</tspan></text>
<defs>
<linearGradient id="gc" x1="0" y1="0" x2="0" y2="1">
<stop offset="0" stop-color="#00ffff"/><stop offset="0.32" stop-color="#00fcff"/>
<stop offset="0.6" stop-color="#00c4ff"/><stop offset="0.8" stop-color="#0090ff"/>
<stop offset="0.88" stop-color="#2a6cff"/><stop offset="1" stop-color="#4658f2"/></linearGradient>
<linearGradient id="gp" x1="0" y1="0" x2="0" y2="1">
<stop offset="0" stop-color="#ffaaff"/><stop offset="0.3" stop-color="#ff9eff"/>
<stop offset="0.6" stop-color="#e07cff"/><stop offset="0.85" stop-color="#c05cff"/>
<stop offset="1" stop-color="#b24cff"/></linearGradient>
<linearGradient id="gcl" x1="0" y1="0" x2="0" y2="1">
<stop offset="0" stop-color="#00ffff"/><stop offset="0.5" stop-color="#00c0ff"/><stop offset="1" stop-color="#2b6cff"/></linearGradient>
<linearGradient id="gpl" x1="0" y1="0" x2="0" y2="1">
<stop offset="0" stop-color="#ffaaff"/><stop offset="0.45" stop-color="#ff98ff"/><stop offset="1" stop-color="#b250ff"/></linearGradient>
</defs>
<rect x="947.8" y="252.3" width="54.8" height="286.2" fill="url(#gc)"/>
<rect x="1002.6" y="66.0" width="54.2" height="472.5" fill="url(#gpl)"/>
<rect x="1085.6" y="471.5" width="54.0" height="67.0" fill="url(#gc)"/>
<rect x="1139.6" y="427.7" width="54.2" height="110.8" fill="url(#gpl)"/>
<rect x="1223.0" y="521.6" width="53.5" height="16.9" fill="url(#gc)"/>
<rect x="1276.5" y="500.3" width="55.6" height="38.2" fill="url(#gpl)"/>
<rect x="1359.6" y="526.0" width="54.4" height="12.5" fill="url(#gc)"/>
<rect x="1414.0" y="511.7" width="55.0" height="26.8" fill="url(#gpl)"/>
<rect x="1552.3" y="535.6" width="54.7" height="2.5" fill="#9a4aa8"/>
<path d="M1502.2,538.5V512.2H1612.6V538.5" fill="none" stroke="#888" stroke-width="1.4"/>
<path d="M1502.2,538.5V512.2" fill="none" stroke="#222" stroke-width="1.4"/>
<path d="M1529.8,502V452" stroke="#777" stroke-width="1.3"/>
<path d="M1526.6,457L1529.8,445.5L1533,457Z" fill="#111"/>
<rect x="934.00" y="28.40" width="687.30" height="510.10" fill="none" stroke="#000" stroke-width="3.4"/>
<path d="M934.00,538.50h-10M934.00,445.08h-10M934.00,351.66h-10M934.00,258.24h-10M934.00,164.82h-10M934.00,71.40h-10M934.00,491.79h-6M934.00,398.37h-6M934.00,304.95h-6M934.00,211.53h-6M934.00,118.11h-6M934.00,118.11h-6" stroke="#000" stroke-width="3.2" fill="none"/>
<text transform="translate(899.58,546.80)" font-size="31" text-anchor="start" fill="#000">0</text>
<text transform="translate(899.89,453.38)" font-size="31" text-anchor="start" fill="#000">6</text>
<text transform="translate(882.53,359.96)" font-size="31" text-anchor="start" fill="#000">12</text>
<text transform="translate(882.53,266.54)" font-size="31" text-anchor="start" fill="#000">18</text>
<text transform="translate(881.91,173.12)" font-size="31" text-anchor="start" fill="#000">24</text>
<text transform="translate(882.22,79.70)" font-size="31" text-anchor="start" fill="#000">30</text>
<text transform="translate(974.39,572.20) scale(1.03,1)" font-size="32.3" text-anchor="start" fill="#000">808</text>
<text transform="translate(1113.05,572.20) scale(1.03,1)" font-size="32.3" text-anchor="start" fill="#000">980</text>
<text transform="translate(1239.54,572.20) scale(1.03,1)" font-size="32.3" text-anchor="start" fill="#000">1310</text>
<text transform="translate(1378.24,572.20) scale(1.03,1)" font-size="32.3" text-anchor="start" fill="#000">1550</text>
<text transform="translate(1516.14,572.20) scale(1.03,1)" font-size="32.3" text-anchor="start" fill="#000">2250</text>
<text transform="translate(1176.10,613.70)" font-size="29.6" text-anchor="start" fill="#000" textLength="233.7" lengthAdjust="spacingAndGlyphs">Wavelength (nm)</text>
<text transform="translate(847.00,329.40) rotate(-90)" font-size="28.8" text-anchor="start" fill="#000" textLength="109.5" lengthAdjust="spacingAndGlyphs">R<tspan font-size="17" dy="7">i</tspan><tspan dy="-7"> (A/W)</tspan></text>
<text transform="translate(822.50,47.30)" font-size="27" text-anchor="start" fill="#000" textLength="35.3" lengthAdjust="spacingAndGlyphs">(b)</text>
<rect x="1405.2" y="46" width="48" height="23.2" fill="url(#gcl)"/>
<rect x="1405.2" y="80.8" width="48" height="21.8" fill="url(#gpl)"/>
<text transform="translate(1461.90,64.80)" font-size="27.5" text-anchor="start" fill="#000" textLength="122.7" lengthAdjust="spacingAndGlyphs">PbSe-T30</text>
<text transform="translate(1461.90,98.20)" font-size="27.5" text-anchor="start" fill="#000" textLength="149.5" lengthAdjust="spacingAndGlyphs">I<tspan font-size="16" dy="11">2</tspan><tspan dy="-11">-PbSe-T30</tspan></text>
<rect x="1426.9" y="247.7" width="124" height="184.0" fill="url(#gpl)"/>
<rect x="1269.9" y="199.3" width="313.2" height="232.4" fill="none" stroke="#000" stroke-width="1.6"/>
<path d="M1269.9,431.7h-5M1269.9,354.2h-5M1269.9,276.8h-5M1269.9,199.3h-5M1269.9,393.0h-2.5M1269.9,315.5h-2.5M1269.9,238.0h-2.5" stroke="#000" stroke-width="1.4"/>
<text transform="translate(1261.90,439.50)" font-size="21.5" text-anchor="end" fill="#000" font-weight="bold" textLength="32" lengthAdjust="spacingAndGlyphs">0.0</text>
<text transform="translate(1261.90,362.03)" font-size="21.5" text-anchor="end" fill="#000" font-weight="bold" textLength="32" lengthAdjust="spacingAndGlyphs">0.1</text>
<text transform="translate(1261.90,284.57)" font-size="21.5" text-anchor="end" fill="#000" font-weight="bold" textLength="32" lengthAdjust="spacingAndGlyphs">0.2</text>
<text transform="translate(1261.90,207.10)" font-size="21.5" text-anchor="end" fill="#000" font-weight="bold" textLength="32" lengthAdjust="spacingAndGlyphs">0.3</text>
<text transform="translate(1301.60,392.00)" font-size="18.5" text-anchor="start" fill="#000" font-weight="bold" textLength="104" lengthAdjust="spacingAndGlyphs">No response</text>
<text transform="translate(1382.20,461.50)" font-size="21" text-anchor="start" fill="#000" font-weight="bold" textLength="92" lengthAdjust="spacingAndGlyphs">2250 nm</text>
<text transform="translate(1216.00,311.50) rotate(-90)" font-size="21" text-anchor="middle" fill="#000" font-weight="bold" textLength="84" lengthAdjust="spacingAndGlyphs">Ri <tspan font-size="12">(</tspan>A/W<tspan font-size="12">)</tspan></text>
<clipPath id="clipc1"><rect x="135.40" y="645.90" width="679.00" height="244.10"/></clipPath>
<path d="M135.4,841.1L135.8,841.3L136.2,841.5L136.5,841.7L136.9,841.9L137.3,842.1L137.7,842.3L138.0,842.6L138.4,842.8L138.8,843.0L139.2,843.2L139.5,843.4L139.9,843.6L140.3,843.8L140.7,844.0L141.1,844.2L141.4,844.4L141.8,844.6L142.2,844.8L142.6,845.0L142.9,845.2L143.3,845.4L143.7,845.6L144.1,845.8L144.5,846.0L144.8,846.2L145.2,846.4L145.6,846.6L146.0,846.8L146.3,847.0L146.7,847.2L147.1,847.4L147.5,847.6L147.8,847.8L148.2,848.0L148.6,848.2L149.0,848.4L149.4,848.7L149.7,848.9L150.1,849.1L150.5,849.3L150.9,849.5L151.2,849.7L151.6,849.7L152.0,849.7L152.4,849.7L152.8,812.7L153.1,786.8L153.5,768.5L153.9,755.2L154.3,745.4L154.6,738.0L155.0,732.2L155.4,727.5L155.8,723.5L156.1,720.2L156.5,717.3L156.9,714.6L157.3,712.2L157.7,710.0L158.0,707.9L158.4,706.0L158.8,704.1L159.2,702.4L159.5,700.8L159.9,699.2L160.3,697.7L160.7,696.3L161.1,694.9L161.4,693.6L161.8,692.4L162.2,691.2L162.6,690.1L162.9,689.0L163.3,688.0L163.7,687.0L164.1,686.1L164.4,685.2L164.8,684.3L165.2,683.5L165.6,682.7L166.0,681.9L166.3,681.2L166.7,680.5L167.1,679.9L167.5,679.3L167.8,678.7L168.2,678.1L168.6,677.6L169.0,677.0L169.3,676.5L169.7,676.1L170.1,675.6L170.5,675.2L170.9,674.8L171.2,674.4L171.6,674.0L172.0,673.6L172.4,673.3L172.7,672.9L173.1,672.6L173.5,672.3L173.9,672.0L174.3,671.8L174.6,682.9L175.0,698.0L175.4,716.6L175.8,730.1L176.1,735.7L176.5,741.0L176.9,746.0L177.3,750.7L177.6,755.1L178.0,759.3L178.4,763.2L178.8,766.9L179.2,770.4L179.5,773.7L179.9,776.9L180.3,779.8L180.7,782.6L181.0,785.2L181.4,787.7L181.8,790.1L182.2,792.3L182.6,794.4L182.9,796.5L183.3,798.4L183.7,800.2L184.1,801.9L184.4,803.6L184.8,805.1L185.2,806.6L185.6,808.0L185.9,809.4L186.3,810.7L186.7,811.9L187.1,813.1L187.5,814.2L187.8,815.3L188.2,816.4L188.6,817.4L189.0,818.3L189.3,819.2L189.7,820.1L190.1,821.0L190.5,821.8L190.9,822.6L191.2,823.3L191.6,824.0L192.0,824.7L192.4,825.4L192.7,826.1L193.1,826.7L193.5,827.3L193.9,827.9L194.2,828.5L194.6,829.0L195.0,829.6L195.4,830.1L195.8,830.6L196.1,831.1L196.5,831.5L196.9,832.0L197.3,832.5L197.6,832.9L198.0,833.3L198.4,833.7L198.8,834.1L199.2,834.5L199.5,834.9L199.9,835.3L200.3,835.6L200.7,836.0L201.0,836.3L201.4,836.7L201.8,837.0L202.2,837.3L202.5,837.6L202.9,837.9L203.3,838.2L203.7,838.5L204.1,838.8L204.4,839.1L204.8,839.3L205.2,839.6L205.6,839.9L205.9,840.1L206.3,840.4L206.7,840.6L207.1,840.9L207.4,841.1L207.8,841.3L208.2,841.6L208.6,841.8L209.0,842.0L209.3,842.2L209.7,842.4L210.1,842.6L210.5,842.8L210.8,843.0L211.2,843.2L211.6,843.4L212.0,843.6L212.4,843.8L212.7,843.9L213.1,844.1L213.5,844.3L213.9,844.5L214.2,844.6L214.6,844.8L215.0,845.0L215.4,845.1L215.7,845.3L216.1,845.4L216.5,845.6L216.9,845.7L217.3,845.9L217.6,846.0L218.0,846.1L218.4,846.3L218.8,846.4L219.1,846.6L219.5,846.7L219.9,846.8L220.3,846.9L220.7,847.1L221.0,847.2L221.4,847.3L221.8,847.4L222.2,847.5L222.5,847.7L222.9,847.8L223.3,847.9L223.7,848.0L224.0,848.1L224.4,848.2L224.8,848.3L225.2,848.4L225.6,848.5L225.9,848.6L226.3,848.7L226.7,848.7L227.1,848.7L227.4,848.7L227.8,826.9L228.2,811.6L228.6,800.8L229.0,793.0L229.3,787.2L229.7,782.8L230.1,779.4L230.5,776.6L230.8,774.3L231.2,772.4L231.6,770.6L232.0,769.1L232.3,767.6L232.7,766.3L233.1,765.1L233.5,764.0L233.9,762.9L234.2,761.9L234.6,760.9L235.0,760.0L235.4,759.1L235.7,758.2L236.1,757.4L236.5,756.7L236.9,756.0L237.3,755.3L237.6,754.6L238.0,754.0L238.4,753.3L238.8,752.8L239.1,752.2L239.5,751.7L239.9,751.2L240.3,750.7L240.6,750.2L241.0,749.8L241.4,749.4L241.8,749.0L242.2,748.6L242.5,748.2L242.9,747.9L243.3,747.5L243.7,747.2L244.0,746.9L244.4,746.6L244.8,746.3L245.2,746.1L245.5,745.8L245.9,745.6L246.3,745.3L246.7,745.1L247.1,744.9L247.4,744.7L247.8,744.5L248.2,744.3L248.6,744.1L248.9,743.9L249.3,743.8L249.7,743.6L250.1,750.6L250.5,760.0L250.8,771.6L251.2,780.0L251.6,783.5L252.0,786.8L252.3,789.9L252.7,792.8L253.1,795.6L253.5,798.2L253.8,800.6L254.2,802.9L254.6,805.1L255.0,807.2L255.4,809.1L255.7,810.9L256.1,812.7L256.5,814.3L256.9,815.9L257.2,817.3L257.6,818.7L258.0,820.1L258.4,821.3L258.8,822.5L259.1,823.6L259.5,824.7L259.9,825.7L260.3,826.7L260.6,827.7L261.0,828.5L261.4,829.4L261.8,830.2L262.1,831.0L262.5,831.7L262.9,832.4L263.3,833.1L263.7,833.7L264.0,834.3L264.4,834.9L264.8,835.5L265.2,836.1L265.5,836.6L265.9,837.1L266.3,837.6L266.7,838.1L267.1,838.5L267.4,838.9L267.8,839.4L268.2,839.8L268.6,840.2L268.9,840.5L269.3,840.9L269.7,841.3L270.1,841.6L270.4,841.9L270.8,842.3L271.2,842.6L271.6,842.9L272.0,843.2L272.3,843.5L272.7,843.8L273.1,844.0L273.5,844.3L273.8,844.5L274.2,844.8L274.6,845.0L275.0,845.3L275.3,845.5L275.7,845.7L276.1,845.9L276.5,846.2L276.9,846.4L277.2,846.6L277.6,846.8L278.0,847.0L278.4,847.2L278.7,847.3L279.1,847.5L279.5,847.7L279.9,847.9L280.3,848.0L280.6,848.2L281.0,848.4L281.4,848.5L281.8,848.7L282.1,848.8L282.5,849.0L282.9,849.1L283.3,849.3L283.6,849.4L284.0,849.6L284.4,849.7L284.8,849.8L285.2,850.0L285.5,850.1L285.9,850.2L286.3,850.3L286.7,850.5L287.0,850.6L287.4,850.7L287.8,850.8L288.2,850.9L288.6,851.0L288.9,851.1L289.3,851.2L289.7,851.3L290.1,851.4L290.4,851.5L290.8,851.6L291.2,851.7L291.6,851.8L291.9,851.9L292.3,852.0L292.7,852.1L293.1,852.2L293.5,852.3L293.8,852.4L294.2,852.5L294.6,852.5L295.0,852.6L295.3,852.7L295.7,852.8L296.1,852.9L296.5,852.9L296.9,853.0L297.2,853.1L297.6,853.2L298.0,853.2L298.4,853.3L298.7,853.4L299.1,853.4L299.5,853.5L299.9,853.6L300.2,853.6L300.6,853.7L301.0,853.8L301.4,853.8L301.8,853.9L302.1,853.9L302.5,853.9L302.9,845.9L303.3,830.3L303.6,819.4L304.0,811.6L304.4,805.9L304.8,801.7L305.2,798.4L305.5,795.8L305.9,793.7L306.3,791.9L306.7,790.4L307.0,789.0L307.4,787.8L307.8,786.6L308.2,785.6L308.5,784.6L308.9,783.7L309.3,782.8L309.7,782.0L310.1,781.2L310.4,780.5L310.8,779.7L311.2,779.1L311.6,778.4L311.9,777.8L312.3,777.2L312.7,776.6L313.1,776.1L313.4,775.6L313.8,775.1L314.2,774.6L314.6,774.2L315.0,773.8L315.3,773.3L315.7,772.9L316.1,772.6L316.5,772.2L316.8,771.9L317.2,771.6L317.6,771.2L318.0,770.9L318.4,770.7L318.7,770.4L319.1,770.1L319.5,769.9L319.9,769.6L320.2,769.4L320.6,769.2L321.0,769.0L321.4,768.8L321.7,768.6L322.1,768.4L322.5,768.2L322.9,768.1L323.3,767.9L323.6,767.8L324.0,767.6L324.4,767.5L324.8,767.4L325.1,773.1L325.5,780.8L325.9,790.4L326.3,797.3L326.7,800.2L327.0,802.9L327.4,805.5L327.8,807.9L328.2,810.2L328.5,812.3L328.9,814.3L329.3,816.2L329.7,818.0L330.0,819.7L330.4,821.3L330.8,822.8L331.2,824.3L331.6,825.6L331.9,826.9L332.3,828.1L332.7,829.3L333.1,830.3L333.4,831.4L333.8,832.4L334.2,833.3L334.6,834.2L335.0,835.0L335.3,835.8L335.7,836.6L336.1,837.3L336.5,838.0L336.8,838.7L337.2,839.3L337.6,839.9L338.0,840.5L338.3,841.1L338.7,841.6L339.1,842.1L339.5,842.6L339.9,843.1L340.2,843.5L340.6,844.0L341.0,844.4L341.4,844.8L341.7,845.2L342.1,845.5L342.5,845.9L342.9,846.2L343.2,846.6L343.6,846.9L344.0,847.2L344.4,847.5L344.8,847.8L345.1,848.1L345.5,848.4L345.9,848.6L346.3,848.9L346.6,849.2L347.0,849.4L347.4,849.6L347.8,849.9L348.2,850.1L348.5,850.3L348.9,850.5L349.3,850.7L349.7,850.9L350.0,851.1L350.4,851.3L350.8,851.5L351.2,851.7L351.5,851.8L351.9,852.0L352.3,852.2L352.7,852.4L353.1,852.5L353.4,852.7L353.8,852.8L354.2,853.0L354.6,853.1L354.9,853.3L355.3,853.4L355.7,853.5L356.1,853.7L356.5,853.8L356.8,853.9L357.2,854.1L357.6,854.2L358.0,854.3L358.3,854.4L358.7,854.5L359.1,854.6L359.5,854.8L359.8,854.9L360.2,855.0L360.6,855.1L361.0,855.2L361.4,855.3L361.7,855.4L362.1,855.5L362.5,855.6L362.9,855.7L363.2,855.8L363.6,855.9L364.0,855.9L364.4,856.0L364.8,856.1L365.1,856.2L365.5,856.3L365.9,856.4L366.3,856.4L366.6,856.5L367.0,856.6L367.4,856.7L367.8,856.7L368.1,856.8L368.5,856.9L368.9,857.0L369.3,857.0L369.7,857.1L370.0,857.2L370.4,857.2L370.8,857.3L371.2,857.4L371.5,857.4L371.9,857.5L372.3,857.5L372.7,857.6L373.1,857.7L373.4,857.7L373.8,857.8L374.2,857.8L374.6,857.9L374.9,858.0L375.3,858.0L375.7,858.1L376.1,858.1L376.4,858.2L376.8,858.2L377.2,858.2L377.6,858.2L378.0,858.2L378.3,844.8L378.7,835.4L379.1,828.7L379.5,823.9L379.8,820.4L380.2,817.7L380.6,815.6L381.0,813.8L381.3,812.4L381.7,811.2L382.1,810.1L382.5,809.2L382.9,808.3L383.2,807.5L383.6,806.8L384.0,806.0L384.4,805.4L384.7,804.8L385.1,804.2L385.5,803.6L385.9,803.0L386.3,802.5L386.6,802.0L387.0,801.6L387.4,801.1L387.8,800.7L388.1,800.3L388.5,799.9L388.9,799.5L389.3,799.2L389.6,798.8L390.0,798.5L390.4,798.2L390.8,797.9L391.2,797.6L391.5,797.3L391.9,797.1L392.3,796.8L392.7,796.6L393.0,796.4L393.4,796.1L393.8,795.9L394.2,795.7L394.6,795.5L394.9,795.4L395.3,795.2L395.7,795.0L396.1,794.9L396.4,794.7L396.8,794.6L397.2,794.4L397.6,794.3L397.9,794.2L398.3,794.1L398.7,793.9L399.1,793.8L399.5,793.7L399.8,793.6L400.2,793.5L400.6,797.7L401.0,803.4L401.3,810.4L401.7,815.5L402.1,817.6L402.5,819.6L402.9,821.5L403.2,823.3L403.6,825.0L404.0,826.5L404.4,828.0L404.7,829.4L405.1,830.7L405.5,832.0L405.9,833.1L406.2,834.3L406.6,835.3L407.0,836.3L407.4,837.2L407.8,838.1L408.1,839.0L408.5,839.8L408.9,840.5L409.3,841.3L409.6,841.9L410.0,842.6L410.4,843.2L410.8,843.8L411.1,844.4L411.5,844.9L411.9,845.4L412.3,845.9L412.7,846.4L413.0,846.8L413.4,847.2L413.8,847.6L414.2,848.0L414.5,848.4L414.9,848.8L415.3,849.1L415.7,849.4L416.1,849.8L416.4,850.1L416.8,850.4L417.2,850.6L417.6,850.9L417.9,851.2L418.3,851.4L418.7,851.7L419.1,851.9L419.4,852.1L419.8,852.4L420.2,852.6L420.6,852.8L421.0,853.0L421.3,853.2L421.7,853.4L422.1,853.6L422.5,853.7L422.8,853.9L423.2,854.1L423.6,854.2L424.0,854.4L424.4,854.6L424.7,854.7L425.1,854.9L425.5,855.0L425.9,855.1L426.2,855.3L426.6,855.4L427.0,855.5L427.4,855.7L427.7,855.8L428.1,855.9L428.5,856.0L428.9,856.1L429.3,856.2L429.6,856.4L430.0,856.5L430.4,856.6L430.8,856.7L431.1,856.8L431.5,856.9L431.9,857.0L432.3,857.1L432.7,857.1L433.0,857.2L433.4,857.3L433.8,857.4L434.2,857.5L434.5,857.6L434.9,857.7L435.3,857.7L435.7,857.8L436.0,857.9L436.4,858.0L436.8,858.0L437.2,858.1L437.6,858.2L437.9,858.3L438.3,858.3L438.7,858.4L439.1,858.5L439.4,858.5L439.8,858.6L440.2,858.7L440.6,858.7L440.9,858.8L441.3,858.8L441.7,858.9L442.1,858.9L442.5,859.0L442.8,859.1L443.2,859.1L443.6,859.2L444.0,859.2L444.3,859.3L444.7,859.3L445.1,859.4L445.5,859.4L445.9,859.5L446.2,859.5L446.6,859.6L447.0,859.6L447.4,859.6L447.7,859.7L448.1,859.7L448.5,859.8L448.9,859.8L449.2,859.9L449.6,859.9L450.0,859.9L450.4,860.0L450.8,860.0L451.1,860.1L451.5,860.1L451.9,860.1L452.3,860.2L452.6,860.2L453.0,860.2L453.4,860.2L453.8,860.2L454.2,860.2L454.5,849.4L454.9,841.7L455.3,836.3L455.7,832.4L456.0,829.6L456.4,827.4L456.8,825.7L457.2,824.3L457.5,823.1L457.9,822.1L458.3,821.3L458.7,820.5L459.1,819.8L459.4,819.1L459.8,818.5L460.2,817.9L460.6,817.4L460.9,816.9L461.3,816.4L461.7,816.0L462.1,815.5L462.5,815.1L462.8,814.7L463.2,814.3L463.6,813.9L464.0,813.6L464.3,813.3L464.7,813.0L465.1,812.6L465.5,812.4L465.8,812.1L466.2,811.8L466.6,811.6L467.0,811.3L467.4,811.1L467.7,810.9L468.1,810.7L468.5,810.5L468.9,810.3L469.2,810.1L469.6,809.9L470.0,809.7L470.4,809.6L470.8,809.4L471.1,809.3L471.5,809.1L471.9,809.0L472.3,808.9L472.6,808.8L473.0,808.6L473.4,808.5L473.8,808.4L474.1,808.3L474.5,808.2L474.9,808.1L475.3,808.0L475.7,812.1L476.0,817.5L476.4,824.2L476.8,829.1L477.2,831.1L477.5,833.0L477.9,834.8L478.3,836.5L478.7,838.1L479.0,839.6L479.4,841.0L479.8,842.4L480.2,843.6L480.6,844.8L480.9,845.9L481.3,847.0L481.7,848.0L482.1,849.0L482.4,849.9L482.8,850.7L483.2,851.5L483.6,852.3L484.0,853.0L484.3,853.7L484.7,854.4L485.1,855.0L485.5,855.6L485.8,856.1L486.2,856.7L486.6,857.2L487.0,857.7L487.3,858.1L487.7,858.6L488.1,859.0L488.5,859.4L488.9,859.8L489.2,860.2L489.6,860.5L490.0,860.9L490.4,861.2L490.7,861.5L491.1,861.8L491.5,862.1L491.9,862.4L492.3,862.7L492.6,862.9L493.0,863.2L493.4,863.4L493.8,863.7L494.1,863.9L494.5,864.1L494.9,864.3L495.3,864.5L495.6,864.7L496.0,864.9L496.4,865.1L496.8,865.3L497.2,865.4L497.5,865.6L497.9,865.8L498.3,865.9L498.7,866.1L499.0,866.2L499.4,866.4L499.8,866.5L500.2,866.7L500.6,866.8L500.9,866.9L501.3,867.1L501.7,867.2L502.1,867.3L502.4,867.4L502.8,867.6L503.2,867.7L503.6,867.8L503.9,867.9L504.3,868.0L504.7,868.1L505.1,868.2L505.5,868.3L505.8,868.4L506.2,868.5L506.6,868.6L507.0,868.7L507.3,868.8L507.7,868.8L508.1,868.9L508.5,869.0L508.8,869.1L509.2,869.2L509.6,869.3L510.0,869.3L510.4,869.4L510.7,869.5L511.1,869.6L511.5,869.6L511.9,869.7L512.2,869.8L512.6,869.8L513.0,869.9L513.4,870.0L513.8,870.0L514.1,870.1L514.5,870.1L514.9,870.2L515.3,870.3L515.6,870.3L516.0,870.4L516.4,870.4L516.8,870.5L517.1,870.5L517.5,870.6L517.9,870.6L518.3,870.7L518.7,870.7L519.0,870.8L519.4,870.8L519.8,870.9L520.2,870.9L520.5,871.0L520.9,871.0L521.3,871.1L521.7,871.1L522.1,871.2L522.4,871.2L522.8,871.2L523.2,871.3L523.6,871.3L523.9,871.4L524.3,871.4L524.7,871.4L525.1,871.5L525.4,871.5L525.8,871.5L526.2,871.6L526.6,871.6L527.0,871.6L527.3,871.7L527.7,871.7L528.1,871.8L528.5,871.8L528.8,871.8L529.2,871.8L529.6,871.9L530.0,871.9L530.4,871.9L530.7,871.9L531.1,871.9L531.5,862.4L531.9,855.7L532.2,850.9L532.6,847.5L533.0,845.0L533.4,843.1L533.7,841.6L534.1,840.4L534.5,839.4L534.9,838.5L535.3,837.7L535.6,837.0L536.0,836.4L536.4,835.9L536.8,835.3L537.1,834.8L537.5,834.3L537.9,833.9L538.3,833.5L538.7,833.1L539.0,832.7L539.4,832.3L539.8,832.0L540.2,831.6L540.5,831.3L540.9,831.0L541.3,830.7L541.7,830.4L542.0,830.2L542.4,829.9L542.8,829.7L543.2,829.4L543.6,829.2L543.9,829.0L544.3,828.8L544.7,828.6L545.1,828.4L545.4,828.3L545.8,828.1L546.2,827.9L546.6,827.8L546.9,827.6L547.3,827.5L547.7,827.3L548.1,827.2L548.5,827.1L548.8,827.0L549.2,826.9L549.6,826.8L550.0,826.7L550.3,826.6L550.7,826.5L551.1,826.4L551.5,826.3L551.9,826.2L552.2,829.5L552.6,834.0L553.0,839.5L553.4,843.4L553.7,845.1L554.1,846.7L554.5,848.2L554.9,849.6L555.2,850.9L555.6,852.1L556.0,853.3L556.4,854.3L556.8,855.4L557.1,856.4L557.5,857.3L557.9,858.1L558.3,859.0L558.6,859.7L559.0,860.5L559.4,861.2L559.8,861.8L560.2,862.5L560.5,863.1L560.9,863.6L561.3,864.2L561.7,864.7L562.0,865.2L562.4,865.6L562.8,866.1L563.2,866.5L563.5,866.9L563.9,867.3L564.3,867.6L564.7,868.0L565.1,868.3L565.4,868.6L565.8,868.9L566.2,869.2L566.6,869.5L566.9,869.8L567.3,870.0L567.7,870.3L568.1,870.5L568.5,870.8L568.8,871.0L569.2,871.2L569.6,871.4L570.0,871.6L570.3,871.8L570.7,872.0L571.1,872.2L571.5,872.3L571.8,872.5L572.2,872.7L572.6,872.8L573.0,873.0L573.4,873.1L573.7,873.3L574.1,873.4L574.5,873.5L574.9,873.7L575.2,873.8L575.6,873.9L576.0,874.0L576.4,874.2L576.7,874.3L577.1,874.4L577.5,874.5L577.9,874.6L578.3,874.7L578.6,874.8L579.0,874.9L579.4,875.0L579.8,875.1L580.1,875.2L580.5,875.3L580.9,875.4L581.3,875.4L581.7,875.5L582.0,875.6L582.4,875.7L582.8,875.8L583.2,875.8L583.5,875.9L583.9,876.0L584.3,876.1L584.7,876.1L585.0,876.2L585.4,876.3L585.8,876.3L586.2,876.4L586.6,876.5L586.9,876.5L587.3,876.6L587.7,876.6L588.1,876.7L588.4,876.8L588.8,876.8L589.2,876.9L589.6,876.9L590.0,877.0L590.3,877.0L590.7,877.1L591.1,877.1L591.5,877.2L591.8,877.2L592.2,877.3L592.6,877.3L593.0,877.4L593.3,877.4L593.7,877.4L594.1,877.5L594.5,877.5L594.9,877.6L595.2,877.6L595.6,877.7L596.0,877.7L596.4,877.7L596.7,877.8L597.1,877.8L597.5,877.8L597.9,877.9L598.3,877.9L598.6,878.0L599.0,878.0L599.4,878.0L599.8,878.1L600.1,878.1L600.5,878.1L600.9,878.2L601.3,878.2L601.6,878.2L602.0,878.2L602.4,878.3L602.8,878.3L603.2,878.3L603.5,878.4L603.9,878.4L604.3,878.4L604.7,878.4L605.0,878.5L605.4,878.5L605.8,878.5L606.2,878.6L606.6,878.6L606.9,878.6L607.3,878.6L607.7,873.5L608.1,870.0L608.4,867.5L608.8,865.7L609.2,864.4L609.6,863.4L609.9,862.6L610.3,862.0L610.7,861.5L611.1,861.0L611.5,860.6L611.8,860.2L612.2,859.9L612.6,859.6L613.0,859.3L613.3,859.1L613.7,858.8L614.1,858.6L614.5,858.4L614.8,858.2L615.2,858.0L615.6,857.8L616.0,857.6L616.4,857.4L616.7,857.2L617.1,857.1L617.5,856.9L617.9,856.8L618.2,856.6L618.6,856.5L619.0,856.4L619.4,856.2L619.8,856.1L620.1,856.0L620.5,855.9L620.9,855.8L621.3,855.7L621.6,855.6L622.0,855.5L622.4,855.5L622.8,855.4L623.1,855.3L623.5,855.2L623.9,855.1L624.3,855.1L624.7,855.0L625.0,855.0L625.4,854.9L625.8,854.8L626.2,854.8L626.5,854.7L626.9,854.7L627.3,854.6L627.7,854.6L628.1,854.6L628.4,855.9L628.8,857.6L629.2,859.8L629.6,861.3L629.9,862.0L630.3,862.6L630.7,863.2L631.1,863.7L631.4,864.3L631.8,864.7L632.2,865.2L632.6,865.6L633.0,866.0L633.3,866.4L633.7,866.8L634.1,867.1L634.5,867.5L634.8,867.8L635.2,868.1L635.6,868.3L636.0,868.6L636.4,868.8L636.7,869.1L637.1,869.3L637.5,869.5L637.9,869.7L638.2,869.9L638.6,870.1L639.0,870.3L639.4,870.4L639.7,870.6L640.1,870.7L640.5,870.9L640.9,871.0L641.3,871.1L641.6,871.3L642.0,871.4L642.4,871.5L642.8,871.6L643.1,871.7L643.5,871.8L643.9,871.9L644.3,872.0L644.6,872.1L645.0,872.2L645.4,872.3L645.8,872.4L646.2,872.4L646.5,872.5L646.9,872.6L647.3,872.7L647.7,872.7L648.0,872.8L648.4,872.9L648.8,872.9L649.2,873.0L649.6,873.0L649.9,873.1L650.3,873.2L650.7,873.2L651.1,873.3L651.4,873.3L651.8,873.4L652.2,873.4L652.6,873.5L652.9,873.5L653.3,873.5L653.7,873.6L654.1,873.6L654.5,873.7L654.8,873.7L655.2,873.8L655.6,873.8L656.0,873.8L656.3,873.9L656.7,873.9L657.1,873.9L657.5,874.0L657.9,874.0L658.2,874.0L658.6,874.1L659.0,874.1L659.4,874.1L659.7,874.2L660.1,874.2L660.5,874.2L660.9,874.2L661.2,874.3L661.6,874.3L662.0,874.3L662.4,874.3L662.8,874.4L663.1,874.4L663.5,874.4L663.9,874.4L664.3,874.5L664.6,874.5L665.0,874.5L665.4,874.5L665.8,874.6L666.2,874.6L666.5,874.6L666.9,874.6L667.3,874.6L667.7,874.7L668.0,874.7L668.4,874.7L668.8,874.7L669.2,874.7L669.5,874.8L669.9,874.8L670.3,874.8L670.7,874.8L671.1,874.8L671.4,874.8L671.8,874.9L672.2,874.9L672.6,874.9L672.9,874.9L673.3,874.9L673.7,874.9L674.1,874.9L674.5,875.0L674.8,875.0L675.2,875.0L675.6,875.0L676.0,875.0L676.3,875.0L676.7,875.0L677.1,875.1L677.5,875.1L677.8,875.1L678.2,875.1L678.6,875.1L679.0,875.1L679.4,875.1L679.7,875.1L680.1,875.2L680.5,875.2L680.9,875.2L681.2,875.2L681.6,875.2L682.0,873.3L682.4,872.1L682.7,871.2L683.1,870.5L683.5,870.0L683.9,869.7L684.3,869.4L684.6,869.2L685.0,869.0L685.4,868.8L685.8,868.7L686.1,868.5L686.5,868.4L686.9,868.3L687.3,868.2L687.7,868.1L688.0,868.0L688.4,867.9L688.8,867.8L689.2,867.8L689.5,867.7L689.9,867.6L690.3,867.6L690.7,867.5L691.0,867.4L691.4,867.4L691.8,867.3L692.2,867.3L692.6,867.2L692.9,867.2L693.3,867.1L693.7,867.1L694.1,867.0L694.4,867.0L694.8,867.0L695.2,866.9L695.6,866.9L696.0,866.9L696.3,866.8L696.7,866.8L697.1,866.8L697.5,866.7L697.8,866.7L698.2,866.7L698.6,866.7L699.0,866.6L699.3,866.6L699.7,866.6L700.1,866.6L700.5,866.6L700.9,866.5L701.2,866.5L701.6,866.5L702.0,866.5L702.4,867.1L702.7,867.9L703.1,869.0L703.5,869.7L703.9,870.0L704.3,870.3L704.6,870.6L705.0,870.8L705.4,871.1L705.8,871.3L706.1,871.5L706.5,871.7L706.9,871.9L707.3,872.1L707.6,872.3L708.0,872.4L708.4,872.6L708.8,872.7L709.2,872.9L709.5,873.0L709.9,873.1L710.3,873.2L710.7,873.4L711.0,873.5L711.4,873.6L711.8,873.7L712.2,873.7L712.5,873.8L712.9,873.9L713.3,874.0L713.7,874.1L714.1,874.1L714.4,874.2L714.8,874.3L715.2,874.3L715.6,874.4L715.9,874.4L716.3,874.5L716.7,874.6L717.1,874.6L717.5,874.7L717.8,874.7L718.2,874.7L718.6,874.8L719.0,874.8L719.3,874.9L719.7,874.9L720.1,874.9L720.5,875.0L720.8,875.0L721.2,875.0L721.6,875.1L722.0,875.1L722.4,875.1L722.7,875.2L723.1,875.2L723.5,875.2L723.9,875.3L724.2,875.3L724.6,875.3L725.0,875.3L725.4,875.3L725.8,875.4L726.1,875.4L726.5,875.4L726.9,875.4L727.3,875.5L727.6,875.5L728.0,875.5L728.4,875.5L728.8,875.5L729.1,875.6L729.5,875.6L729.9,875.6L730.3,875.6L730.7,875.6L731.0,875.6L731.4,875.7L731.8,875.7L732.2,875.7L732.5,875.7L732.9,875.7L733.3,875.7L733.7,875.7L734.1,875.8L734.4,875.8L734.8,875.8L735.2,875.8L735.6,875.8L735.9,875.8L736.3,875.8L736.7,875.8L737.1,875.9L737.4,875.9L737.8,875.9L738.2,875.9L738.6,875.9L739.0,875.9L739.3,875.9L739.7,875.9L740.1,875.9L740.5,875.9L740.8,876.0L741.2,876.0L741.6,876.0L742.0,876.0L742.4,876.0L742.7,876.0L743.1,876.0L743.5,876.0L743.9,876.0L744.2,876.0L744.6,876.0L745.0,876.0L745.4,876.1L745.7,876.1L746.1,876.1L746.5,876.1L746.9,876.1L747.3,876.1L747.6,876.1L748.0,876.1L748.4,876.1L748.8,876.1L749.1,876.1L749.5,876.1L749.9,876.1L750.3,876.1L750.6,876.1L751.0,876.1L751.4,876.2L751.8,876.2L752.2,876.2L752.5,876.2L752.9,876.2L753.3,876.2L753.7,876.2L754.0,876.2L754.4,876.2L754.8,876.2L755.2,876.2L755.6,876.2L755.9,876.2L756.3,876.2L756.7,876.2L757.1,876.2L757.4,876.2L757.8,876.2L758.2,876.2L758.6,876.2L758.9,876.2L759.3,876.2L759.7,876.2L760.1,874.7L760.5,873.6L760.8,872.8L761.2,872.2L761.6,871.8L762.0,871.5L762.3,871.2L762.7,871.0L763.1,870.8L763.5,870.7L763.9,870.6L764.2,870.5L764.6,870.4L765.0,870.3L765.4,870.2L765.7,870.1L766.1,870.0L766.5,869.9L766.9,869.9L767.2,869.8L767.6,869.7L768.0,869.7L768.4,869.6L768.8,869.6L769.1,869.5L769.5,869.5L769.9,869.4L770.3,869.4L770.6,869.3L771.0,869.3L771.4,869.2L771.8,869.2L772.2,869.2L772.5,869.1L772.9,869.1L773.3,869.1L773.7,869.0L774.0,869.0L774.4,869.0L774.8,868.9L775.2,868.9L775.5,868.9L775.9,868.9L776.3,868.8L776.7,868.8L777.1,868.8L777.4,868.8L777.8,868.8L778.2,868.7L778.6,868.7L778.9,868.7L779.3,868.7L779.7,868.7L780.1,868.7L780.4,868.7L780.8,869.2L781.2,870.0L781.6,870.9L782.0,871.6L782.3,871.9L782.7,872.1L783.1,872.4L783.5,872.6L783.8,872.8L784.2,873.1L784.6,873.3L785.0,873.4L785.4,873.6L785.7,873.8L786.1,873.9L786.5,874.1L786.9,874.2L787.2,874.4L787.6,874.5L788.0,874.6L788.4,874.7L788.7,874.9L789.1,875.0L789.5,875.1L789.9,875.1L790.3,875.2L790.6,875.3L791.0,875.4L791.4,875.5L791.8,875.6L792.1,875.6L792.5,875.7L792.9,875.8L793.3,875.8L793.7,875.9L794.0,875.9L794.4,876.0L794.8,876.1L795.2,876.1L795.5,876.2L795.9,876.2L796.3,876.3L796.7,876.3L797.0,876.3L797.4,876.4L797.8,876.4L798.2,876.5L798.6,876.5L798.9,876.5L799.3,876.6L799.7,876.6L800.1,876.6L800.4,876.7L800.8,876.7L801.2,876.7L801.6,876.8L802.0,876.8L802.3,876.8L802.7,876.8L803.1,876.9L803.5,876.9L803.8,876.9L804.2,876.9L804.6,877.0L805.0,877.0L805.3,877.0L805.7,877.0L806.1,877.1L806.5,877.1L806.9,877.1L807.2,877.1L807.6,877.2L808.0,877.2L808.4,877.2L808.7,877.2L809.1,877.2L809.5,877.2L809.9,877.3L810.3,877.3L810.6,877.3L811.0,877.3L811.4,877.3L811.8,877.4L812.1,877.4L812.5,877.4L812.9,877.4L813.3,877.4L813.6,877.4L814.0,877.5L814.4,877.5" fill="none" stroke="#ff8000" stroke-width="10" stroke-linejoin="round" stroke-linecap="round" clip-path="url(#clipc1)"/>
<circle cx="152.8" cy="812.7" r="5.6" fill="#ff8000"/>
<circle cx="152.4" cy="849.7" r="5.6" fill="#ff8000"/>
<circle cx="153.1" cy="786.8" r="5.6" fill="#ff8000"/>
<circle cx="153.5" cy="768.5" r="5.6" fill="#ff8000"/>
<circle cx="153.9" cy="755.2" r="5.6" fill="#ff8000"/>
<circle cx="154.3" cy="745.4" r="5.6" fill="#ff8000"/>
<circle cx="154.6" cy="738.0" r="5.6" fill="#ff8000"/>
<circle cx="155.0" cy="732.2" r="5.6" fill="#ff8000"/>
<circle cx="174.6" cy="682.9" r="5.6" fill="#ff8000"/>
<circle cx="174.3" cy="671.8" r="5.6" fill="#ff8000"/>
<circle cx="175.0" cy="698.0" r="5.6" fill="#ff8000"/>
<circle cx="175.4" cy="716.6" r="5.6" fill="#ff8000"/>
<circle cx="175.8" cy="730.1" r="5.6" fill="#ff8000"/>
<circle cx="176.1" cy="735.7" r="5.6" fill="#ff8000"/>
<circle cx="176.5" cy="741.0" r="5.6" fill="#ff8000"/>
<circle cx="227.8" cy="826.9" r="5.6" fill="#ff8000"/>
<circle cx="227.4" cy="848.7" r="5.6" fill="#ff8000"/>
<circle cx="228.2" cy="811.6" r="5.6" fill="#ff8000"/>
<circle cx="228.6" cy="800.8" r="5.6" fill="#ff8000"/>
<circle cx="229.0" cy="793.0" r="5.6" fill="#ff8000"/>
<circle cx="229.3" cy="787.2" r="5.6" fill="#ff8000"/>
<circle cx="250.1" cy="750.6" r="5.6" fill="#ff8000"/>
<circle cx="249.7" cy="743.6" r="5.6" fill="#ff8000"/>
<circle cx="250.5" cy="760.0" r="5.6" fill="#ff8000"/>
<circle cx="250.8" cy="771.6" r="5.6" fill="#ff8000"/>
<circle cx="251.2" cy="780.0" r="5.6" fill="#ff8000"/>
<circle cx="302.9" cy="845.9" r="5.6" fill="#ff8000"/>
<circle cx="302.5" cy="853.9" r="5.6" fill="#ff8000"/>
<circle cx="303.3" cy="830.3" r="5.6" fill="#ff8000"/>
<circle cx="303.6" cy="819.4" r="5.6" fill="#ff8000"/>
<circle cx="304.0" cy="811.6" r="5.6" fill="#ff8000"/>
<circle cx="304.4" cy="805.9" r="5.6" fill="#ff8000"/>
<circle cx="325.1" cy="773.1" r="5.6" fill="#ff8000"/>
<circle cx="324.8" cy="767.4" r="5.6" fill="#ff8000"/>
<circle cx="325.5" cy="780.8" r="5.6" fill="#ff8000"/>
<circle cx="325.9" cy="790.4" r="5.6" fill="#ff8000"/>
<circle cx="326.3" cy="797.3" r="5.6" fill="#ff8000"/>
<circle cx="378.3" cy="844.8" r="5.6" fill="#ff8000"/>
<circle cx="378.0" cy="858.2" r="5.6" fill="#ff8000"/>
<circle cx="378.7" cy="835.4" r="5.6" fill="#ff8000"/>
<circle cx="379.1" cy="828.7" r="5.6" fill="#ff8000"/>
<circle cx="401.0" cy="803.4" r="5.6" fill="#ff8000"/>
<circle cx="400.6" cy="797.7" r="5.6" fill="#ff8000"/>
<circle cx="401.3" cy="810.4" r="5.6" fill="#ff8000"/>
<circle cx="401.7" cy="815.5" r="5.6" fill="#ff8000"/>
<circle cx="454.5" cy="849.4" r="5.6" fill="#ff8000"/>
<circle cx="454.2" cy="860.2" r="5.6" fill="#ff8000"/>
<circle cx="454.9" cy="841.7" r="5.6" fill="#ff8000"/>
<circle cx="455.3" cy="836.3" r="5.6" fill="#ff8000"/>
<circle cx="476.0" cy="817.5" r="5.6" fill="#ff8000"/>
<circle cx="475.7" cy="812.1" r="5.6" fill="#ff8000"/>
<circle cx="476.4" cy="824.2" r="5.6" fill="#ff8000"/>
<circle cx="531.5" cy="862.4" r="5.6" fill="#ff8000"/>
<circle cx="531.1" cy="871.9" r="5.6" fill="#ff8000"/>
<circle cx="531.9" cy="855.7" r="5.6" fill="#ff8000"/>
<circle cx="553.0" cy="839.5" r="5.6" fill="#ff8000"/>
<circle cx="552.6" cy="834.0" r="5.6" fill="#ff8000"/>
<circle cx="607.7" cy="873.5" r="5.6" fill="#ff8000"/>
<circle cx="607.3" cy="878.6" r="5.6" fill="#ff8000"/>
<rect x="135.40" y="645.90" width="679.00" height="244.10" fill="none" stroke="#000" stroke-width="3.4"/>
<path d="M135.40,890.00v10M248.57,890.00v10M361.73,890.00v10M474.90,890.00v10M588.07,890.00v10M701.23,890.00v10M814.40,890.00v10M191.98,890.00v6M305.15,890.00v6M418.32,890.00v6M531.48,890.00v6M644.65,890.00v6M757.82,890.00v6" stroke="#000" stroke-width="3.2" fill="none"/>
<path d="M135.40,889.40h-10M135.40,835.16h-10M135.40,780.92h-10M135.40,726.68h-10M135.40,672.44h-10M135.40,862.28h-6M135.40,808.04h-6M135.40,753.80h-6M135.40,699.56h-6" stroke="#000" stroke-width="3.2" fill="none"/>
<text transform="translate(126.58,930.20) scale(0.9,1)" font-size="35" text-anchor="start" fill="#000">0</text>
<text transform="translate(230.93,930.20) scale(0.9,1)" font-size="35" text-anchor="start" fill="#000">30</text>
<text transform="translate(343.94,930.20) scale(0.9,1)" font-size="35" text-anchor="start" fill="#000">60</text>
<text transform="translate(457.10,930.20) scale(0.9,1)" font-size="35" text-anchor="start" fill="#000">90</text>
<text transform="translate(561.13,930.20) scale(0.9,1)" font-size="35" text-anchor="start" fill="#000">120</text>
<text transform="translate(674.30,930.20) scale(0.9,1)" font-size="35" text-anchor="start" fill="#000">150</text>
<text transform="translate(787.47,930.20) scale(0.9,1)" font-size="35" text-anchor="start" fill="#000">180</text>
<text transform="translate(77.61,898.40)" font-size="31.1" text-anchor="start" fill="#000">0.0</text>
<text transform="translate(77.30,844.16)" font-size="31.1" text-anchor="start" fill="#000">0.4</text>
<text transform="translate(77.93,789.92)" font-size="31.1" text-anchor="start" fill="#000">0.8</text>
<text transform="translate(77.93,735.68)" font-size="31.1" text-anchor="start" fill="#000">1.2</text>
<text transform="translate(77.93,681.44)" font-size="31.1" text-anchor="start" fill="#000">1.6</text>
<text transform="translate(29.57,663.50) scale(0.9446,1)" font-size="34" text-anchor="start" fill="#000">(c)</text>
<text transform="translate(54.80,913.00) rotate(-90)" font-size="32" text-anchor="start" fill="#000" textLength="235.6" lengthAdjust="spacingAndGlyphs">Photocurrent (&#956;A)</text>
<text transform="translate(138.27,679.20) scale(1.0048,1)" font-size="30.5" text-anchor="start" fill="#000">84 mwcm</text>
<text transform="translate(268.50,664.00) scale(0.9,1)" font-size="19" text-anchor="start" fill="#000">-2</text>
<text transform="translate(217.67,732.10) scale(0.992,1)" font-size="31" text-anchor="start" fill="#000">39.6</text>
<text transform="translate(290.46,756.50) scale(0.9956,1)" font-size="31" text-anchor="start" fill="#000">29.7</text>
<text transform="translate(378.20,780.80) scale(1.0304,1)" font-size="31" text-anchor="start" fill="#000">20</text>
<text transform="translate(438.81,800.00) scale(0.9642,1)" font-size="31" text-anchor="start" fill="#000">10.5</text>
<text transform="translate(538.23,816.40) scale(1.0215,1)" font-size="31" text-anchor="start" fill="#000">5</text>
<text transform="translate(592.67,839.30) scale(0.9953,1)" font-size="31" text-anchor="start" fill="#000">3.25</text>
<text transform="translate(688.98,852.30) scale(0.7352,1)" font-size="31" text-anchor="start" fill="#000">1</text>
<text transform="translate(740.77,858.90) scale(0.9953,1)" font-size="31" text-anchor="start" fill="#000">0.25</text>
<text transform="translate(625.20,677.00) scale(0.9666,1)" font-size="31.5" text-anchor="start" fill="#000"><tspan font-family="Liberation Serif" font-size="27">&#955;</tspan>=1310 nm</text>
<path d="M568.9,704.2H626.6" stroke="#ff8000" stroke-width="3"/>
<circle cx="597.2" cy="704.2" r="5.2" fill="#ff8000"/><circle cx="596.2" cy="703.2" r="1.4" fill="#ffd8b0"/>
<text transform="translate(639.70,711.90)" font-size="31.5" text-anchor="start" fill="#000" textLength="161.1" lengthAdjust="spacingAndGlyphs">I<tspan font-size="20" dy="12">2</tspan><tspan dy="-12">-PbSe-T30</tspan></text>
<clipPath id="clipc2"><rect x="136.20" y="958.60" width="677.50" height="243.70"/></clipPath>
<path d="M136.2,1158.3L136.5,1158.5L136.9,1158.7L137.2,1158.9L137.6,1159.1L137.9,1159.3L138.2,1159.5L138.6,1159.7L138.9,1159.9L139.2,1160.1L139.6,1160.3L139.9,1160.5L140.3,1160.7L140.6,1160.9L140.9,1161.1L141.3,1161.3L141.6,1161.5L142.0,1161.7L142.3,1161.9L142.6,1162.1L143.0,1162.3L143.3,1162.5L143.7,1162.7L144.0,1162.9L144.3,1163.1L144.7,1163.2L145.0,1163.4L145.3,1163.6L145.7,1163.8L146.0,1164.0L146.4,1164.2L146.7,1164.4L147.0,1164.6L147.4,1164.8L147.7,1165.0L148.1,1165.2L148.4,1165.4L148.7,1165.6L149.1,1165.8L149.4,1166.0L149.8,1166.2L150.1,1166.4L150.4,1166.6L150.8,1166.8L151.1,1167.0L151.4,1167.2L151.8,1167.4L152.1,1167.6L152.5,1167.8L152.8,1168.0L153.1,1168.2L153.5,1168.4L153.8,1168.6L154.2,1168.8L154.5,1169.0L154.8,1169.2L155.2,1169.4L155.5,1169.6L155.8,1169.8L156.2,1170.0L156.5,1170.2L156.9,1170.4L157.2,1170.6L157.5,1170.8L157.9,1171.0L158.2,1171.2L158.6,1171.4L158.9,1171.6L159.2,1171.8L159.6,1172.0L159.9,1172.0L160.3,1172.0L160.6,1172.0L160.9,1134.0L161.3,1107.5L161.6,1088.7L161.9,1075.1L162.3,1065.0L162.6,1057.4L163.0,1051.4L163.3,1046.6L163.6,1042.6L164.0,1039.1L164.3,1036.1L164.7,1033.4L165.0,1030.9L165.3,1028.7L165.7,1026.5L166.0,1024.5L166.3,1022.7L166.7,1020.9L167.0,1019.2L167.4,1017.6L167.7,1016.1L168.0,1014.6L168.4,1013.2L168.7,1011.9L169.1,1010.6L169.4,1009.4L169.7,1008.2L170.1,1007.1L170.4,1006.1L170.8,1005.1L171.1,1004.1L171.4,1003.2L171.8,1002.3L172.1,1001.5L172.4,1000.7L172.8,999.9L173.1,999.1L173.5,998.4L173.8,997.8L174.1,997.1L174.5,996.5L174.8,995.9L175.2,995.4L175.5,994.8L175.8,994.3L176.2,993.8L176.5,993.4L176.8,992.9L177.2,992.5L177.5,992.1L177.9,991.7L178.2,991.3L178.5,991.0L178.9,990.6L179.2,990.3L179.6,990.0L179.9,989.7L180.2,989.4L180.6,989.2L180.9,988.9L181.3,1000.4L181.6,1015.9L181.9,1035.0L182.3,1048.9L182.6,1054.7L182.9,1060.2L183.3,1065.3L183.6,1070.2L184.0,1074.7L184.3,1079.0L184.6,1083.1L185.0,1086.9L185.3,1090.5L185.7,1093.9L186.0,1097.1L186.3,1100.1L186.7,1103.0L187.0,1105.7L187.4,1108.3L187.7,1110.7L188.0,1113.0L188.4,1115.2L188.7,1117.3L189.0,1119.2L189.4,1121.1L189.7,1122.9L190.1,1124.6L190.4,1126.2L190.7,1127.7L191.1,1129.2L191.4,1130.6L191.8,1131.9L192.1,1133.2L192.4,1134.4L192.8,1135.6L193.1,1136.7L193.4,1137.8L193.8,1138.8L194.1,1139.8L194.5,1140.7L194.8,1141.6L195.1,1142.5L195.5,1143.3L195.8,1144.1L196.2,1144.9L196.5,1145.7L196.8,1146.4L197.2,1147.1L197.5,1147.7L197.9,1148.4L198.2,1149.0L198.5,1149.6L198.9,1150.2L199.2,1150.8L199.5,1151.3L199.9,1151.9L200.2,1152.4L200.6,1152.9L200.9,1153.4L201.2,1153.9L201.6,1154.3L201.9,1154.8L202.3,1155.2L202.6,1155.6L202.9,1156.1L203.3,1156.5L203.6,1156.8L204.0,1157.2L204.3,1157.6L204.6,1158.0L205.0,1158.3L205.3,1158.7L205.6,1159.0L206.0,1159.3L206.3,1159.7L206.7,1160.0L207.0,1160.3L207.3,1160.6L207.7,1160.9L208.0,1161.2L208.4,1161.4L208.7,1161.7L209.0,1162.0L209.4,1162.2L209.7,1162.5L210.0,1162.8L210.4,1163.0L210.7,1163.2L211.1,1163.5L211.4,1163.7L211.7,1163.9L212.1,1164.2L212.4,1164.4L212.8,1164.6L213.1,1164.8L213.4,1165.0L213.8,1165.2L214.1,1165.4L214.5,1165.6L214.8,1165.8L215.1,1166.0L215.5,1166.2L215.8,1166.4L216.1,1166.5L216.5,1166.7L216.8,1166.9L217.2,1167.1L217.5,1167.2L217.8,1167.4L218.2,1167.6L218.5,1167.7L218.9,1167.9L219.2,1168.0L219.5,1168.2L219.9,1168.3L220.2,1168.5L220.5,1168.6L220.9,1168.7L221.2,1168.9L221.6,1169.0L221.9,1169.2L222.2,1169.3L222.6,1169.4L222.9,1169.5L223.3,1169.7L223.6,1169.8L223.9,1169.9L224.3,1170.0L224.6,1170.1L225.0,1170.3L225.3,1170.4L225.6,1170.5L226.0,1170.6L226.3,1170.7L226.6,1170.8L227.0,1170.9L227.3,1171.0L227.7,1171.0L228.0,1171.0L228.3,1171.0L228.7,1142.6L229.0,1122.7L229.4,1108.6L229.7,1098.4L230.0,1090.8L230.4,1085.1L230.7,1080.6L231.1,1077.0L231.4,1074.0L231.7,1071.4L232.1,1069.2L232.4,1067.2L232.7,1065.3L233.1,1063.6L233.4,1062.0L233.8,1060.5L234.1,1059.1L234.4,1057.8L234.8,1056.5L235.1,1055.3L235.5,1054.1L235.8,1053.1L236.1,1052.0L236.5,1051.0L236.8,1050.1L237.1,1049.2L237.5,1048.3L237.8,1047.5L238.2,1046.7L238.5,1045.9L238.8,1045.2L239.2,1044.5L239.5,1043.8L239.9,1043.2L240.2,1042.6L240.5,1042.0L240.9,1041.5L241.2,1040.9L241.6,1040.4L241.9,1040.0L242.2,1039.5L242.6,1039.1L242.9,1038.6L243.2,1038.2L243.6,1037.9L243.9,1037.5L244.3,1037.1L244.6,1036.8L244.9,1036.5L245.3,1036.2L245.6,1035.9L246.0,1035.6L246.3,1035.4L246.6,1035.1L247.0,1034.9L247.3,1034.6L247.6,1034.4L248.0,1043.0L248.3,1054.7L248.7,1069.0L249.0,1079.4L249.3,1083.8L249.7,1087.9L250.0,1091.7L250.4,1095.3L250.7,1098.8L251.0,1102.0L251.4,1105.0L251.7,1107.9L252.1,1110.6L252.4,1113.1L252.7,1115.5L253.1,1117.8L253.4,1119.9L253.7,1122.0L254.1,1123.9L254.4,1125.7L254.8,1127.5L255.1,1129.1L255.4,1130.6L255.8,1132.1L256.1,1133.5L256.5,1134.9L256.8,1136.1L257.1,1137.3L257.5,1138.5L257.8,1139.6L258.2,1140.6L258.5,1141.6L258.8,1142.6L259.2,1143.5L259.5,1144.4L259.8,1145.2L260.2,1146.0L260.5,1146.8L260.9,1147.5L261.2,1148.2L261.5,1148.9L261.9,1149.5L262.2,1150.2L262.6,1150.8L262.9,1151.4L263.2,1151.9L263.6,1152.5L263.9,1153.0L264.2,1153.5L264.6,1154.0L264.9,1154.4L265.3,1154.9L265.6,1155.3L265.9,1155.8L266.3,1156.2L266.6,1156.6L267.0,1157.0L267.3,1157.3L267.6,1157.7L268.0,1158.1L268.3,1158.4L268.7,1158.7L269.0,1159.1L269.3,1159.4L269.7,1159.7L270.0,1160.0L270.3,1160.3L270.7,1160.6L271.0,1160.8L271.4,1161.1L271.7,1161.4L272.0,1161.6L272.4,1161.9L272.7,1162.1L273.1,1162.4L273.4,1162.6L273.7,1162.8L274.1,1163.1L274.4,1163.3L274.7,1163.5L275.1,1163.7L275.4,1163.9L275.8,1164.1L276.1,1164.3L276.4,1164.5L276.8,1164.7L277.1,1164.9L277.5,1165.0L277.8,1165.2L278.1,1165.4L278.5,1165.6L278.8,1165.7L279.2,1165.9L279.5,1166.1L279.8,1166.2L280.2,1166.4L280.5,1166.5L280.8,1166.7L281.2,1166.8L281.5,1167.0L281.9,1167.1L282.2,1167.2L282.5,1167.4L282.9,1167.5L283.2,1167.6L283.6,1167.8L283.9,1167.9L284.2,1168.0L284.6,1168.1L284.9,1168.2L285.3,1168.4L285.6,1168.5L285.9,1168.6L286.3,1168.7L286.6,1168.8L286.9,1168.9L287.3,1169.0L287.6,1169.1L288.0,1169.2L288.3,1169.3L288.6,1169.4L289.0,1169.5L289.3,1169.6L289.7,1169.7L290.0,1169.8L290.3,1169.9L290.7,1170.0L291.0,1170.1L291.3,1170.2L291.7,1170.2L292.0,1170.3L292.4,1170.4L292.7,1170.5L293.0,1170.6L293.4,1170.6L293.7,1170.7L294.1,1170.8L294.4,1170.9L294.7,1170.9L295.1,1171.0L295.4,1171.0L295.8,1171.0L296.1,1171.0L296.4,1147.3L296.8,1130.7L297.1,1119.0L297.4,1110.5L297.8,1104.2L298.1,1099.4L298.5,1095.7L298.8,1092.7L299.1,1090.1L299.5,1088.0L299.8,1086.1L300.2,1084.4L300.5,1082.9L300.8,1081.5L301.2,1080.1L301.5,1078.9L301.8,1077.7L302.2,1076.6L302.5,1075.5L302.9,1074.5L303.2,1073.6L303.5,1072.7L303.9,1071.8L304.2,1071.0L304.6,1070.2L304.9,1069.4L305.2,1068.7L305.6,1068.0L305.9,1067.3L306.3,1066.7L306.6,1066.1L306.9,1065.5L307.3,1065.0L307.6,1064.5L307.9,1063.9L308.3,1063.5L308.6,1063.0L309.0,1062.6L309.3,1062.2L309.6,1061.8L310.0,1061.4L310.3,1061.0L310.7,1060.7L311.0,1060.3L311.3,1060.0L311.7,1059.7L312.0,1059.4L312.4,1059.1L312.7,1058.9L313.0,1058.6L313.4,1058.4L313.7,1058.1L314.0,1057.9L314.4,1057.7L314.7,1057.5L315.1,1057.3L315.4,1057.1L315.7,1056.9L316.1,1056.8L316.4,1056.6L316.8,1064.2L317.1,1074.5L317.4,1087.2L317.8,1096.4L318.1,1100.3L318.4,1103.9L318.8,1107.3L319.1,1110.5L319.5,1113.5L319.8,1116.4L320.1,1119.0L320.5,1121.6L320.8,1124.0L321.2,1126.2L321.5,1128.3L321.8,1130.4L322.2,1132.3L322.5,1134.1L322.9,1135.8L323.2,1137.4L323.5,1138.9L323.9,1140.4L324.2,1141.7L324.5,1143.0L324.9,1144.3L325.2,1145.5L325.6,1146.6L325.9,1147.6L326.2,1148.7L326.6,1149.6L326.9,1150.6L327.3,1151.4L327.6,1152.3L327.9,1153.1L328.3,1153.9L328.6,1154.6L328.9,1155.3L329.3,1156.0L329.6,1156.7L330.0,1157.3L330.3,1157.9L330.6,1158.5L331.0,1159.0L331.3,1159.6L331.7,1160.1L332.0,1160.6L332.3,1161.0L332.7,1161.5L333.0,1162.0L333.4,1162.4L333.7,1162.8L334.0,1163.2L334.4,1163.6L334.7,1164.0L335.0,1164.3L335.4,1164.7L335.7,1165.0L336.1,1165.4L336.4,1165.7L336.7,1166.0L337.1,1166.3L337.4,1166.6L337.8,1166.9L338.1,1167.2L338.4,1167.5L338.8,1167.7L339.1,1168.0L339.5,1168.2L339.8,1168.5L340.1,1168.7L340.5,1169.0L340.8,1169.2L341.1,1169.4L341.5,1169.6L341.8,1169.8L342.2,1170.1L342.5,1170.3L342.8,1170.5L343.2,1170.7L343.5,1170.8L343.9,1171.0L344.2,1171.2L344.5,1171.4L344.9,1171.6L345.2,1171.7L345.5,1171.9L345.9,1172.1L346.2,1172.2L346.6,1172.4L346.9,1172.5L347.2,1172.7L347.6,1172.8L347.9,1173.0L348.3,1173.1L348.6,1173.3L348.9,1173.4L349.3,1173.5L349.6,1173.7L350.0,1173.8L350.3,1173.9L350.6,1174.1L351.0,1174.2L351.3,1174.3L351.6,1174.4L352.0,1174.5L352.3,1174.6L352.7,1174.8L353.0,1174.9L353.3,1175.0L353.7,1175.1L354.0,1175.2L354.4,1175.3L354.7,1175.4L355.0,1175.5L355.4,1175.6L355.7,1175.7L356.0,1175.8L356.4,1175.9L356.7,1176.0L357.1,1176.1L357.4,1176.1L357.7,1176.2L358.1,1176.3L358.4,1176.4L358.8,1176.5L359.1,1176.6L359.4,1176.6L359.8,1176.7L360.1,1176.8L360.5,1176.9L360.8,1177.0L361.1,1177.0L361.5,1177.1L361.8,1177.2L362.1,1177.2L362.5,1177.3L362.8,1177.4L363.2,1177.4L363.5,1177.4L363.8,1177.4L364.2,1158.0L364.5,1144.4L364.9,1134.8L365.2,1127.9L365.5,1122.7L365.9,1118.8L366.2,1115.8L366.6,1113.3L366.9,1111.2L367.2,1109.5L367.6,1107.9L367.9,1106.6L368.2,1105.3L368.6,1104.1L368.9,1103.0L369.3,1102.0L369.6,1101.1L369.9,1100.2L370.3,1099.3L370.6,1098.5L371.0,1097.7L371.3,1096.9L371.6,1096.2L372.0,1095.6L372.3,1094.9L372.6,1094.3L373.0,1093.7L373.3,1093.1L373.7,1092.6L374.0,1092.1L374.3,1091.6L374.7,1091.1L375.0,1090.7L375.4,1090.2L375.7,1089.8L376.0,1089.4L376.4,1089.1L376.7,1088.7L377.1,1088.3L377.4,1088.0L377.7,1087.7L378.1,1087.4L378.4,1087.1L378.7,1086.9L379.1,1086.6L379.4,1086.3L379.8,1086.1L380.1,1085.9L380.4,1085.7L380.8,1085.4L381.1,1085.3L381.5,1085.1L381.8,1084.9L382.1,1084.7L382.5,1084.5L382.8,1084.4L383.1,1084.2L383.5,1090.0L383.8,1097.7L384.2,1107.3L384.5,1114.2L384.8,1117.1L385.2,1119.8L385.5,1122.4L385.9,1124.8L386.2,1127.1L386.5,1129.2L386.9,1131.3L387.2,1133.2L387.6,1135.0L387.9,1136.7L388.2,1138.3L388.6,1139.8L388.9,1141.2L389.2,1142.6L389.6,1143.8L389.9,1145.1L390.3,1146.2L390.6,1147.3L390.9,1148.3L391.3,1149.3L391.6,1150.2L392.0,1151.1L392.3,1152.0L392.6,1152.8L393.0,1153.6L393.3,1154.3L393.6,1155.0L394.0,1155.6L394.3,1156.3L394.7,1156.9L395.0,1157.5L395.3,1158.0L395.7,1158.6L396.0,1159.1L396.4,1159.6L396.7,1160.0L397.0,1160.5L397.4,1160.9L397.7,1161.3L398.1,1161.7L398.4,1162.1L398.7,1162.5L399.1,1162.9L399.4,1163.2L399.7,1163.5L400.1,1163.9L400.4,1164.2L400.8,1164.5L401.1,1164.8L401.4,1165.1L401.8,1165.3L402.1,1165.6L402.5,1165.9L402.8,1166.1L403.1,1166.3L403.5,1166.6L403.8,1166.8L404.2,1167.0L404.5,1167.3L404.8,1167.5L405.2,1167.7L405.5,1167.9L405.8,1168.1L406.2,1168.3L406.5,1168.4L406.9,1168.6L407.2,1168.8L407.5,1169.0L407.9,1169.1L408.2,1169.3L408.6,1169.5L408.9,1169.6L409.2,1169.8L409.6,1169.9L409.9,1170.1L410.2,1170.2L410.6,1170.3L410.9,1170.5L411.3,1170.6L411.6,1170.7L411.9,1170.9L412.3,1171.0L412.6,1171.1L413.0,1171.2L413.3,1171.4L413.6,1171.5L414.0,1171.6L414.3,1171.7L414.7,1171.8L415.0,1171.9L415.3,1172.0L415.7,1172.1L416.0,1172.2L416.3,1172.3L416.7,1172.4L417.0,1172.5L417.4,1172.6L417.7,1172.7L418.0,1172.8L418.4,1172.9L418.7,1173.0L419.1,1173.0L419.4,1173.1L419.7,1173.2L420.1,1173.3L420.4,1173.4L420.7,1173.4L421.1,1173.5L421.4,1173.6L421.8,1173.7L422.1,1173.7L422.4,1173.8L422.8,1173.9L423.1,1174.0L423.5,1174.0L423.8,1174.1L424.1,1174.2L424.5,1174.2L424.8,1174.3L425.2,1174.3L425.5,1174.4L425.8,1174.5L426.2,1174.5L426.5,1174.6L426.8,1174.6L427.2,1174.7L427.5,1174.8L427.9,1174.8L428.2,1174.9L428.5,1174.9L428.9,1175.0L429.2,1175.0L429.6,1175.1L429.9,1175.1L430.2,1175.2L430.6,1175.2L430.9,1175.2L431.3,1175.2L431.6,1175.2L431.9,1162.5L432.3,1153.6L432.6,1147.2L432.9,1142.7L433.3,1139.3L433.6,1136.7L434.0,1134.7L434.3,1133.1L434.6,1131.8L435.0,1130.6L435.3,1129.6L435.7,1128.7L436.0,1127.9L436.3,1127.1L436.7,1126.4L437.0,1125.7L437.3,1125.1L437.7,1124.5L438.0,1123.9L438.4,1123.4L438.7,1122.9L439.0,1122.4L439.4,1121.9L439.7,1121.5L440.1,1121.0L440.4,1120.6L440.7,1120.2L441.1,1119.9L441.4,1119.5L441.8,1119.2L442.1,1118.8L442.4,1118.5L442.8,1118.2L443.1,1118.0L443.4,1117.7L443.8,1117.4L444.1,1117.2L444.5,1117.0L444.8,1116.7L445.1,1116.5L445.5,1116.3L445.8,1116.1L446.2,1115.9L446.5,1115.7L446.8,1115.6L447.2,1115.4L447.5,1115.3L447.8,1115.1L448.2,1115.0L448.5,1114.8L448.9,1114.7L449.2,1114.6L449.5,1114.4L449.9,1114.3L450.2,1114.2L450.6,1114.1L450.9,1114.0L451.2,1113.9L451.6,1113.8L451.9,1113.7L452.3,1118.0L452.6,1123.8L452.9,1130.9L453.3,1136.1L453.6,1138.2L453.9,1140.2L454.3,1142.1L454.6,1143.9L455.0,1145.6L455.3,1147.2L455.6,1148.7L456.0,1150.2L456.3,1151.5L456.7,1152.8L457.0,1153.9L457.3,1155.1L457.7,1156.1L458.0,1157.1L458.4,1158.1L458.7,1159.0L459.0,1159.9L459.4,1160.7L459.7,1161.4L460.0,1162.2L460.4,1162.9L460.7,1163.5L461.1,1164.2L461.4,1164.8L461.7,1165.3L462.1,1165.9L462.4,1166.4L462.8,1166.9L463.1,1167.4L463.4,1167.8L463.8,1168.2L464.1,1168.7L464.4,1169.1L464.8,1169.4L465.1,1169.8L465.5,1170.1L465.8,1170.5L466.1,1170.8L466.5,1171.1L466.8,1171.4L467.2,1171.7L467.5,1172.0L467.8,1172.2L468.2,1172.5L468.5,1172.8L468.9,1173.0L469.2,1173.2L469.5,1173.5L469.9,1173.7L470.2,1173.9L470.5,1174.1L470.9,1174.3L471.2,1174.5L471.6,1174.7L471.9,1174.8L472.2,1175.0L472.6,1175.2L472.9,1175.4L473.3,1175.5L473.6,1175.7L473.9,1175.8L474.3,1176.0L474.6,1176.1L474.9,1176.3L475.3,1176.4L475.6,1176.5L476.0,1176.7L476.3,1176.8L476.6,1176.9L477.0,1177.0L477.3,1177.2L477.7,1177.3L478.0,1177.4L478.3,1177.5L478.7,1177.6L479.0,1177.7L479.4,1177.8L479.7,1177.9L480.0,1178.0L480.4,1178.1L480.7,1178.2L481.0,1178.3L481.4,1178.4L481.7,1178.5L482.1,1178.6L482.4,1178.7L482.7,1178.7L483.1,1178.8L483.4,1178.9L483.8,1179.0L484.1,1179.1L484.4,1179.1L484.8,1179.2L485.1,1179.3L485.5,1179.4L485.8,1179.4L486.1,1179.5L486.5,1179.6L486.8,1179.6L487.1,1179.7L487.5,1179.8L487.8,1179.8L488.2,1179.9L488.5,1180.0L488.8,1180.0L489.2,1180.1L489.5,1180.1L489.9,1180.2L490.2,1180.2L490.5,1180.3L490.9,1180.4L491.2,1180.4L491.5,1180.5L491.9,1180.5L492.2,1180.6L492.6,1180.6L492.9,1180.7L493.2,1180.7L493.6,1180.8L493.9,1180.8L494.3,1180.8L494.6,1180.9L494.9,1180.9L495.3,1181.0L495.6,1181.0L496.0,1181.1L496.3,1181.1L496.6,1181.1L497.0,1181.2L497.3,1181.2L497.6,1181.3L498.0,1181.3L498.3,1181.3L498.7,1181.4L499.0,1181.4L499.3,1181.4L499.7,1181.4L500.0,1181.4L500.4,1181.4L500.7,1172.3L501.0,1166.0L501.4,1161.5L501.7,1158.2L502.0,1155.8L502.4,1153.9L502.7,1152.5L503.1,1151.4L503.4,1150.4L503.7,1149.6L504.1,1148.8L504.4,1148.2L504.8,1147.6L505.1,1147.1L505.4,1146.5L505.8,1146.1L506.1,1145.6L506.5,1145.2L506.8,1144.8L507.1,1144.4L507.5,1144.0L507.8,1143.7L508.1,1143.3L508.5,1143.0L508.8,1142.7L509.2,1142.4L509.5,1142.1L509.8,1141.9L510.2,1141.6L510.5,1141.4L510.9,1141.2L511.2,1140.9L511.5,1140.7L511.9,1140.5L512.2,1140.3L512.6,1140.1L512.9,1140.0L513.2,1139.8L513.6,1139.6L513.9,1139.5L514.2,1139.3L514.6,1139.2L514.9,1139.1L515.3,1138.9L515.6,1138.8L515.9,1138.7L516.3,1138.6L516.6,1138.5L517.0,1138.4L517.3,1138.3L517.6,1138.2L518.0,1138.1L518.3,1138.0L518.6,1137.9L519.0,1137.8L519.3,1140.7L519.7,1144.5L520.0,1149.2L520.3,1152.6L520.7,1154.0L521.0,1155.3L521.4,1156.6L521.7,1157.8L522.0,1158.9L522.4,1159.9L522.7,1160.9L523.1,1161.9L523.4,1162.8L523.7,1163.6L524.1,1164.4L524.4,1165.1L524.7,1165.8L525.1,1166.5L525.4,1167.1L525.8,1167.7L526.1,1168.3L526.4,1168.8L526.8,1169.3L527.1,1169.8L527.5,1170.3L527.8,1170.7L528.1,1171.1L528.5,1171.5L528.8,1171.9L529.1,1172.2L529.5,1172.6L529.8,1172.9L530.2,1173.2L530.5,1173.5L530.8,1173.8L531.2,1174.1L531.5,1174.3L531.9,1174.6L532.2,1174.8L532.5,1175.0L532.9,1175.3L533.2,1175.5L533.6,1175.7L533.9,1175.9L534.2,1176.1L534.6,1176.3L534.9,1176.4L535.2,1176.6L535.6,1176.8L535.9,1176.9L536.3,1177.1L536.6,1177.2L536.9,1177.4L537.3,1177.5L537.6,1177.6L538.0,1177.8L538.3,1177.9L538.6,1178.0L539.0,1178.1L539.3,1178.3L539.7,1178.4L540.0,1178.5L540.3,1178.6L540.7,1178.7L541.0,1178.8L541.3,1178.9L541.7,1179.0L542.0,1179.1L542.4,1179.2L542.7,1179.2L543.0,1179.3L543.4,1179.4L543.7,1179.5L544.1,1179.6L544.4,1179.7L544.7,1179.7L545.1,1179.8L545.4,1179.9L545.7,1179.9L546.1,1180.0L546.4,1180.1L546.8,1180.2L547.1,1180.2L547.4,1180.3L547.8,1180.3L548.1,1180.4L548.5,1180.5L548.8,1180.5L549.1,1180.6L549.5,1180.6L549.8,1180.7L550.2,1180.7L550.5,1180.8L550.8,1180.8L551.2,1180.9L551.5,1180.9L551.8,1181.0L552.2,1181.0L552.5,1181.1L552.9,1181.1L553.2,1181.2L553.5,1181.2L553.9,1181.3L554.2,1181.3L554.6,1181.4L554.9,1181.4L555.2,1181.4L555.6,1181.5L555.9,1181.5L556.2,1181.6L556.6,1181.6L556.9,1181.6L557.3,1181.7L557.6,1181.7L557.9,1181.7L558.3,1181.8L558.6,1181.8L559.0,1181.8L559.3,1181.9L559.6,1181.9L560.0,1181.9L560.3,1182.0L560.7,1182.0L561.0,1182.0L561.3,1182.1L561.7,1182.1L562.0,1182.1L562.3,1182.1L562.7,1182.2L563.0,1182.2L563.4,1182.2L563.7,1182.2L564.0,1182.3L564.4,1182.3L564.7,1182.3L565.1,1182.3L565.4,1182.4L565.7,1182.4L566.1,1182.4L566.4,1182.4L566.8,1182.5L567.1,1182.5L567.4,1182.5L567.8,1182.5L568.1,1182.5L568.4,1182.5L568.8,1182.5L569.1,1176.4L569.5,1172.1L569.8,1169.1L570.1,1166.9L570.5,1165.3L570.8,1164.1L571.2,1163.1L571.5,1162.3L571.8,1161.7L572.2,1161.1L572.5,1160.7L572.8,1160.2L573.2,1159.8L573.5,1159.5L573.9,1159.1L574.2,1158.8L574.5,1158.5L574.9,1158.2L575.2,1157.9L575.6,1157.7L575.9,1157.4L576.2,1157.2L576.6,1157.0L576.9,1156.8L577.3,1156.6L577.6,1156.4L577.9,1156.2L578.3,1156.0L578.6,1155.8L578.9,1155.7L579.3,1155.5L579.6,1155.4L580.0,1155.2L580.3,1155.1L580.6,1154.9L581.0,1154.8L581.3,1154.7L581.7,1154.6L582.0,1154.5L582.3,1154.4L582.7,1154.3L583.0,1154.2L583.3,1154.1L583.7,1154.0L584.0,1153.9L584.4,1153.9L584.7,1153.8L585.0,1153.7L585.4,1153.6L585.7,1153.6L586.1,1153.5L586.4,1153.4L586.7,1153.4L587.1,1153.3L587.4,1153.3L587.8,1155.1L588.1,1157.5L588.4,1160.4L588.8,1162.6L589.1,1163.5L589.4,1164.3L589.8,1165.1L590.1,1165.8L590.5,1166.5L590.8,1167.2L591.1,1167.8L591.5,1168.4L591.8,1169.0L592.2,1169.5L592.5,1170.0L592.8,1170.5L593.2,1170.9L593.5,1171.3L593.9,1171.7L594.2,1172.1L594.5,1172.5L594.9,1172.8L595.2,1173.1L595.5,1173.4L595.9,1173.7L596.2,1174.0L596.6,1174.2L596.9,1174.5L597.2,1174.7L597.6,1175.0L597.9,1175.2L598.3,1175.4L598.6,1175.6L598.9,1175.8L599.3,1175.9L599.6,1176.1L599.9,1176.3L600.3,1176.4L600.6,1176.6L601.0,1176.7L601.3,1176.9L601.6,1177.0L602.0,1177.1L602.3,1177.3L602.7,1177.4L603.0,1177.5L603.3,1177.6L603.7,1177.7L604.0,1177.8L604.4,1177.9L604.7,1178.0L605.0,1178.1L605.4,1178.2L605.7,1178.3L606.0,1178.4L606.4,1178.4L606.7,1178.5L607.1,1178.6L607.4,1178.7L607.7,1178.7L608.1,1178.8L608.4,1178.9L608.8,1179.0L609.1,1179.0L609.4,1179.1L609.8,1179.1L610.1,1179.2L610.4,1179.3L610.8,1179.3L611.1,1179.4L611.5,1179.4L611.8,1179.5L612.1,1179.5L612.5,1179.6L612.8,1179.6L613.2,1179.7L613.5,1179.7L613.8,1179.8L614.2,1179.8L614.5,1179.9L614.9,1179.9L615.2,1179.9L615.5,1180.0L615.9,1180.0L616.2,1180.1L616.5,1180.1L616.9,1180.1L617.2,1180.2L617.6,1180.2L617.9,1180.2L618.2,1180.3L618.6,1180.3L618.9,1180.3L619.3,1180.4L619.6,1180.4L619.9,1180.4L620.3,1180.5L620.6,1180.5L621.0,1180.5L621.3,1180.6L621.6,1180.6L622.0,1180.6L622.3,1180.6L622.6,1180.7L623.0,1180.7L623.3,1180.7L623.7,1180.7L624.0,1180.8L624.3,1180.8L624.7,1180.8L625.0,1180.8L625.4,1180.9L625.7,1180.9L626.0,1180.9L626.4,1180.9L626.7,1181.0L627.0,1181.0L627.4,1181.0L627.7,1181.0L628.1,1181.0L628.4,1181.1L628.7,1181.1L629.1,1181.1L629.4,1181.1L629.8,1181.1L630.1,1181.2L630.4,1181.2L630.8,1181.2L631.1,1181.2L631.5,1181.2L631.8,1181.2L632.1,1181.3L632.5,1181.3L632.8,1181.3L633.1,1181.3L633.5,1181.3L633.8,1181.3L634.2,1181.3L634.5,1181.4L634.8,1181.4L635.2,1181.4L635.5,1181.4L635.9,1181.4L636.2,1181.4L636.5,1181.4L636.9,1181.4L637.2,1181.4L637.5,1181.4L637.9,1176.4L638.2,1172.9L638.6,1170.4L638.9,1168.6L639.2,1167.3L639.6,1166.3L639.9,1165.5L640.3,1164.9L640.6,1164.3L640.9,1163.9L641.3,1163.5L641.6,1163.1L642.0,1162.8L642.3,1162.5L642.6,1162.2L643.0,1162.0L643.3,1161.7L643.6,1161.5L644.0,1161.3L644.3,1161.0L644.7,1160.8L645.0,1160.6L645.3,1160.5L645.7,1160.3L646.0,1160.1L646.4,1160.0L646.7,1159.8L647.0,1159.7L647.4,1159.5L647.7,1159.4L648.1,1159.3L648.4,1159.1L648.7,1159.0L649.1,1158.9L649.4,1158.8L649.7,1158.7L650.1,1158.6L650.4,1158.5L650.8,1158.4L651.1,1158.3L651.4,1158.3L651.8,1158.2L652.1,1158.1L652.5,1158.0L652.8,1158.0L653.1,1157.9L653.5,1157.8L653.8,1157.8L654.1,1157.7L654.5,1157.7L654.8,1157.6L655.2,1159.3L655.5,1161.5L655.8,1164.2L656.2,1166.2L656.5,1167.0L656.9,1167.8L657.2,1168.5L657.5,1169.2L657.9,1169.9L658.2,1170.5L658.6,1171.0L658.9,1171.6L659.2,1172.1L659.6,1172.6L659.9,1173.0L660.2,1173.5L660.6,1173.9L660.9,1174.3L661.3,1174.6L661.6,1175.0L661.9,1175.3L662.3,1175.6L662.6,1175.9L663.0,1176.2L663.3,1176.5L663.6,1176.7L664.0,1177.0L664.3,1177.2L664.6,1177.4L665.0,1177.6L665.3,1177.8L665.7,1178.0L666.0,1178.2L666.3,1178.3L666.7,1178.5L667.0,1178.7L667.4,1178.8L667.7,1179.0L668.0,1179.1L668.4,1179.2L668.7,1179.4L669.1,1179.5L669.4,1179.6L669.7,1179.7L670.1,1179.8L670.4,1179.9L670.7,1180.0L671.1,1180.1L671.4,1180.2L671.8,1180.3L672.1,1180.4L672.4,1180.5L672.8,1180.6L673.1,1180.7L673.5,1180.7L673.8,1180.8L674.1,1180.9L674.5,1181.0L674.8,1181.0L675.2,1181.1L675.5,1181.2L675.8,1181.2L676.2,1181.3L676.5,1181.3L676.8,1181.4L677.2,1181.5L677.5,1181.5L677.9,1181.6L678.2,1181.6L678.5,1181.7L678.9,1181.7L679.2,1181.8L679.6,1181.8L679.9,1181.9L680.2,1181.9L680.6,1181.9L680.9,1182.0L681.2,1182.0L681.6,1182.1L681.9,1182.1L682.3,1182.1L682.6,1182.2L682.9,1182.2L683.3,1182.3L683.6,1182.3L684.0,1182.3L684.3,1182.4L684.6,1182.4L685.0,1182.4L685.3,1182.5L685.7,1182.5L686.0,1182.5L686.3,1182.6L686.7,1182.6L687.0,1182.6L687.3,1182.6L687.7,1182.7L688.0,1182.7L688.4,1182.7L688.7,1182.7L689.0,1182.8L689.4,1182.8L689.7,1182.8L690.1,1182.8L690.4,1182.9L690.7,1182.9L691.1,1182.9L691.4,1182.9L691.7,1183.0L692.1,1183.0L692.4,1183.0L692.8,1183.0L693.1,1183.0L693.4,1183.1L693.8,1183.1L694.1,1183.1L694.5,1183.1L694.8,1183.1L695.1,1183.2L695.5,1183.2L695.8,1183.2L696.2,1183.2L696.5,1183.2L696.8,1183.2L697.2,1183.3L697.5,1183.3L697.8,1183.3L698.2,1183.3L698.5,1183.3L698.9,1183.3L699.2,1183.4L699.5,1183.4L699.9,1183.4L700.2,1183.4L700.6,1183.4L700.9,1183.4L701.2,1183.4L701.6,1183.5L701.9,1183.5L702.3,1183.5L702.6,1183.5L702.9,1183.5L703.3,1183.5L703.6,1183.5L703.9,1183.5L704.3,1183.6L704.6,1183.6L705.0,1183.6L705.3,1183.6L705.6,1183.6L706.0,1183.6L706.3,1183.6L706.7,1183.6L707.0,1183.6L707.3,1181.3L707.7,1179.6L708.0,1178.5L708.3,1177.7L708.7,1177.0L709.0,1176.6L709.4,1176.2L709.7,1175.9L710.0,1175.7L710.4,1175.4L710.7,1175.3L711.1,1175.1L711.4,1174.9L711.7,1174.8L712.1,1174.7L712.4,1174.5L712.8,1174.4L713.1,1174.3L713.4,1174.2L713.8,1174.1L714.1,1174.0L714.4,1173.9L714.8,1173.8L715.1,1173.8L715.5,1173.7L715.8,1173.6L716.1,1173.5L716.5,1173.5L716.8,1173.4L717.2,1173.3L717.5,1173.3L717.8,1173.2L718.2,1173.2L718.5,1173.1L718.8,1173.1L719.2,1173.0L719.5,1173.0L719.9,1172.9L720.2,1172.9L720.5,1172.9L720.9,1172.8L721.2,1172.8L721.6,1173.9L721.9,1175.4L722.2,1177.2L722.6,1178.5L722.9,1179.0L723.3,1179.6L723.6,1180.1L723.9,1180.5L724.3,1180.9L724.6,1181.4L724.9,1181.7L725.3,1182.1L725.6,1182.4L726.0,1182.8L726.3,1183.1L726.6,1183.4L727.0,1183.6L727.3,1183.9L727.7,1184.1L728.0,1184.4L728.3,1184.6L728.7,1184.8L729.0,1185.0L729.4,1185.2L729.7,1185.3L730.0,1185.5L730.4,1185.7L730.7,1185.8L731.0,1186.0L731.4,1186.1L731.7,1186.2L732.1,1186.4L732.4,1186.5L732.7,1186.6L733.1,1186.7L733.4,1186.8L733.8,1186.9L734.1,1187.0L734.4,1187.1L734.8,1187.2L735.1,1187.3L735.4,1187.4L735.8,1187.4L736.1,1187.5L736.5,1187.6L736.8,1187.7L737.1,1187.7L737.5,1187.8L737.8,1187.9L738.2,1187.9L738.5,1188.0L738.8,1188.0L739.2,1188.1L739.5,1188.2L739.9,1188.2L740.2,1188.3L740.5,1188.3L740.9,1188.4L741.2,1188.4L741.5,1188.4L741.9,1188.5L742.2,1188.5L742.6,1188.6L742.9,1188.6L743.2,1188.6L743.6,1188.7L743.9,1188.7L744.3,1188.8L744.6,1188.8L744.9,1188.8L745.3,1188.9L745.6,1188.9L745.9,1188.9L746.3,1189.0L746.6,1189.0L747.0,1189.0L747.3,1189.0L747.6,1189.1L748.0,1189.1L748.3,1189.1L748.7,1189.1L749.0,1189.2L749.3,1189.2L749.7,1189.2L750.0,1189.2L750.4,1189.3L750.7,1189.3L751.0,1189.3L751.4,1189.3L751.7,1189.4L752.0,1189.4L752.4,1189.4L752.7,1189.4L753.1,1189.4L753.4,1189.5L753.7,1189.5L754.1,1189.5L754.4,1189.5L754.8,1189.5L755.1,1189.6L755.4,1189.6L755.8,1189.6L756.1,1189.6L756.5,1189.6L756.8,1189.6L757.1,1189.6L757.5,1189.7L757.8,1189.7L758.1,1189.7L758.5,1189.7L758.8,1189.7L759.2,1189.7L759.5,1189.8L759.8,1189.8L760.2,1189.8L760.5,1189.8L760.9,1189.8L761.2,1189.8L761.5,1189.8L761.9,1189.8L762.2,1189.9L762.5,1189.9L762.9,1189.9L763.2,1189.9L763.6,1189.9L763.9,1189.9L764.2,1189.9L764.6,1189.9L764.9,1189.9L765.3,1190.0L765.6,1190.0L765.9,1190.0L766.3,1190.0L766.6,1190.0L767.0,1190.0L767.3,1190.0L767.6,1190.0L768.0,1190.0L768.3,1190.0L768.6,1190.0L769.0,1190.1L769.3,1190.1L769.7,1190.1L770.0,1190.1L770.3,1190.1L770.7,1190.1L771.0,1190.1L771.4,1190.1L771.7,1190.1L772.0,1190.1L772.4,1190.1L772.7,1188.2L773.0,1186.9L773.4,1186.0L773.7,1185.3L774.1,1184.8L774.4,1184.5L774.7,1184.2L775.1,1183.9L775.4,1183.7L775.8,1183.6L776.1,1183.4L776.4,1183.3L776.8,1183.2L777.1,1183.1L777.5,1183.0L777.8,1182.9L778.1,1182.8L778.5,1182.7L778.8,1182.6L779.1,1182.5L779.5,1182.4L779.8,1182.4L780.2,1182.3L780.5,1182.2L780.8,1182.2L781.2,1182.1L781.5,1182.1L781.9,1182.0L782.2,1181.9L782.5,1181.9L782.9,1181.9L783.2,1181.8L783.6,1181.8L783.9,1181.7L784.2,1181.7L784.6,1181.6L784.9,1181.6L785.2,1181.6L785.6,1181.5L785.9,1181.5L786.3,1181.5L786.6,1181.4L786.9,1182.3L787.3,1183.4L787.6,1184.8L788.0,1185.8L788.3,1186.2L788.6,1186.6L789.0,1187.0L789.3,1187.3L789.6,1187.7L790.0,1188.0L790.3,1188.3L790.7,1188.5L791.0,1188.8L791.3,1189.1L791.7,1189.3L792.0,1189.5L792.4,1189.7L792.7,1189.9L793.0,1190.1L793.4,1190.3L793.7,1190.5L794.1,1190.7L794.4,1190.8L794.7,1191.0L795.1,1191.1L795.4,1191.2L795.7,1191.4L796.1,1191.5L796.4,1191.6L796.8,1191.7L797.1,1191.8L797.4,1191.9L797.8,1192.0L798.1,1192.1L798.5,1192.2L798.8,1192.3L799.1,1192.4L799.5,1192.5L799.8,1192.6L800.1,1192.6L800.5,1192.7L800.8,1192.8L801.2,1192.8L801.5,1192.9L801.8,1193.0L802.2,1193.0L802.5,1193.1L802.9,1193.2L803.2,1193.2L803.5,1193.3L803.9,1193.3L804.2,1193.4L804.6,1193.4L804.9,1193.5L805.2,1193.5L805.6,1193.6L805.9,1193.6L806.2,1193.7L806.6,1193.7L806.9,1193.8L807.3,1193.8L807.6,1193.8L807.9,1193.9L808.3,1193.9L808.6,1194.0L809.0,1194.0L809.3,1194.0L809.6,1194.1L810.0,1194.1L810.3,1194.1L810.7,1194.2L811.0,1194.2L811.3,1194.2L811.7,1194.3L812.0,1194.3L812.3,1194.3L812.7,1194.4L813.0,1194.4L813.4,1194.4L813.7,1194.4" fill="none" stroke="#008000" stroke-width="10" stroke-linejoin="round" stroke-linecap="round" clip-path="url(#clipc2)"/>
<circle cx="160.9" cy="1134.0" r="5.6" fill="#008000"/>
<circle cx="160.6" cy="1172.0" r="5.6" fill="#008000"/>
<circle cx="161.3" cy="1107.5" r="5.6" fill="#008000"/>
<circle cx="161.6" cy="1088.7" r="5.6" fill="#008000"/>
<circle cx="161.9" cy="1075.1" r="5.6" fill="#008000"/>
<circle cx="162.3" cy="1065.0" r="5.6" fill="#008000"/>
<circle cx="162.6" cy="1057.4" r="5.6" fill="#008000"/>
<circle cx="163.0" cy="1051.4" r="5.6" fill="#008000"/>
<circle cx="181.3" cy="1000.4" r="5.6" fill="#008000"/>
<circle cx="180.9" cy="988.9" r="5.6" fill="#008000"/>
<circle cx="181.6" cy="1015.9" r="5.6" fill="#008000"/>
<circle cx="181.9" cy="1035.0" r="5.6" fill="#008000"/>
<circle cx="182.3" cy="1048.9" r="5.6" fill="#008000"/>
<circle cx="182.6" cy="1054.7" r="5.6" fill="#008000"/>
<circle cx="182.9" cy="1060.2" r="5.6" fill="#008000"/>
<circle cx="183.3" cy="1065.3" r="5.6" fill="#008000"/>
<circle cx="228.7" cy="1142.6" r="5.6" fill="#008000"/>
<circle cx="228.3" cy="1171.0" r="5.6" fill="#008000"/>
<circle cx="229.0" cy="1122.7" r="5.6" fill="#008000"/>
<circle cx="229.4" cy="1108.6" r="5.6" fill="#008000"/>
<circle cx="229.7" cy="1098.4" r="5.6" fill="#008000"/>
<circle cx="230.0" cy="1090.8" r="5.6" fill="#008000"/>
<circle cx="230.4" cy="1085.1" r="5.6" fill="#008000"/>
<circle cx="248.0" cy="1043.0" r="5.6" fill="#008000"/>
<circle cx="247.6" cy="1034.4" r="5.6" fill="#008000"/>
<circle cx="248.3" cy="1054.7" r="5.6" fill="#008000"/>
<circle cx="248.7" cy="1069.0" r="5.6" fill="#008000"/>
<circle cx="249.0" cy="1079.4" r="5.6" fill="#008000"/>
<circle cx="296.4" cy="1147.3" r="5.6" fill="#008000"/>
<circle cx="296.1" cy="1171.0" r="5.6" fill="#008000"/>
<circle cx="296.8" cy="1130.7" r="5.6" fill="#008000"/>
<circle cx="297.1" cy="1119.0" r="5.6" fill="#008000"/>
<circle cx="297.4" cy="1110.5" r="5.6" fill="#008000"/>
<circle cx="297.8" cy="1104.2" r="5.6" fill="#008000"/>
<circle cx="316.8" cy="1064.2" r="5.6" fill="#008000"/>
<circle cx="316.4" cy="1056.6" r="5.6" fill="#008000"/>
<circle cx="317.1" cy="1074.5" r="5.6" fill="#008000"/>
<circle cx="317.4" cy="1087.2" r="5.6" fill="#008000"/>
<circle cx="317.8" cy="1096.4" r="5.6" fill="#008000"/>
<circle cx="364.2" cy="1158.0" r="5.6" fill="#008000"/>
<circle cx="363.8" cy="1177.4" r="5.6" fill="#008000"/>
<circle cx="364.5" cy="1144.4" r="5.6" fill="#008000"/>
<circle cx="364.9" cy="1134.8" r="5.6" fill="#008000"/>
<circle cx="365.2" cy="1127.9" r="5.6" fill="#008000"/>
<circle cx="365.5" cy="1122.7" r="5.6" fill="#008000"/>
<circle cx="383.5" cy="1090.0" r="5.6" fill="#008000"/>
<circle cx="383.1" cy="1084.2" r="5.6" fill="#008000"/>
<circle cx="383.8" cy="1097.7" r="5.6" fill="#008000"/>
<circle cx="384.2" cy="1107.3" r="5.6" fill="#008000"/>
<circle cx="384.5" cy="1114.2" r="5.6" fill="#008000"/>
<circle cx="431.9" cy="1162.5" r="5.6" fill="#008000"/>
<circle cx="431.6" cy="1175.2" r="5.6" fill="#008000"/>
<circle cx="432.3" cy="1153.6" r="5.6" fill="#008000"/>
<circle cx="432.6" cy="1147.2" r="5.6" fill="#008000"/>
<circle cx="452.6" cy="1123.8" r="5.6" fill="#008000"/>
<circle cx="452.3" cy="1118.0" r="5.6" fill="#008000"/>
<circle cx="452.9" cy="1130.9" r="5.6" fill="#008000"/>
<circle cx="453.3" cy="1136.1" r="5.6" fill="#008000"/>
<circle cx="500.7" cy="1172.3" r="5.6" fill="#008000"/>
<circle cx="500.4" cy="1181.4" r="5.6" fill="#008000"/>
<circle cx="501.0" cy="1166.0" r="5.6" fill="#008000"/>
<circle cx="569.1" cy="1176.4" r="5.6" fill="#008000"/>
<circle cx="568.8" cy="1182.5" r="5.6" fill="#008000"/>
<circle cx="637.9" cy="1176.4" r="5.6" fill="#008000"/>
<circle cx="637.5" cy="1181.4" r="5.6" fill="#008000"/>
<rect x="136.20" y="958.60" width="677.50" height="243.70" fill="none" stroke="#000" stroke-width="3.4"/>
<path d="M136.20,1202.30v10M271.70,1202.30v10M407.20,1202.30v10M542.70,1202.30v10M678.20,1202.30v10M813.70,1202.30v10M203.95,1202.30v6M339.45,1202.30v6M474.95,1202.30v6M610.45,1202.30v6M745.95,1202.30v6" stroke="#000" stroke-width="3.2" fill="none"/>
<path d="M136.20,1202.30h-10M136.20,1148.14h-10M136.20,1093.98h-10M136.20,1039.82h-10M136.20,985.66h-10M136.20,1175.22h-6M136.20,1121.06h-6M136.20,1066.90h-6M136.20,1012.74h-6" stroke="#000" stroke-width="3.2" fill="none"/>
<text transform="translate(127.38,1243.00) scale(0.9,1)" font-size="35" text-anchor="start" fill="#000">0</text>
<text transform="translate(254.38,1243.00) scale(0.9,1)" font-size="35" text-anchor="start" fill="#000">40</text>
<text transform="translate(389.56,1243.00) scale(0.9,1)" font-size="35" text-anchor="start" fill="#000">80</text>
<text transform="translate(515.77,1243.00) scale(0.9,1)" font-size="35" text-anchor="start" fill="#000">120</text>
<text transform="translate(651.27,1243.00) scale(0.9,1)" font-size="35" text-anchor="start" fill="#000">160</text>
<text transform="translate(787.24,1243.00) scale(0.9,1)" font-size="35" text-anchor="start" fill="#000">200</text>
<text transform="translate(75.97,1210.30)" font-size="31.5" text-anchor="start" fill="#000">0.0</text>
<text transform="translate(76.29,1156.14)" font-size="31.5" text-anchor="start" fill="#000">0.2</text>
<text transform="translate(75.66,1101.98)" font-size="31.5" text-anchor="start" fill="#000">0.4</text>
<text transform="translate(76.29,1047.82)" font-size="31.5" text-anchor="start" fill="#000">0.6</text>
<text transform="translate(76.29,993.66)" font-size="31.5" text-anchor="start" fill="#000">0.8</text>
<text transform="translate(54.50,1197.80) rotate(-90)" font-size="32" text-anchor="start" fill="#000" textLength="236.3" lengthAdjust="spacingAndGlyphs">Photocurrent (&#956;A)</text>
<text transform="translate(418.09,1270.80) scale(0.9468,1)" font-size="32.4" text-anchor="start" fill="#000">Time (s)</text>
<text transform="translate(145.36,993.10) scale(1.0072,1)" font-size="30.5" text-anchor="start" fill="#000">69 mwcm</text>
<text transform="translate(276.00,978.00) scale(0.9,1)" font-size="19" text-anchor="start" fill="#000">-2</text>
<text transform="translate(220.38,1027.00) scale(0.9951,1)" font-size="31" text-anchor="start" fill="#000">49.5</text>
<text transform="translate(289.33,1048.20) scale(0.9248,1)" font-size="31" text-anchor="start" fill="#000">40.1</text>
<text transform="translate(351.86,1076.70) scale(0.9956,1)" font-size="31" text-anchor="start" fill="#000">29.8</text>
<text transform="translate(420.69,1102.20) scale(0.9764,1)" font-size="31" text-anchor="start" fill="#000">20.5</text>
<text transform="translate(484.76,1129.20) scale(0.9855,1)" font-size="31" text-anchor="start" fill="#000">10.3</text>
<text transform="translate(562.88,1141.20) scale(0.9826,1)" font-size="31" text-anchor="start" fill="#000">5.2</text>
<text transform="translate(626.85,1148.80) scale(1.0096,1)" font-size="31" text-anchor="start" fill="#000">3.5</text>
<text transform="translate(695.02,1160.80) scale(0.9602,1)" font-size="31" text-anchor="start" fill="#000">1.4</text>
<text transform="translate(762.56,1166.20)" font-size="31" text-anchor="start" fill="#000">0.2</text>
<text transform="translate(627.40,990.90) scale(0.9666,1)" font-size="31.5" text-anchor="start" fill="#000"><tspan font-family="Liberation Serif" font-size="27">&#955;</tspan>=1550 nm</text>
<path d="M574.3,1020.3H631" stroke="#008000" stroke-width="3"/>
<circle cx="602.6" cy="1020.3" r="5.2" fill="#008000"/><circle cx="601.6" cy="1019.3" r="1.4" fill="#b0e8b0"/>
<text transform="translate(645.10,1028.00)" font-size="31.5" text-anchor="start" fill="#000" textLength="161.2" lengthAdjust="spacingAndGlyphs">I<tspan font-size="20" dy="12">2</tspan><tspan dy="-12">-PbSe-T30</tspan></text>
<clipPath id="clipd1"><rect x="935.50" y="642.20" width="679.00" height="244.30"/></clipPath>
<rect x="1145.1" y="642.2" width="313.2" height="244.3" fill="#c0fcd8"/>
<g clip-path="url(#clipd1)">
<path d="M937.9,851.8L945.5,852.6L953.0,853.3L960.5,853.9L968.1,854.2L975.6,854.4L983.2,854.4L990.7,854.4L998.3,854.3L1005.8,854.5L1013.4,854.7L1020.9,855.2L1028.4,855.9L1036.0,856.7L1043.5,857.5L1051.1,858.4L1058.6,859.1L1066.2,859.6L1073.7,859.9L1081.3,860.1L1088.8,860.1L1096.3,860.1L1103.9,860.1L1111.4,860.2L1119.0,860.5L1126.5,861.0L1134.1,861.6L1141.6,842.4L1149.2,815.3L1156.7,799.8L1164.2,788.0L1171.8,780.4L1179.3,773.6L1186.9,767.3L1194.4,761.5L1202.0,756.2L1209.5,751.4L1217.1,747.0L1224.6,742.9L1232.1,739.1L1239.7,735.6L1247.2,732.4L1254.8,729.4L1262.3,726.6L1269.9,724.0L1277.4,721.6L1285.0,719.4L1292.5,717.2L1300.0,715.3L1307.6,713.4L1315.1,711.7L1322.7,710.1L1330.2,708.5L1337.8,707.1L1345.3,705.7L1352.9,704.5L1360.4,703.2L1367.9,702.1L1375.5,701.0L1383.0,700.0L1390.6,699.0L1398.1,698.1L1405.7,697.2L1413.2,696.3L1420.8,695.5L1428.3,694.8L1435.8,694.1L1443.4,693.4L1450.9,692.7L1458.5,692.1L1466.0,691.5L1473.6,690.9L1481.1,690.4L1488.7,689.9L1496.2,689.4L1503.7,688.9L1511.3,688.4L1518.8,688.0L1526.4,687.6L1533.9,687.2L1541.5,686.8L1549.0,686.4L1556.6,686.1L1564.1,685.7L1571.6,685.4L1579.2,685.1L1586.7,684.8L1594.3,684.5L1601.8,684.3L1609.4,684.0" fill="none" stroke="#ff00ff" stroke-width="2.5"/>
<g fill="#ff00ff"><circle cx="937.9" cy="851.8" r="7.3"/><circle cx="945.5" cy="852.6" r="7.3"/><circle cx="953.0" cy="853.3" r="7.3"/><circle cx="960.5" cy="853.9" r="7.3"/><circle cx="968.1" cy="854.2" r="7.3"/><circle cx="975.6" cy="854.4" r="7.3"/><circle cx="983.2" cy="854.4" r="7.3"/><circle cx="990.7" cy="854.4" r="7.3"/><circle cx="998.3" cy="854.3" r="7.3"/><circle cx="1005.8" cy="854.5" r="7.3"/><circle cx="1013.4" cy="854.7" r="7.3"/><circle cx="1020.9" cy="855.2" r="7.3"/><circle cx="1028.4" cy="855.9" r="7.3"/><circle cx="1036.0" cy="856.7" r="7.3"/><circle cx="1043.5" cy="857.5" r="7.3"/><circle cx="1051.1" cy="858.4" r="7.3"/><circle cx="1058.6" cy="859.1" r="7.3"/><circle cx="1066.2" cy="859.6" r="7.3"/><circle cx="1073.7" cy="859.9" r="7.3"/><circle cx="1081.3" cy="860.1" r="7.3"/><circle cx="1088.8" cy="860.1" r="7.3"/><circle cx="1096.3" cy="860.1" r="7.3"/><circle cx="1103.9" cy="860.1" r="7.3"/><circle cx="1111.4" cy="860.2" r="7.3"/><circle cx="1119.0" cy="860.5" r="7.3"/><circle cx="1126.5" cy="861.0" r="7.3"/><circle cx="1134.1" cy="861.6" r="7.3"/><circle cx="1141.6" cy="842.4" r="7.3"/><circle cx="1149.2" cy="815.3" r="7.3"/><circle cx="1156.7" cy="799.8" r="7.3"/><circle cx="1164.2" cy="788.0" r="7.3"/><circle cx="1171.8" cy="780.4" r="7.3"/><circle cx="1179.3" cy="773.6" r="7.3"/><circle cx="1186.9" cy="767.3" r="7.3"/><circle cx="1194.4" cy="761.5" r="7.3"/><circle cx="1202.0" cy="756.2" r="7.3"/><circle cx="1209.5" cy="751.4" r="7.3"/><circle cx="1217.1" cy="747.0" r="7.3"/><circle cx="1224.6" cy="742.9" r="7.3"/><circle cx="1232.1" cy="739.1" r="7.3"/><circle cx="1239.7" cy="735.6" r="7.3"/><circle cx="1247.2" cy="732.4" r="7.3"/><circle cx="1254.8" cy="729.4" r="7.3"/><circle cx="1262.3" cy="726.6" r="7.3"/><circle cx="1269.9" cy="724.0" r="7.3"/><circle cx="1277.4" cy="721.6" r="7.3"/><circle cx="1285.0" cy="719.4" r="7.3"/><circle cx="1292.5" cy="717.2" r="7.3"/><circle cx="1300.0" cy="715.3" r="7.3"/><circle cx="1307.6" cy="713.4" r="7.3"/><circle cx="1315.1" cy="711.7" r="7.3"/><circle cx="1322.7" cy="710.1" r="7.3"/><circle cx="1330.2" cy="708.5" r="7.3"/><circle cx="1337.8" cy="707.1" r="7.3"/><circle cx="1345.3" cy="705.7" r="7.3"/><circle cx="1352.9" cy="704.5" r="7.3"/><circle cx="1360.4" cy="703.2" r="7.3"/><circle cx="1367.9" cy="702.1" r="7.3"/><circle cx="1375.5" cy="701.0" r="7.3"/><circle cx="1383.0" cy="700.0" r="7.3"/><circle cx="1390.6" cy="699.0" r="7.3"/><circle cx="1398.1" cy="698.1" r="7.3"/><circle cx="1405.7" cy="697.2" r="7.3"/><circle cx="1413.2" cy="696.3" r="7.3"/><circle cx="1420.8" cy="695.5" r="7.3"/><circle cx="1428.3" cy="694.8" r="7.3"/><circle cx="1435.8" cy="694.1" r="7.3"/><circle cx="1443.4" cy="693.4" r="7.3"/><circle cx="1450.9" cy="692.7" r="7.3"/><circle cx="1458.5" cy="692.1" r="7.3"/><circle cx="1466.0" cy="691.5" r="7.3"/><circle cx="1473.6" cy="690.9" r="7.3"/><circle cx="1481.1" cy="690.4" r="7.3"/><circle cx="1488.7" cy="689.9" r="7.3"/><circle cx="1496.2" cy="689.4" r="7.3"/><circle cx="1503.7" cy="688.9" r="7.3"/><circle cx="1511.3" cy="688.4" r="7.3"/><circle cx="1518.8" cy="688.0" r="7.3"/><circle cx="1526.4" cy="687.6" r="7.3"/><circle cx="1533.9" cy="687.2" r="7.3"/><circle cx="1541.5" cy="686.8" r="7.3"/><circle cx="1549.0" cy="686.4" r="7.3"/><circle cx="1556.6" cy="686.1" r="7.3"/><circle cx="1564.1" cy="685.7" r="7.3"/><circle cx="1571.6" cy="685.4" r="7.3"/><circle cx="1579.2" cy="685.1" r="7.3"/><circle cx="1586.7" cy="684.8" r="7.3"/><circle cx="1594.3" cy="684.5" r="7.3"/><circle cx="1601.8" cy="684.3" r="7.3"/><circle cx="1609.4" cy="684.0" r="7.3"/></g>
<g fill="#ffc8ff"><circle cx="936.3" cy="849.8" r="1.7"/><circle cx="943.9" cy="850.6" r="1.7"/><circle cx="951.4" cy="851.3" r="1.7"/><circle cx="958.9" cy="851.9" r="1.7"/><circle cx="966.5" cy="852.2" r="1.7"/><circle cx="974.0" cy="852.4" r="1.7"/><circle cx="981.6" cy="852.4" r="1.7"/><circle cx="989.1" cy="852.4" r="1.7"/><circle cx="996.7" cy="852.3" r="1.7"/><circle cx="1004.2" cy="852.5" r="1.7"/><circle cx="1011.8" cy="852.7" r="1.7"/><circle cx="1019.3" cy="853.2" r="1.7"/><circle cx="1026.8" cy="853.9" r="1.7"/><circle cx="1034.4" cy="854.7" r="1.7"/><circle cx="1041.9" cy="855.5" r="1.7"/><circle cx="1049.5" cy="856.4" r="1.7"/><circle cx="1057.0" cy="857.1" r="1.7"/><circle cx="1064.6" cy="857.6" r="1.7"/><circle cx="1072.1" cy="857.9" r="1.7"/><circle cx="1079.7" cy="858.1" r="1.7"/><circle cx="1087.2" cy="858.1" r="1.7"/><circle cx="1094.7" cy="858.1" r="1.7"/><circle cx="1102.3" cy="858.1" r="1.7"/><circle cx="1109.8" cy="858.2" r="1.7"/><circle cx="1117.4" cy="858.5" r="1.7"/><circle cx="1124.9" cy="859.0" r="1.7"/><circle cx="1132.5" cy="859.6" r="1.7"/><circle cx="1140.0" cy="840.4" r="1.7"/><circle cx="1147.6" cy="813.3" r="1.7"/><circle cx="1155.1" cy="797.8" r="1.7"/><circle cx="1162.6" cy="786.0" r="1.7"/><circle cx="1170.2" cy="778.4" r="1.7"/><circle cx="1177.7" cy="771.6" r="1.7"/><circle cx="1185.3" cy="765.3" r="1.7"/><circle cx="1192.8" cy="759.5" r="1.7"/><circle cx="1200.4" cy="754.2" r="1.7"/><circle cx="1207.9" cy="749.4" r="1.7"/><circle cx="1215.5" cy="745.0" r="1.7"/><circle cx="1223.0" cy="740.9" r="1.7"/><circle cx="1230.5" cy="737.1" r="1.7"/><circle cx="1238.1" cy="733.6" r="1.7"/><circle cx="1245.6" cy="730.4" r="1.7"/><circle cx="1253.2" cy="727.4" r="1.7"/><circle cx="1260.7" cy="724.6" r="1.7"/><circle cx="1268.3" cy="722.0" r="1.7"/><circle cx="1275.8" cy="719.6" r="1.7"/><circle cx="1283.4" cy="717.4" r="1.7"/><circle cx="1290.9" cy="715.2" r="1.7"/><circle cx="1298.4" cy="713.3" r="1.7"/><circle cx="1306.0" cy="711.4" r="1.7"/><circle cx="1313.5" cy="709.7" r="1.7"/><circle cx="1321.1" cy="708.1" r="1.7"/><circle cx="1328.6" cy="706.5" r="1.7"/><circle cx="1336.2" cy="705.1" r="1.7"/><circle cx="1343.7" cy="703.7" r="1.7"/><circle cx="1351.3" cy="702.5" r="1.7"/><circle cx="1358.8" cy="701.2" r="1.7"/><circle cx="1366.3" cy="700.1" r="1.7"/><circle cx="1373.9" cy="699.0" r="1.7"/><circle cx="1381.4" cy="698.0" r="1.7"/><circle cx="1389.0" cy="697.0" r="1.7"/><circle cx="1396.5" cy="696.1" r="1.7"/><circle cx="1404.1" cy="695.2" r="1.7"/><circle cx="1411.6" cy="694.3" r="1.7"/><circle cx="1419.2" cy="693.5" r="1.7"/><circle cx="1426.7" cy="692.8" r="1.7"/><circle cx="1434.2" cy="692.1" r="1.7"/><circle cx="1441.8" cy="691.4" r="1.7"/><circle cx="1449.3" cy="690.7" r="1.7"/><circle cx="1456.9" cy="690.1" r="1.7"/><circle cx="1464.4" cy="689.5" r="1.7"/><circle cx="1472.0" cy="688.9" r="1.7"/><circle cx="1479.5" cy="688.4" r="1.7"/><circle cx="1487.1" cy="687.9" r="1.7"/><circle cx="1494.6" cy="687.4" r="1.7"/><circle cx="1502.1" cy="686.9" r="1.7"/><circle cx="1509.7" cy="686.4" r="1.7"/><circle cx="1517.2" cy="686.0" r="1.7"/><circle cx="1524.8" cy="685.6" r="1.7"/><circle cx="1532.3" cy="685.2" r="1.7"/><circle cx="1539.9" cy="684.8" r="1.7"/><circle cx="1547.4" cy="684.4" r="1.7"/><circle cx="1555.0" cy="684.1" r="1.7"/><circle cx="1562.5" cy="683.7" r="1.7"/><circle cx="1570.0" cy="683.4" r="1.7"/><circle cx="1577.6" cy="683.1" r="1.7"/><circle cx="1585.1" cy="682.8" r="1.7"/><circle cx="1592.7" cy="682.5" r="1.7"/><circle cx="1600.2" cy="682.3" r="1.7"/><circle cx="1607.8" cy="682.0" r="1.7"/></g>
</g>
<rect x="935.50" y="642.20" width="679.00" height="244.30" fill="none" stroke="#000" stroke-width="3.4"/>
<path d="M935.50,886.50v10M1086.39,886.50v10M1237.28,886.50v10M1388.17,886.50v10M1539.06,886.50v10M1010.94,886.50v6M1161.83,886.50v6M1312.72,886.50v6M1463.61,886.50v6M1614.50,886.50v6" stroke="#000" stroke-width="3.2" fill="none"/>
<text transform="translate(927.28,927.80) scale(0.92,1)" font-size="35.8" text-anchor="start" fill="#000">0</text>
<text transform="translate(1077.67,927.80) scale(0.92,1)" font-size="35.8" text-anchor="start" fill="#000">1</text>
<text transform="translate(1229.06,927.80) scale(0.92,1)" font-size="35.8" text-anchor="start" fill="#000">2</text>
<text transform="translate(1380.11,927.80) scale(0.92,1)" font-size="35.8" text-anchor="start" fill="#000">3</text>
<text transform="translate(1531.00,927.80) scale(0.92,1)" font-size="35.8" text-anchor="start" fill="#000">4</text>
<text transform="translate(870.40,663.50) scale(1.0576,1)" font-size="30" text-anchor="start" fill="#000">(d)</text>
<text transform="translate(894.80,827.50) rotate(-90)" font-size="33" text-anchor="start" fill="#000" textLength="106" lengthAdjust="spacingAndGlyphs">I<tspan font-size="20" dy="12">ds</tspan><tspan dy="-12"> (a.u.)</tspan></text>
<text transform="translate(944.19,674.80) scale(0.9967,1)" font-size="31" text-anchor="start" fill="#000"><tspan font-family="Liberation Serif" font-size="27">&#955;</tspan>=808 nm</text>
<text transform="translate(944.50,712.80)" font-size="31" text-anchor="start" fill="#000" textLength="99.6" lengthAdjust="spacingAndGlyphs">V<tspan font-size="20" dy="9">ds</tspan><tspan dy="-9">=1 v</tspan></text>
<text transform="translate(944.50,755.80)" font-size="31" text-anchor="start" fill="#000" textLength="189.2" lengthAdjust="spacingAndGlyphs">P=50 mWcm<tspan font-size="19" dy="-15">-2</tspan></text>
<text transform="translate(1249.50,779.30)" font-size="31" text-anchor="start" fill="#000" textLength="128.5" lengthAdjust="spacingAndGlyphs"><tspan font-style="italic">T</tspan><tspan font-size="20" dy="12">rise</tspan><tspan dy="-12">=2.1 s</tspan></text>
<path d="M1380.2,664.8H1434.9" stroke="#ff00ff" stroke-width="2.5"/>
<circle cx="1406.5" cy="664.8" r="6.5" fill="#ff00ff"/><circle cx="1405" cy="663" r="1.7" fill="#ffc8ff"/>
<text transform="translate(1442.40,672.30)" font-size="31" text-anchor="start" fill="#000" textLength="163.3" lengthAdjust="spacingAndGlyphs">I<tspan font-size="20" dy="11.5">2</tspan><tspan dy="-11.5">-PbSe-T30</tspan></text>
<clipPath id="clipd2"><rect x="935.50" y="959.00" width="679.00" height="244.50"/></clipPath>
<rect x="1127.2" y="959" width="339.1" height="244.5" fill="#ccccfa"/>
<g clip-path="url(#clipd2)">
<path d="M935.5,991.6L943.0,991.3L950.6,991.1L958.1,991.0L965.7,991.1L973.2,991.3L980.8,991.6L988.3,991.8L995.9,991.9L1003.4,991.9L1010.9,991.8L1018.5,991.5L1026.0,991.1L1033.6,990.5L1041.1,990.0L1048.7,989.4L1056.2,989.0L1063.8,988.7L1071.3,988.5L1078.8,988.5L1086.4,988.7L1093.9,988.9L1101.5,989.1L1109.0,989.3L1116.6,989.4L1124.1,989.4L1131.7,1021.1L1139.2,1042.0L1146.7,1055.9L1154.3,1065.4L1161.8,1072.3L1169.4,1077.5L1176.9,1081.7L1184.5,1085.3L1192.0,1088.5L1199.6,1091.4L1207.1,1094.1L1214.6,1096.6L1222.2,1099.1L1229.7,1101.5L1237.3,1103.8L1244.8,1106.1L1252.4,1108.3L1259.9,1110.4L1267.5,1112.5L1275.0,1114.5L1282.5,1116.5L1290.1,1118.5L1297.6,1120.4L1305.2,1122.3L1312.7,1124.1L1320.3,1125.9L1327.8,1127.6L1335.4,1129.3L1342.9,1131.0L1350.4,1132.6L1358.0,1134.2L1365.5,1135.7L1373.1,1137.3L1380.6,1138.8L1388.2,1140.2L1395.7,1141.6L1403.3,1143.0L1410.8,1144.4L1418.3,1145.7L1425.9,1147.0L1433.4,1148.3L1441.0,1149.5L1448.5,1150.7L1456.1,1151.9L1463.6,1153.1L1471.2,1154.2L1478.7,1155.3L1486.2,1156.4L1493.8,1157.4L1501.3,1158.5L1508.9,1159.5L1516.4,1160.5L1524.0,1161.4L1531.5,1162.4L1539.1,1163.3L1546.6,1164.2L1554.1,1165.1L1561.7,1165.9L1569.2,1166.8L1576.8,1167.6L1584.3,1168.4L1591.9,1169.2L1599.4,1170.0L1607.0,1170.7L1614.5,1171.4" fill="none" stroke="#ff00ff" stroke-width="2.5"/>
<g fill="#ff00ff"><circle cx="935.5" cy="991.6" r="7.3"/><circle cx="943.0" cy="991.3" r="7.3"/><circle cx="950.6" cy="991.1" r="7.3"/><circle cx="958.1" cy="991.0" r="7.3"/><circle cx="965.7" cy="991.1" r="7.3"/><circle cx="973.2" cy="991.3" r="7.3"/><circle cx="980.8" cy="991.6" r="7.3"/><circle cx="988.3" cy="991.8" r="7.3"/><circle cx="995.9" cy="991.9" r="7.3"/><circle cx="1003.4" cy="991.9" r="7.3"/><circle cx="1010.9" cy="991.8" r="7.3"/><circle cx="1018.5" cy="991.5" r="7.3"/><circle cx="1026.0" cy="991.1" r="7.3"/><circle cx="1033.6" cy="990.5" r="7.3"/><circle cx="1041.1" cy="990.0" r="7.3"/><circle cx="1048.7" cy="989.4" r="7.3"/><circle cx="1056.2" cy="989.0" r="7.3"/><circle cx="1063.8" cy="988.7" r="7.3"/><circle cx="1071.3" cy="988.5" r="7.3"/><circle cx="1078.8" cy="988.5" r="7.3"/><circle cx="1086.4" cy="988.7" r="7.3"/><circle cx="1093.9" cy="988.9" r="7.3"/><circle cx="1101.5" cy="989.1" r="7.3"/><circle cx="1109.0" cy="989.3" r="7.3"/><circle cx="1116.6" cy="989.4" r="7.3"/><circle cx="1124.1" cy="989.4" r="7.3"/><circle cx="1131.7" cy="1021.1" r="7.3"/><circle cx="1139.2" cy="1042.0" r="7.3"/><circle cx="1146.7" cy="1055.9" r="7.3"/><circle cx="1154.3" cy="1065.4" r="7.3"/><circle cx="1161.8" cy="1072.3" r="7.3"/><circle cx="1169.4" cy="1077.5" r="7.3"/><circle cx="1176.9" cy="1081.7" r="7.3"/><circle cx="1184.5" cy="1085.3" r="7.3"/><circle cx="1192.0" cy="1088.5" r="7.3"/><circle cx="1199.6" cy="1091.4" r="7.3"/><circle cx="1207.1" cy="1094.1" r="7.3"/><circle cx="1214.6" cy="1096.6" r="7.3"/><circle cx="1222.2" cy="1099.1" r="7.3"/><circle cx="1229.7" cy="1101.5" r="7.3"/><circle cx="1237.3" cy="1103.8" r="7.3"/><circle cx="1244.8" cy="1106.1" r="7.3"/><circle cx="1252.4" cy="1108.3" r="7.3"/><circle cx="1259.9" cy="1110.4" r="7.3"/><circle cx="1267.5" cy="1112.5" r="7.3"/><circle cx="1275.0" cy="1114.5" r="7.3"/><circle cx="1282.5" cy="1116.5" r="7.3"/><circle cx="1290.1" cy="1118.5" r="7.3"/><circle cx="1297.6" cy="1120.4" r="7.3"/><circle cx="1305.2" cy="1122.3" r="7.3"/><circle cx="1312.7" cy="1124.1" r="7.3"/><circle cx="1320.3" cy="1125.9" r="7.3"/><circle cx="1327.8" cy="1127.6" r="7.3"/><circle cx="1335.4" cy="1129.3" r="7.3"/><circle cx="1342.9" cy="1131.0" r="7.3"/><circle cx="1350.4" cy="1132.6" r="7.3"/><circle cx="1358.0" cy="1134.2" r="7.3"/><circle cx="1365.5" cy="1135.7" r="7.3"/><circle cx="1373.1" cy="1137.3" r="7.3"/><circle cx="1380.6" cy="1138.8" r="7.3"/><circle cx="1388.2" cy="1140.2" r="7.3"/><circle cx="1395.7" cy="1141.6" r="7.3"/><circle cx="1403.3" cy="1143.0" r="7.3"/><circle cx="1410.8" cy="1144.4" r="7.3"/><circle cx="1418.3" cy="1145.7" r="7.3"/><circle cx="1425.9" cy="1147.0" r="7.3"/><circle cx="1433.4" cy="1148.3" r="7.3"/><circle cx="1441.0" cy="1149.5" r="7.3"/><circle cx="1448.5" cy="1150.7" r="7.3"/><circle cx="1456.1" cy="1151.9" r="7.3"/><circle cx="1463.6" cy="1153.1" r="7.3"/><circle cx="1471.2" cy="1154.2" r="7.3"/><circle cx="1478.7" cy="1155.3" r="7.3"/><circle cx="1486.2" cy="1156.4" r="7.3"/><circle cx="1493.8" cy="1157.4" r="7.3"/><circle cx="1501.3" cy="1158.5" r="7.3"/><circle cx="1508.9" cy="1159.5" r="7.3"/><circle cx="1516.4" cy="1160.5" r="7.3"/><circle cx="1524.0" cy="1161.4" r="7.3"/><circle cx="1531.5" cy="1162.4" r="7.3"/><circle cx="1539.1" cy="1163.3" r="7.3"/><circle cx="1546.6" cy="1164.2" r="7.3"/><circle cx="1554.1" cy="1165.1" r="7.3"/><circle cx="1561.7" cy="1165.9" r="7.3"/><circle cx="1569.2" cy="1166.8" r="7.3"/><circle cx="1576.8" cy="1167.6" r="7.3"/><circle cx="1584.3" cy="1168.4" r="7.3"/><circle cx="1591.9" cy="1169.2" r="7.3"/><circle cx="1599.4" cy="1170.0" r="7.3"/><circle cx="1607.0" cy="1170.7" r="7.3"/><circle cx="1614.5" cy="1171.4" r="7.3"/></g>
<g fill="#ffc8ff"><circle cx="933.9" cy="989.6" r="1.7"/><circle cx="941.4" cy="989.3" r="1.7"/><circle cx="949.0" cy="989.1" r="1.7"/><circle cx="956.5" cy="989.0" r="1.7"/><circle cx="964.1" cy="989.1" r="1.7"/><circle cx="971.6" cy="989.3" r="1.7"/><circle cx="979.2" cy="989.6" r="1.7"/><circle cx="986.7" cy="989.8" r="1.7"/><circle cx="994.3" cy="989.9" r="1.7"/><circle cx="1001.8" cy="989.9" r="1.7"/><circle cx="1009.3" cy="989.8" r="1.7"/><circle cx="1016.9" cy="989.5" r="1.7"/><circle cx="1024.4" cy="989.1" r="1.7"/><circle cx="1032.0" cy="988.5" r="1.7"/><circle cx="1039.5" cy="988.0" r="1.7"/><circle cx="1047.1" cy="987.4" r="1.7"/><circle cx="1054.6" cy="987.0" r="1.7"/><circle cx="1062.2" cy="986.7" r="1.7"/><circle cx="1069.7" cy="986.5" r="1.7"/><circle cx="1077.2" cy="986.5" r="1.7"/><circle cx="1084.8" cy="986.7" r="1.7"/><circle cx="1092.3" cy="986.9" r="1.7"/><circle cx="1099.9" cy="987.1" r="1.7"/><circle cx="1107.4" cy="987.3" r="1.7"/><circle cx="1115.0" cy="987.4" r="1.7"/><circle cx="1122.5" cy="987.4" r="1.7"/><circle cx="1130.1" cy="1019.1" r="1.7"/><circle cx="1137.6" cy="1040.0" r="1.7"/><circle cx="1145.1" cy="1053.9" r="1.7"/><circle cx="1152.7" cy="1063.4" r="1.7"/><circle cx="1160.2" cy="1070.3" r="1.7"/><circle cx="1167.8" cy="1075.5" r="1.7"/><circle cx="1175.3" cy="1079.7" r="1.7"/><circle cx="1182.9" cy="1083.3" r="1.7"/><circle cx="1190.4" cy="1086.5" r="1.7"/><circle cx="1198.0" cy="1089.4" r="1.7"/><circle cx="1205.5" cy="1092.1" r="1.7"/><circle cx="1213.0" cy="1094.6" r="1.7"/><circle cx="1220.6" cy="1097.1" r="1.7"/><circle cx="1228.1" cy="1099.5" r="1.7"/><circle cx="1235.7" cy="1101.8" r="1.7"/><circle cx="1243.2" cy="1104.1" r="1.7"/><circle cx="1250.8" cy="1106.3" r="1.7"/><circle cx="1258.3" cy="1108.4" r="1.7"/><circle cx="1265.9" cy="1110.5" r="1.7"/><circle cx="1273.4" cy="1112.5" r="1.7"/><circle cx="1280.9" cy="1114.5" r="1.7"/><circle cx="1288.5" cy="1116.5" r="1.7"/><circle cx="1296.0" cy="1118.4" r="1.7"/><circle cx="1303.6" cy="1120.3" r="1.7"/><circle cx="1311.1" cy="1122.1" r="1.7"/><circle cx="1318.7" cy="1123.9" r="1.7"/><circle cx="1326.2" cy="1125.6" r="1.7"/><circle cx="1333.8" cy="1127.3" r="1.7"/><circle cx="1341.3" cy="1129.0" r="1.7"/><circle cx="1348.8" cy="1130.6" r="1.7"/><circle cx="1356.4" cy="1132.2" r="1.7"/><circle cx="1363.9" cy="1133.7" r="1.7"/><circle cx="1371.5" cy="1135.3" r="1.7"/><circle cx="1379.0" cy="1136.8" r="1.7"/><circle cx="1386.6" cy="1138.2" r="1.7"/><circle cx="1394.1" cy="1139.6" r="1.7"/><circle cx="1401.7" cy="1141.0" r="1.7"/><circle cx="1409.2" cy="1142.4" r="1.7"/><circle cx="1416.7" cy="1143.7" r="1.7"/><circle cx="1424.3" cy="1145.0" r="1.7"/><circle cx="1431.8" cy="1146.3" r="1.7"/><circle cx="1439.4" cy="1147.5" r="1.7"/><circle cx="1446.9" cy="1148.7" r="1.7"/><circle cx="1454.5" cy="1149.9" r="1.7"/><circle cx="1462.0" cy="1151.1" r="1.7"/><circle cx="1469.6" cy="1152.2" r="1.7"/><circle cx="1477.1" cy="1153.3" r="1.7"/><circle cx="1484.6" cy="1154.4" r="1.7"/><circle cx="1492.2" cy="1155.4" r="1.7"/><circle cx="1499.7" cy="1156.5" r="1.7"/><circle cx="1507.3" cy="1157.5" r="1.7"/><circle cx="1514.8" cy="1158.5" r="1.7"/><circle cx="1522.4" cy="1159.4" r="1.7"/><circle cx="1529.9" cy="1160.4" r="1.7"/><circle cx="1537.5" cy="1161.3" r="1.7"/><circle cx="1545.0" cy="1162.2" r="1.7"/><circle cx="1552.5" cy="1163.1" r="1.7"/><circle cx="1560.1" cy="1163.9" r="1.7"/><circle cx="1567.6" cy="1164.8" r="1.7"/><circle cx="1575.2" cy="1165.6" r="1.7"/><circle cx="1582.7" cy="1166.4" r="1.7"/><circle cx="1590.3" cy="1167.2" r="1.7"/><circle cx="1597.8" cy="1168.0" r="1.7"/><circle cx="1605.4" cy="1168.7" r="1.7"/><circle cx="1612.9" cy="1169.4" r="1.7"/></g>
</g>
<rect x="935.50" y="959.00" width="679.00" height="244.50" fill="none" stroke="#000" stroke-width="3.4"/>
<path d="M935.50,1203.50v10M1086.39,1203.50v10M1237.28,1203.50v10M1388.17,1203.50v10M1539.06,1203.50v10M1010.94,1203.50v6M1161.83,1203.50v6M1312.72,1203.50v6M1463.61,1203.50v6M1614.50,1203.50v6" stroke="#000" stroke-width="3.2" fill="none"/>
<text transform="translate(927.28,1244.50) scale(0.92,1)" font-size="35.8" text-anchor="start" fill="#000">6</text>
<text transform="translate(1078.17,1244.50) scale(0.92,1)" font-size="35.8" text-anchor="start" fill="#000">7</text>
<text transform="translate(1229.22,1244.50) scale(0.92,1)" font-size="35.8" text-anchor="start" fill="#000">8</text>
<text transform="translate(1379.94,1244.50) scale(0.92,1)" font-size="35.8" text-anchor="start" fill="#000">9</text>
<text transform="translate(1520.95,1244.50) scale(0.92,1)" font-size="35.8" text-anchor="start" fill="#000">10</text>
<text transform="translate(905.90,1128.00) rotate(-90)" font-size="33" text-anchor="start" fill="#000" textLength="106" lengthAdjust="spacingAndGlyphs">I<tspan font-size="20" dy="12">ds</tspan><tspan dy="-12"> (a.u.)</tspan></text>
<text transform="translate(1223.30,1060.60)" font-size="31" text-anchor="start" fill="#000" textLength="144.4" lengthAdjust="spacingAndGlyphs"><tspan font-style="italic">T</tspan><tspan font-size="20" dy="10">decay</tspan><tspan dy="-10">=2.3 s</tspan></text>
<text transform="translate(1222.70,1269.70) scale(0.9428,1)" font-size="32" text-anchor="start" fill="#000">Time (s)</text>
<path d="M639.3,1795.5V1496.2H813.3853165645838" fill="none" stroke="#000" stroke-width="2.4" stroke-dasharray="8,5"/>
<polygon points="188.7,1512.5 205.5,1512.5 205.5,1529.3 188.7,1529.3" fill="#fff" stroke="#ff0000" stroke-width="1.6" stroke-linejoin="miter"/>
<polygon points="205.5,1519.4 205.5,1529.3 188.7,1529.3 188.7,1519.4" fill="#ff0000" stroke="#ff0000" stroke-width="1.6" stroke-linejoin="miter"/>
<polygon points="227.2,1496.8 244.0,1496.8 244.0,1513.6 227.2,1513.6" fill="#fff" stroke="#ff0000" stroke-width="1.6" stroke-linejoin="miter"/>
<polygon points="244.0,1503.7 244.0,1513.6 227.2,1513.6 227.2,1503.7" fill="#ff0000" stroke="#ff0000" stroke-width="1.6" stroke-linejoin="miter"/>
<polygon points="423.4,1430.6 440.2,1430.6 440.2,1447.4 423.4,1447.4" fill="#fff" stroke="#ff0000" stroke-width="1.6" stroke-linejoin="miter"/>
<polygon points="440.2,1437.5 440.2,1447.4 423.4,1447.4 423.4,1437.5" fill="#ff0000" stroke="#ff0000" stroke-width="1.6" stroke-linejoin="miter"/>
<polygon points="493.0,1413.8 509.8,1413.8 509.8,1430.6 493.0,1430.6" fill="#fff" stroke="#ff0000" stroke-width="1.6" stroke-linejoin="miter"/>
<polygon points="509.8,1420.7 509.8,1430.6 493.0,1430.6 493.0,1420.7" fill="#ff0000" stroke="#ff0000" stroke-width="1.6" stroke-linejoin="miter"/>
<polygon points="514.1,1407.7 530.9,1407.7 530.9,1424.5 514.1,1424.5" fill="#fff" stroke="#ff0000" stroke-width="1.6" stroke-linejoin="miter"/>
<polygon points="530.9,1414.6 530.9,1424.5 514.1,1424.5 514.1,1414.6" fill="#ff0000" stroke="#ff0000" stroke-width="1.6" stroke-linejoin="miter"/>
<polygon points="540.7,1401.2 557.5,1401.2 557.5,1418.0 540.7,1418.0" fill="#fff" stroke="#ff0000" stroke-width="1.6" stroke-linejoin="miter"/>
<polygon points="557.5,1408.1 557.5,1418.0 540.7,1418.0 540.7,1408.1" fill="#ff0000" stroke="#ff0000" stroke-width="1.6" stroke-linejoin="miter"/>
<polygon points="553.4,1401.2 570.2,1401.2 570.2,1418.0 553.4,1418.0" fill="#fff" stroke="#ff0000" stroke-width="1.6" stroke-linejoin="miter"/>
<polygon points="570.2,1408.1 570.2,1418.0 553.4,1418.0 553.4,1408.1" fill="#ff0000" stroke="#ff0000" stroke-width="1.6" stroke-linejoin="miter"/>
<polygon points="769.4,1340.1 786.2,1340.1 786.2,1356.9 769.4,1356.9" fill="#fff" stroke="#ff0000" stroke-width="1.6" stroke-linejoin="miter"/>
<polygon points="786.2,1347.0 786.2,1356.9 769.4,1356.9 769.4,1347.0" fill="#ff0000" stroke="#ff0000" stroke-width="1.6" stroke-linejoin="miter"/>
<circle cx="209.5" cy="1574.4" r="9.6" fill="#fff" stroke="#0000ff" stroke-width="1.9"/>
<path d="M199.9,1574.4A9.6,9.6 0 0 0 219.1,1574.4Z" fill="#0000ff"/>
<polygon points="203.3,1576.0 215.7,1576.0 209.5,1581.8" fill="#fff"/>
<path d="M199.9,1574.4H219.1" stroke="#0000ff" stroke-width="1.6"/>
<circle cx="296.6" cy="1547.9" r="9.6" fill="#fff" stroke="#0000ff" stroke-width="1.9"/>
<path d="M287.0,1547.9A9.6,9.6 0 0 0 306.2,1547.9Z" fill="#0000ff"/>
<polygon points="290.4,1549.5 302.8,1549.5 296.6,1555.3" fill="#fff"/>
<path d="M287.0,1547.9H306.2" stroke="#0000ff" stroke-width="1.6"/>
<circle cx="469.3" cy="1467.9" r="9.6" fill="#fff" stroke="#0000ff" stroke-width="1.9"/>
<path d="M459.7,1467.9A9.6,9.6 0 0 0 478.9,1467.9Z" fill="#0000ff"/>
<polygon points="463.1,1469.5 475.5,1469.5 469.3,1475.3" fill="#fff"/>
<path d="M459.7,1467.9H478.9" stroke="#0000ff" stroke-width="1.6"/>
<circle cx="494.6" cy="1455.1" r="9.6" fill="#fff" stroke="#0000ff" stroke-width="1.9"/>
<path d="M485.0,1455.1A9.6,9.6 0 0 0 504.2,1455.1Z" fill="#0000ff"/>
<polygon points="488.4,1456.7 500.8,1456.7 494.6,1462.5" fill="#fff"/>
<path d="M485.0,1455.1H504.2" stroke="#0000ff" stroke-width="1.6"/>
<circle cx="526.6" cy="1437.4" r="9.6" fill="#fff" stroke="#0000ff" stroke-width="1.9"/>
<path d="M517.0,1437.4A9.6,9.6 0 0 0 536.2,1437.4Z" fill="#0000ff"/>
<polygon points="520.4,1439.0 532.8,1439.0 526.6,1444.8" fill="#fff"/>
<path d="M517.0,1437.4H536.2" stroke="#0000ff" stroke-width="1.6"/>
<circle cx="544.7" cy="1427.5" r="9.6" fill="#fff" stroke="#0000ff" stroke-width="1.9"/>
<path d="M535.1,1427.5A9.6,9.6 0 0 0 554.3,1427.5Z" fill="#0000ff"/>
<polygon points="538.5,1429.1 550.9,1429.1 544.7,1434.9" fill="#fff"/>
<path d="M535.1,1427.5H554.3" stroke="#0000ff" stroke-width="1.6"/>
<circle cx="558.5" cy="1420.2" r="9.6" fill="#fff" stroke="#0000ff" stroke-width="1.9"/>
<path d="M548.9,1420.2A9.6,9.6 0 0 0 568.1,1420.2Z" fill="#0000ff"/>
<polygon points="552.3,1421.8 564.7,1421.8 558.5,1427.6" fill="#fff"/>
<path d="M548.9,1420.2H568.1" stroke="#0000ff" stroke-width="1.6"/>
<circle cx="689.2" cy="1368.8" r="9.6" fill="#fff" stroke="#0000ff" stroke-width="1.9"/>
<path d="M679.6,1368.8A9.6,9.6 0 0 0 698.8,1368.8Z" fill="#0000ff"/>
<polygon points="683.0,1370.4 695.4,1370.4 689.2,1376.2" fill="#fff"/>
<path d="M679.6,1368.8H698.8" stroke="#0000ff" stroke-width="1.6"/>
<polygon points="196.6,1612.3 209.0,1633.7 184.2,1633.7" fill="#fff" stroke="#ff00ff" stroke-width="1.6" stroke-linejoin="miter"/>
<polygon points="204.7,1626.2 209.0,1633.7 184.2,1633.7 188.5,1626.2" fill="#ff00ff" stroke="#ff00ff" stroke-width="1.6" stroke-linejoin="miter"/>
<polygon points="291.7,1583.9 304.1,1605.3 279.3,1605.3" fill="#fff" stroke="#ff00ff" stroke-width="1.6" stroke-linejoin="miter"/>
<polygon points="299.8,1597.8 304.1,1605.3 279.3,1605.3 283.6,1597.8" fill="#ff00ff" stroke="#ff00ff" stroke-width="1.6" stroke-linejoin="miter"/>
<polygon points="372.8,1563.0 385.2,1584.4 360.4,1584.4" fill="#fff" stroke="#ff00ff" stroke-width="1.6" stroke-linejoin="miter"/>
<polygon points="380.9,1576.9 385.2,1584.4 360.4,1584.4 364.7,1576.9" fill="#ff00ff" stroke="#ff00ff" stroke-width="1.6" stroke-linejoin="miter"/>
<polygon points="402.2,1546.1 414.6,1567.5 389.8,1567.5" fill="#fff" stroke="#ff00ff" stroke-width="1.6" stroke-linejoin="miter"/>
<polygon points="410.3,1560.0 414.6,1567.5 389.8,1567.5 394.1,1560.0" fill="#ff00ff" stroke="#ff00ff" stroke-width="1.6" stroke-linejoin="miter"/>
<polygon points="453.2,1524.3 465.6,1545.7 440.8,1545.7" fill="#fff" stroke="#ff00ff" stroke-width="1.6" stroke-linejoin="miter"/>
<polygon points="461.3,1538.2 465.6,1545.7 440.8,1545.7 445.1,1538.2" fill="#ff00ff" stroke="#ff00ff" stroke-width="1.6" stroke-linejoin="miter"/>
<polygon points="497.2,1503.0 509.6,1524.4 484.8,1524.4" fill="#fff" stroke="#ff00ff" stroke-width="1.6" stroke-linejoin="miter"/>
<polygon points="505.3,1516.9 509.6,1524.4 484.8,1524.4 489.1,1516.9" fill="#ff00ff" stroke="#ff00ff" stroke-width="1.6" stroke-linejoin="miter"/>
<polygon points="524.4,1496.3 536.8,1517.7 512.0,1517.7" fill="#fff" stroke="#ff00ff" stroke-width="1.6" stroke-linejoin="miter"/>
<polygon points="532.5,1510.2 536.8,1517.7 512.0,1517.7 516.3,1510.2" fill="#ff00ff" stroke="#ff00ff" stroke-width="1.6" stroke-linejoin="miter"/>
<polygon points="544.0,1482.6 556.4,1504.0 531.6,1504.0" fill="#fff" stroke="#ff00ff" stroke-width="1.6" stroke-linejoin="miter"/>
<polygon points="552.1,1496.5 556.4,1504.0 531.6,1504.0 535.9,1496.5" fill="#ff00ff" stroke="#ff00ff" stroke-width="1.6" stroke-linejoin="miter"/>
<polygon points="561.0,1476.5 573.4,1497.9 548.6,1497.9" fill="#fff" stroke="#ff00ff" stroke-width="1.6" stroke-linejoin="miter"/>
<polygon points="569.1,1490.4 573.4,1497.9 548.6,1497.9 552.9,1490.4" fill="#ff00ff" stroke="#ff00ff" stroke-width="1.6" stroke-linejoin="miter"/>
<polygon points="596.2,1456.3 608.6,1477.7 583.8,1477.7" fill="#fff" stroke="#ff00ff" stroke-width="1.6" stroke-linejoin="miter"/>
<polygon points="604.3,1470.2 608.6,1477.7 583.8,1477.7 588.1,1470.2" fill="#ff00ff" stroke="#ff00ff" stroke-width="1.6" stroke-linejoin="miter"/>
<polygon points="168.7,1640.0 193.5,1640.0 181.1,1661.0" fill="#fff" stroke="#008000" stroke-width="1.6" stroke-linejoin="miter"/>
<polygon points="190.0,1646.0 181.1,1661.0 172.2,1646.0" fill="#008000" stroke="#008000" stroke-width="1.6" stroke-linejoin="miter"/>
<polygon points="300.6,1608.0 325.4,1608.0 313.0,1629.0" fill="#fff" stroke="#008000" stroke-width="1.6" stroke-linejoin="miter"/>
<polygon points="321.9,1614.0 313.0,1629.0 304.1,1614.0" fill="#008000" stroke="#008000" stroke-width="1.6" stroke-linejoin="miter"/>
<polygon points="365.1,1584.1 389.9,1584.1 377.5,1605.1" fill="#fff" stroke="#008000" stroke-width="1.6" stroke-linejoin="miter"/>
<polygon points="386.4,1590.1 377.5,1605.1 368.6,1590.1" fill="#008000" stroke="#008000" stroke-width="1.6" stroke-linejoin="miter"/>
<polygon points="393.6,1574.2 418.4,1574.2 406.0,1595.2" fill="#fff" stroke="#008000" stroke-width="1.6" stroke-linejoin="miter"/>
<polygon points="414.9,1580.2 406.0,1595.2 397.1,1580.2" fill="#008000" stroke="#008000" stroke-width="1.6" stroke-linejoin="miter"/>
<polygon points="437.0,1544.5 461.8,1544.5 449.4,1565.5" fill="#fff" stroke="#008000" stroke-width="1.6" stroke-linejoin="miter"/>
<polygon points="458.3,1550.5 449.4,1565.5 440.5,1550.5" fill="#008000" stroke="#008000" stroke-width="1.6" stroke-linejoin="miter"/>
<polygon points="487.1,1528.5 511.9,1528.5 499.5,1549.5" fill="#fff" stroke="#008000" stroke-width="1.6" stroke-linejoin="miter"/>
<polygon points="508.4,1534.5 499.5,1549.5 490.6,1534.5" fill="#008000" stroke="#008000" stroke-width="1.6" stroke-linejoin="miter"/>
<polygon points="512.6,1517.3 537.4,1517.3 525.0,1538.3" fill="#fff" stroke="#008000" stroke-width="1.6" stroke-linejoin="miter"/>
<polygon points="533.9,1523.3 525.0,1538.3 516.1,1523.3" fill="#008000" stroke="#008000" stroke-width="1.6" stroke-linejoin="miter"/>
<polygon points="531.7,1509.0 556.5,1509.0 544.1,1530.0" fill="#fff" stroke="#008000" stroke-width="1.6" stroke-linejoin="miter"/>
<polygon points="553.0,1515.0 544.1,1530.0 535.2,1515.0" fill="#008000" stroke="#008000" stroke-width="1.6" stroke-linejoin="miter"/>
<polygon points="547.8,1502.5 572.6,1502.5 560.2,1523.5" fill="#fff" stroke="#008000" stroke-width="1.6" stroke-linejoin="miter"/>
<polygon points="569.1,1508.5 560.2,1523.5 551.3,1508.5" fill="#008000" stroke="#008000" stroke-width="1.6" stroke-linejoin="miter"/>
<polygon points="570.3,1489.5 595.1,1489.5 582.7,1510.5" fill="#fff" stroke="#008000" stroke-width="1.6" stroke-linejoin="miter"/>
<polygon points="591.6,1495.5 582.7,1510.5 573.8,1495.5" fill="#008000" stroke="#008000" stroke-width="1.6" stroke-linejoin="miter"/>
<polygon points="313.0,1639.8 326.8,1652.6 313.0,1665.4 299.2,1652.6" fill="#fff" stroke="#ff8000" stroke-width="1.6" stroke-linejoin="miter"/>
<polygon points="326.3,1652.1 326.8,1652.6 313.0,1665.4 299.2,1652.6 299.7,1652.1" fill="#ff8000" stroke="#ff8000" stroke-width="1.6" stroke-linejoin="miter"/>
<polygon points="446.9,1573.5 460.7,1586.3 446.9,1599.1 433.1,1586.3" fill="#fff" stroke="#ff8000" stroke-width="1.6" stroke-linejoin="miter"/>
<polygon points="460.2,1585.8 460.7,1586.3 446.9,1599.1 433.1,1586.3 433.6,1585.8" fill="#ff8000" stroke="#ff8000" stroke-width="1.6" stroke-linejoin="miter"/>
<polygon points="290.2,1683.7 290.2,1708.3 267.8,1696.0" fill="#fff" stroke="#9900ff" stroke-width="1.6" stroke-linejoin="miter"/>
<polygon points="290.2,1695.5 290.2,1708.3 267.8,1696.0 268.7,1695.5" fill="#9900ff" stroke="#9900ff" stroke-width="1.6" stroke-linejoin="miter"/>
<polygon points="424.1,1618.1 424.1,1642.7 401.7,1630.4" fill="#fff" stroke="#9900ff" stroke-width="1.6" stroke-linejoin="miter"/>
<polygon points="424.1,1629.9 424.1,1642.7 401.7,1630.4 402.6,1629.9" fill="#9900ff" stroke="#9900ff" stroke-width="1.6" stroke-linejoin="miter"/>
<polygon points="240.7,1721.2 263.1,1733.7 240.7,1746.2" fill="#fff" stroke="#008080" stroke-width="1.6" stroke-linejoin="miter"/>
<polygon points="262.2,1733.2 263.1,1733.7 240.7,1746.2 240.7,1733.2" fill="#008080" stroke="#008080" stroke-width="1.6" stroke-linejoin="miter"/>
<polygon points="373.2,1659.1 395.6,1671.6 373.2,1684.1" fill="#fff" stroke="#008080" stroke-width="1.6" stroke-linejoin="miter"/>
<polygon points="394.7,1671.1 395.6,1671.6 373.2,1684.1 373.2,1671.1" fill="#008080" stroke="#008080" stroke-width="1.6" stroke-linejoin="miter"/>
<polygon points="232.7,1750.6 243.1,1756.5 243.1,1768.3 232.7,1774.2 222.3,1768.3 222.3,1756.5" fill="#fff" stroke="#ff0080" stroke-width="1.6" stroke-linejoin="miter"/>
<polygon points="243.1,1761.4 243.1,1768.3 232.7,1774.2 222.3,1768.3 222.3,1761.4" fill="#ff0080" stroke="#ff0080" stroke-width="1.6" stroke-linejoin="miter"/>
<polygon points="367.9,1698.2 378.3,1704.1 378.3,1715.9 367.9,1721.8 357.5,1715.9 357.5,1704.1" fill="#fff" stroke="#ff0080" stroke-width="1.6" stroke-linejoin="miter"/>
<polygon points="378.3,1709.0 378.3,1715.9 367.9,1721.8 357.5,1715.9 357.5,1709.0" fill="#ff0080" stroke="#ff0080" stroke-width="1.6" stroke-linejoin="miter"/>
<rect x="133.50" y="1291.80" width="679.89" height="503.70" fill="none" stroke="#000" stroke-width="3.4"/>
<path d="M133.50,1795.50v10M291.58,1795.50v10M449.65,1795.50v10M607.73,1795.50v10M765.80,1795.50v10M181.09,1795.50v6M208.92,1795.50v6M228.67,1795.50v6M243.99,1795.50v6M256.51,1795.50v6M267.09,1795.50v6M276.26,1795.50v6M284.34,1795.50v6M339.16,1795.50v6M367.00,1795.50v6M386.75,1795.50v6M402.06,1795.50v6M414.58,1795.50v6M425.16,1795.50v6M434.33,1795.50v6M442.42,1795.50v6M497.24,1795.50v6M525.07,1795.50v6M544.82,1795.50v6M560.14,1795.50v6M572.66,1795.50v6M583.24,1795.50v6M592.41,1795.50v6M600.49,1795.50v6M655.31,1795.50v6M683.15,1795.50v6M702.90,1795.50v6M718.21,1795.50v6M730.73,1795.50v6M741.31,1795.50v6M750.48,1795.50v6M758.57,1795.50v6M813.39,1795.50v6M813.39,1795.50v6" stroke="#000" stroke-width="3.2" fill="none"/>
<path d="M133.50,1766.90h-10M133.50,1671.88h-10M133.50,1576.86h-10M133.50,1481.84h-10M133.50,1386.82h-10M133.50,1291.80h-10M133.50,1787.98h-6M133.50,1781.62h-6M133.50,1776.11h-6M133.50,1771.25h-6M133.50,1738.30h-6M133.50,1721.56h-6M133.50,1709.69h-6M133.50,1700.48h-6M133.50,1692.96h-6M133.50,1686.60h-6M133.50,1681.09h-6M133.50,1676.23h-6M133.50,1643.28h-6M133.50,1626.54h-6M133.50,1614.67h-6M133.50,1605.46h-6M133.50,1597.94h-6M133.50,1591.58h-6M133.50,1586.07h-6M133.50,1581.21h-6M133.50,1548.26h-6M133.50,1531.52h-6M133.50,1519.65h-6M133.50,1510.44h-6M133.50,1502.92h-6M133.50,1496.56h-6M133.50,1491.05h-6M133.50,1486.19h-6M133.50,1453.24h-6M133.50,1436.50h-6M133.50,1424.63h-6M133.50,1415.42h-6M133.50,1407.90h-6M133.50,1401.54h-6M133.50,1396.03h-6M133.50,1391.17h-6M133.50,1358.22h-6M133.50,1341.48h-6M133.50,1329.61h-6M133.50,1320.40h-6M133.50,1312.88h-6M133.50,1306.52h-6M133.50,1301.01h-6M133.50,1296.15h-6" stroke="#000" stroke-width="3.2" fill="none"/>
<text transform="translate(53.02,1776.20) scale(1.04,1)" font-size="30" text-anchor="start" fill="#000">1E-3</text>
<text transform="translate(58.32,1681.18) scale(1.04,1)" font-size="30" text-anchor="start" fill="#000">0.01</text>
<text transform="translate(75.79,1586.16) scale(1.04,1)" font-size="30" text-anchor="start" fill="#000">0.1</text>
<text transform="translate(101.69,1491.14) scale(1.04,1)" font-size="30" text-anchor="start" fill="#000">1</text>
<text transform="translate(83.90,1396.12) scale(1.04,1)" font-size="30" text-anchor="start" fill="#000">10</text>
<text transform="translate(66.74,1301.10) scale(1.04,1)" font-size="30" text-anchor="start" fill="#000">100</text>
<text transform="translate(112.45,1837.00)" font-size="30.5" text-anchor="start" fill="#000">0.1</text>
<text transform="translate(282.58,1837.00)" font-size="30.5" text-anchor="start" fill="#000">1</text>
<text transform="translate(431.96,1837.00)" font-size="30.5" text-anchor="start" fill="#000">10</text>
<text transform="translate(581.65,1837.00)" font-size="30.5" text-anchor="start" fill="#000">100</text>
<text transform="translate(731.18,1837.00)" font-size="30.5" text-anchor="start" fill="#000">1000</text>
<polygon points="649.8,1507.4 666.6,1507.4 666.6,1524.2 649.8,1524.2" fill="#fff" stroke="#ff0000" stroke-width="1.6" stroke-linejoin="miter"/>
<polygon points="666.6,1514.3 666.6,1524.2 649.8,1524.2 649.8,1514.3" fill="#ff0000" stroke="#ff0000" stroke-width="1.6" stroke-linejoin="miter"/>
<text transform="translate(688.34,1524.30) scale(0.9569,1)" font-size="33" text-anchor="start" fill="#000">808 nm</text>
<circle cx="658.4" cy="1553.3" r="9.6" fill="#fff" stroke="#0000ff" stroke-width="1.9"/>
<path d="M648.8,1553.3A9.6,9.6 0 0 0 668.0,1553.3Z" fill="#0000ff"/>
<polygon points="652.2,1554.9 664.6,1554.9 658.4,1560.7" fill="#fff"/>
<path d="M648.8,1553.3H668.0" stroke="#0000ff" stroke-width="1.6"/>
<text transform="translate(688.02,1561.00) scale(0.9599,1)" font-size="33" text-anchor="start" fill="#000">980 nm</text>
<polygon points="658.2,1577.3 670.6,1598.7 645.8,1598.7" fill="#fff" stroke="#ff00ff" stroke-width="1.6" stroke-linejoin="miter"/>
<polygon points="666.3,1591.2 670.6,1598.7 645.8,1598.7 650.1,1591.2" fill="#ff00ff" stroke="#ff00ff" stroke-width="1.6" stroke-linejoin="miter"/>
<text transform="translate(688.71,1598.60) scale(0.9438,1)" font-size="33" text-anchor="start" fill="#000">1310 nm</text>
<polygon points="646.0,1621.8 670.8,1621.8 658.4,1642.8" fill="#fff" stroke="#008000" stroke-width="1.6" stroke-linejoin="miter"/>
<polygon points="667.3,1627.8 658.4,1642.8 649.5,1627.8" fill="#008000" stroke="#008000" stroke-width="1.6" stroke-linejoin="miter"/>
<text transform="translate(688.71,1636.10) scale(0.9438,1)" font-size="33" text-anchor="start" fill="#000">1550 nm</text>
<polygon points="658.4,1653.0 672.2,1665.8 658.4,1678.6 644.6,1665.8" fill="#fff" stroke="#ff8000" stroke-width="1.6" stroke-linejoin="miter"/>
<polygon points="671.7,1665.3 672.2,1665.8 658.4,1678.6 644.6,1665.8 645.1,1665.3" fill="#ff8000" stroke="#ff8000" stroke-width="1.6" stroke-linejoin="miter"/>
<text transform="translate(689.66,1673.70) scale(0.9363,1)" font-size="33" text-anchor="start" fill="#000">2250 nm</text>
<polygon points="664.8,1690.7 664.8,1715.3 642.4,1703.0" fill="#fff" stroke="#9900ff" stroke-width="1.6" stroke-linejoin="miter"/>
<polygon points="664.8,1702.5 664.8,1715.3 642.4,1703.0 643.3,1702.5" fill="#9900ff" stroke="#9900ff" stroke-width="1.6" stroke-linejoin="miter"/>
<text transform="translate(689.97,1711.20) scale(0.9339,1)" font-size="33" text-anchor="start" fill="#000">3500 nm</text>
<polygon points="651.7,1728.5 674.1,1741.0 651.7,1753.5" fill="#fff" stroke="#008080" stroke-width="1.6" stroke-linejoin="miter"/>
<polygon points="673.2,1740.5 674.1,1741.0 651.7,1753.5 651.7,1740.5" fill="#008080" stroke="#008080" stroke-width="1.6" stroke-linejoin="miter"/>
<text transform="translate(690.59,1748.00) scale(0.929,1)" font-size="33" text-anchor="start" fill="#000">4000 nm</text>
<polygon points="658.6,1766.4 669.0,1772.3 669.0,1784.1 658.6,1790.0 648.2,1784.1 648.2,1772.3" fill="#fff" stroke="#ff0080" stroke-width="1.6" stroke-linejoin="miter"/>
<polygon points="669.0,1777.2 669.0,1784.1 658.6,1790.0 648.2,1784.1 648.2,1777.2" fill="#ff0080" stroke="#ff0080" stroke-width="1.6" stroke-linejoin="miter"/>
<text transform="translate(689.97,1785.50) scale(0.9339,1)" font-size="33" text-anchor="start" fill="#000">5000 nm</text>
<text transform="translate(16.04,1310.00) scale(1.0557,1)" font-size="31" text-anchor="start" fill="#000">(e)</text>
<text transform="translate(148.10,1335.30)" font-size="31.5" text-anchor="start" fill="#000" textLength="160.7" lengthAdjust="spacingAndGlyphs">I<tspan font-size="20" dy="10.5">2</tspan><tspan dy="-10.5">-PbSe-T30</tspan></text>
<text transform="translate(43.00,1658.20) rotate(-90)" font-size="32.5" text-anchor="start" fill="#000" textLength="232.4" lengthAdjust="spacingAndGlyphs">Photocurrent (&#956;A)</text>
<text transform="translate(311.10,1867.90)" font-size="32.5" text-anchor="start" fill="#000" textLength="327.8" lengthAdjust="spacingAndGlyphs">Power density (mW/cm<tspan font-size="19" dy="-14">2</tspan><tspan dy="14">)</tspan></text>
<path d="M1274.5,1289.6V1436.1H1616.4401620652343" fill="none" stroke="#000" stroke-width="2.4" stroke-dasharray="8,5"/>
<polygon points="987.0,1347.4 1003.8,1347.4 1003.8,1364.2 987.0,1364.2" fill="#fff" stroke="#ff0000" stroke-width="1.6" stroke-linejoin="miter"/>
<polygon points="1003.8,1354.3 1003.8,1364.2 987.0,1364.2 987.0,1354.3" fill="#ff0000" stroke="#ff0000" stroke-width="1.6" stroke-linejoin="miter"/>
<polygon points="1039.6,1356.2 1056.4,1356.2 1056.4,1373.0 1039.6,1373.0" fill="#fff" stroke="#ff0000" stroke-width="1.6" stroke-linejoin="miter"/>
<polygon points="1056.4,1363.1 1056.4,1373.0 1039.6,1373.0 1039.6,1363.1" fill="#ff0000" stroke="#ff0000" stroke-width="1.6" stroke-linejoin="miter"/>
<polygon points="1227.5,1425.8 1244.3,1425.8 1244.3,1442.6 1227.5,1442.6" fill="#fff" stroke="#ff0000" stroke-width="1.6" stroke-linejoin="miter"/>
<polygon points="1244.3,1432.7 1244.3,1442.6 1227.5,1442.6 1227.5,1432.7" fill="#ff0000" stroke="#ff0000" stroke-width="1.6" stroke-linejoin="miter"/>
<polygon points="1296.6,1458.7 1313.4,1458.7 1313.4,1475.5 1296.6,1475.5" fill="#fff" stroke="#ff0000" stroke-width="1.6" stroke-linejoin="miter"/>
<polygon points="1313.4,1465.6 1313.4,1475.5 1296.6,1475.5 1296.6,1465.6" fill="#ff0000" stroke="#ff0000" stroke-width="1.6" stroke-linejoin="miter"/>
<polygon points="1317.5,1468.6 1334.3,1468.6 1334.3,1485.4 1317.5,1485.4" fill="#fff" stroke="#ff0000" stroke-width="1.6" stroke-linejoin="miter"/>
<polygon points="1334.3,1475.5 1334.3,1485.4 1317.5,1485.4 1317.5,1475.5" fill="#ff0000" stroke="#ff0000" stroke-width="1.6" stroke-linejoin="miter"/>
<polygon points="1344.5,1480.0 1361.3,1480.0 1361.3,1496.8 1344.5,1496.8" fill="#fff" stroke="#ff0000" stroke-width="1.6" stroke-linejoin="miter"/>
<polygon points="1361.3,1486.9 1361.3,1496.8 1344.5,1496.8 1344.5,1486.9" fill="#ff0000" stroke="#ff0000" stroke-width="1.6" stroke-linejoin="miter"/>
<polygon points="1356.5,1489.5 1373.3,1489.5 1373.3,1506.3 1356.5,1506.3" fill="#fff" stroke="#ff0000" stroke-width="1.6" stroke-linejoin="miter"/>
<polygon points="1373.3,1496.4 1373.3,1506.3 1356.5,1506.3 1356.5,1496.4" fill="#ff0000" stroke="#ff0000" stroke-width="1.6" stroke-linejoin="miter"/>
<polygon points="1572.6,1580.4 1589.4,1580.4 1589.4,1597.2 1572.6,1597.2" fill="#fff" stroke="#ff0000" stroke-width="1.6" stroke-linejoin="miter"/>
<polygon points="1589.4,1587.3 1589.4,1597.2 1572.6,1597.2 1572.6,1587.3" fill="#ff0000" stroke="#ff0000" stroke-width="1.6" stroke-linejoin="miter"/>
<circle cx="1012.9" cy="1435.2" r="9.6" fill="#fff" stroke="#0000ff" stroke-width="1.9"/>
<path d="M1003.3,1435.2A9.6,9.6 0 0 0 1022.5,1435.2Z" fill="#0000ff"/>
<polygon points="1006.7,1436.8 1019.1,1436.8 1012.9,1442.6" fill="#fff"/>
<path d="M1003.3,1435.2H1022.5" stroke="#0000ff" stroke-width="1.6"/>
<circle cx="1100.2" cy="1469.9" r="9.6" fill="#fff" stroke="#0000ff" stroke-width="1.9"/>
<path d="M1090.6,1469.9A9.6,9.6 0 0 0 1109.8,1469.9Z" fill="#0000ff"/>
<polygon points="1094.0,1471.5 1106.4,1471.5 1100.2,1477.3" fill="#fff"/>
<path d="M1090.6,1469.9H1109.8" stroke="#0000ff" stroke-width="1.6"/>
<circle cx="1272.8" cy="1500.8" r="9.6" fill="#fff" stroke="#0000ff" stroke-width="1.9"/>
<path d="M1263.2,1500.8A9.6,9.6 0 0 0 1282.4,1500.8Z" fill="#0000ff"/>
<polygon points="1266.6,1502.4 1279.0,1502.4 1272.8,1508.2" fill="#fff"/>
<path d="M1263.2,1500.8H1282.4" stroke="#0000ff" stroke-width="1.6"/>
<circle cx="1298.6" cy="1504.6" r="9.6" fill="#fff" stroke="#0000ff" stroke-width="1.9"/>
<path d="M1289.0,1504.6A9.6,9.6 0 0 0 1308.2,1504.6Z" fill="#0000ff"/>
<polygon points="1292.4,1506.2 1304.8,1506.2 1298.6,1512.0" fill="#fff"/>
<path d="M1289.0,1504.6H1308.2" stroke="#0000ff" stroke-width="1.6"/>
<circle cx="1330.2" cy="1507.2" r="9.6" fill="#fff" stroke="#0000ff" stroke-width="1.9"/>
<path d="M1320.6,1507.2A9.6,9.6 0 0 0 1339.8,1507.2Z" fill="#0000ff"/>
<polygon points="1324.0,1508.8 1336.4,1508.8 1330.2,1514.6" fill="#fff"/>
<path d="M1320.6,1507.2H1339.8" stroke="#0000ff" stroke-width="1.6"/>
<circle cx="1348.1" cy="1508.4" r="9.6" fill="#fff" stroke="#0000ff" stroke-width="1.9"/>
<path d="M1338.5,1508.4A9.6,9.6 0 0 0 1357.7,1508.4Z" fill="#0000ff"/>
<polygon points="1341.9,1510.0 1354.3,1510.0 1348.1,1515.8" fill="#fff"/>
<path d="M1338.5,1508.4H1357.7" stroke="#0000ff" stroke-width="1.6"/>
<circle cx="1362.2" cy="1509.3" r="9.6" fill="#fff" stroke="#0000ff" stroke-width="1.9"/>
<path d="M1352.6,1509.3A9.6,9.6 0 0 0 1371.8,1509.3Z" fill="#0000ff"/>
<polygon points="1356.0,1510.9 1368.4,1510.9 1362.2,1516.7" fill="#fff"/>
<path d="M1352.6,1509.3H1371.8" stroke="#0000ff" stroke-width="1.6"/>
<circle cx="1492.9" cy="1545.5" r="9.6" fill="#fff" stroke="#0000ff" stroke-width="1.9"/>
<path d="M1483.3,1545.5A9.6,9.6 0 0 0 1502.5,1545.5Z" fill="#0000ff"/>
<polygon points="1486.7,1547.1 1499.1,1547.1 1492.9,1552.9" fill="#fff"/>
<path d="M1483.3,1545.5H1502.5" stroke="#0000ff" stroke-width="1.6"/>
<polygon points="997.2,1477.6 1009.6,1499.0 984.8,1499.0" fill="#fff" stroke="#ff00ff" stroke-width="1.6" stroke-linejoin="miter"/>
<polygon points="1005.3,1491.5 1009.6,1499.0 984.8,1499.0 989.1,1491.5" fill="#ff00ff" stroke="#ff00ff" stroke-width="1.6" stroke-linejoin="miter"/>
<polygon points="1095.4,1518.0 1107.8,1539.4 1083.0,1539.4" fill="#fff" stroke="#ff00ff" stroke-width="1.6" stroke-linejoin="miter"/>
<polygon points="1103.5,1531.9 1107.8,1539.4 1083.0,1539.4 1087.3,1531.9" fill="#ff00ff" stroke="#ff00ff" stroke-width="1.6" stroke-linejoin="miter"/>
<polygon points="1176.4,1554.5 1188.8,1575.9 1164.0,1575.9" fill="#fff" stroke="#ff00ff" stroke-width="1.6" stroke-linejoin="miter"/>
<polygon points="1184.5,1568.4 1188.8,1575.9 1164.0,1575.9 1168.3,1568.4" fill="#ff00ff" stroke="#ff00ff" stroke-width="1.6" stroke-linejoin="miter"/>
<polygon points="1206.2,1556.1 1218.6,1577.5 1193.8,1577.5" fill="#fff" stroke="#ff00ff" stroke-width="1.6" stroke-linejoin="miter"/>
<polygon points="1214.3,1570.0 1218.6,1577.5 1193.8,1577.5 1198.1,1570.0" fill="#ff00ff" stroke="#ff00ff" stroke-width="1.6" stroke-linejoin="miter"/>
<polygon points="1256.3,1568.8 1268.7,1590.2 1243.9,1590.2" fill="#fff" stroke="#ff00ff" stroke-width="1.6" stroke-linejoin="miter"/>
<polygon points="1264.4,1582.7 1268.7,1590.2 1243.9,1590.2 1248.2,1582.7" fill="#ff00ff" stroke="#ff00ff" stroke-width="1.6" stroke-linejoin="miter"/>
<polygon points="1301.2,1575.2 1313.6,1596.6 1288.8,1596.6" fill="#fff" stroke="#ff00ff" stroke-width="1.6" stroke-linejoin="miter"/>
<polygon points="1309.3,1589.1 1313.6,1596.6 1288.8,1596.6 1293.1,1589.1" fill="#ff00ff" stroke="#ff00ff" stroke-width="1.6" stroke-linejoin="miter"/>
<polygon points="1327.0,1582.4 1339.4,1603.8 1314.6,1603.8" fill="#fff" stroke="#ff00ff" stroke-width="1.6" stroke-linejoin="miter"/>
<polygon points="1335.1,1596.3 1339.4,1603.8 1314.6,1603.8 1318.9,1596.3" fill="#ff00ff" stroke="#ff00ff" stroke-width="1.6" stroke-linejoin="miter"/>
<polygon points="1346.7,1585.2 1359.1,1606.6 1334.3,1606.6" fill="#fff" stroke="#ff00ff" stroke-width="1.6" stroke-linejoin="miter"/>
<polygon points="1354.8,1599.1 1359.1,1606.6 1334.3,1606.6 1338.6,1599.1" fill="#ff00ff" stroke="#ff00ff" stroke-width="1.6" stroke-linejoin="miter"/>
<polygon points="1363.3,1589.5 1375.7,1610.9 1350.9,1610.9" fill="#fff" stroke="#ff00ff" stroke-width="1.6" stroke-linejoin="miter"/>
<polygon points="1371.4,1603.4 1375.7,1610.9 1350.9,1610.9 1355.2,1603.4" fill="#ff00ff" stroke="#ff00ff" stroke-width="1.6" stroke-linejoin="miter"/>
<polygon points="1399.6,1591.8 1412.0,1613.2 1387.2,1613.2" fill="#fff" stroke="#ff00ff" stroke-width="1.6" stroke-linejoin="miter"/>
<polygon points="1407.7,1605.7 1412.0,1613.2 1387.2,1613.2 1391.5,1605.7" fill="#ff00ff" stroke="#ff00ff" stroke-width="1.6" stroke-linejoin="miter"/>
<polygon points="972.3,1504.1 997.1,1504.1 984.7,1525.1" fill="#fff" stroke="#008000" stroke-width="1.6" stroke-linejoin="miter"/>
<polygon points="993.6,1510.1 984.7,1525.1 975.8,1510.1" fill="#008000" stroke="#008000" stroke-width="1.6" stroke-linejoin="miter"/>
<polygon points="1104.1,1547.5 1128.9,1547.5 1116.5,1568.5" fill="#fff" stroke="#008000" stroke-width="1.6" stroke-linejoin="miter"/>
<polygon points="1125.4,1553.5 1116.5,1568.5 1107.6,1553.5" fill="#008000" stroke="#008000" stroke-width="1.6" stroke-linejoin="miter"/>
<polygon points="1168.6,1581.0 1193.4,1581.0 1181.0,1602.0" fill="#fff" stroke="#008000" stroke-width="1.6" stroke-linejoin="miter"/>
<polygon points="1189.9,1587.0 1181.0,1602.0 1172.1,1587.0" fill="#008000" stroke="#008000" stroke-width="1.6" stroke-linejoin="miter"/>
<polygon points="1196.8,1590.7 1221.6,1590.7 1209.2,1611.7" fill="#fff" stroke="#008000" stroke-width="1.6" stroke-linejoin="miter"/>
<polygon points="1218.1,1596.7 1209.2,1611.7 1200.3,1596.7" fill="#008000" stroke="#008000" stroke-width="1.6" stroke-linejoin="miter"/>
<polygon points="1240.9,1593.0 1265.7,1593.0 1253.3,1614.0" fill="#fff" stroke="#008000" stroke-width="1.6" stroke-linejoin="miter"/>
<polygon points="1262.2,1599.0 1253.3,1614.0 1244.4,1599.0" fill="#008000" stroke="#008000" stroke-width="1.6" stroke-linejoin="miter"/>
<polygon points="1290.4,1607.1 1315.2,1607.1 1302.8,1628.1" fill="#fff" stroke="#008000" stroke-width="1.6" stroke-linejoin="miter"/>
<polygon points="1311.7,1613.1 1302.8,1628.1 1293.9,1613.1" fill="#008000" stroke="#008000" stroke-width="1.6" stroke-linejoin="miter"/>
<polygon points="1316.2,1613.8 1341.0,1613.8 1328.6,1634.8" fill="#fff" stroke="#008000" stroke-width="1.6" stroke-linejoin="miter"/>
<polygon points="1337.5,1619.8 1328.6,1634.8 1319.7,1619.8" fill="#008000" stroke="#008000" stroke-width="1.6" stroke-linejoin="miter"/>
<polygon points="1336.9,1618.3 1361.7,1618.3 1349.3,1639.3" fill="#fff" stroke="#008000" stroke-width="1.6" stroke-linejoin="miter"/>
<polygon points="1358.2,1624.3 1349.3,1639.3 1340.4,1624.3" fill="#008000" stroke="#008000" stroke-width="1.6" stroke-linejoin="miter"/>
<polygon points="1353.2,1621.7 1378.0,1621.7 1365.6,1642.7" fill="#fff" stroke="#008000" stroke-width="1.6" stroke-linejoin="miter"/>
<polygon points="1374.5,1627.7 1365.6,1642.7 1356.7,1627.7" fill="#008000" stroke="#008000" stroke-width="1.6" stroke-linejoin="miter"/>
<polygon points="1373.8,1633.4 1398.6,1633.4 1386.2,1654.4" fill="#fff" stroke="#008000" stroke-width="1.6" stroke-linejoin="miter"/>
<polygon points="1395.1,1639.4 1386.2,1654.4 1377.3,1639.4" fill="#008000" stroke="#008000" stroke-width="1.6" stroke-linejoin="miter"/>
<polygon points="1116.0,1607.7 1129.8,1620.5 1116.0,1633.3 1102.2,1620.5" fill="#fff" stroke="#ff8000" stroke-width="1.6" stroke-linejoin="miter"/>
<polygon points="1129.3,1620.0 1129.8,1620.5 1116.0,1633.3 1102.2,1620.5 1102.7,1620.0" fill="#ff8000" stroke="#ff8000" stroke-width="1.6" stroke-linejoin="miter"/>
<polygon points="1250.9,1626.8 1264.7,1639.6 1250.9,1652.4 1237.1,1639.6" fill="#fff" stroke="#ff8000" stroke-width="1.6" stroke-linejoin="miter"/>
<polygon points="1264.2,1639.1 1264.7,1639.6 1250.9,1652.4 1237.1,1639.6 1237.6,1639.1" fill="#ff8000" stroke="#ff8000" stroke-width="1.6" stroke-linejoin="miter"/>
<polygon points="1093.9,1643.2 1093.9,1667.8 1071.5,1655.5" fill="#fff" stroke="#9900ff" stroke-width="1.6" stroke-linejoin="miter"/>
<polygon points="1093.9,1655.0 1093.9,1667.8 1071.5,1655.5 1072.4,1655.0" fill="#9900ff" stroke="#9900ff" stroke-width="1.6" stroke-linejoin="miter"/>
<polygon points="1227.4,1663.2 1227.4,1687.8 1205.0,1675.5" fill="#fff" stroke="#9900ff" stroke-width="1.6" stroke-linejoin="miter"/>
<polygon points="1227.4,1675.0 1227.4,1687.8 1205.0,1675.5 1205.9,1675.0" fill="#9900ff" stroke="#9900ff" stroke-width="1.6" stroke-linejoin="miter"/>
<polygon points="1044.2,1662.5 1066.6,1675.0 1044.2,1687.5" fill="#fff" stroke="#008080" stroke-width="1.6" stroke-linejoin="miter"/>
<polygon points="1065.7,1674.5 1066.6,1675.0 1044.2,1687.5 1044.2,1674.5" fill="#008080" stroke="#008080" stroke-width="1.6" stroke-linejoin="miter"/>
<polygon points="1176.5,1686.9 1198.9,1699.4 1176.5,1711.9" fill="#fff" stroke="#008080" stroke-width="1.6" stroke-linejoin="miter"/>
<polygon points="1198.0,1698.9 1198.9,1699.4 1176.5,1711.9 1176.5,1698.9" fill="#008080" stroke="#008080" stroke-width="1.6" stroke-linejoin="miter"/>
<polygon points="1036.3,1691.4 1046.7,1697.3 1046.7,1709.1 1036.3,1715.0 1025.9,1709.1 1025.9,1697.3" fill="#fff" stroke="#ff0080" stroke-width="1.6" stroke-linejoin="miter"/>
<polygon points="1046.7,1702.2 1046.7,1709.1 1036.3,1715.0 1025.9,1709.1 1025.9,1702.2" fill="#ff0080" stroke="#ff0080" stroke-width="1.6" stroke-linejoin="miter"/>
<polygon points="1171.4,1729.2 1181.8,1735.1 1181.8,1746.9 1171.4,1752.8 1161.0,1746.9 1161.0,1735.1" fill="#fff" stroke="#ff0080" stroke-width="1.6" stroke-linejoin="miter"/>
<polygon points="1181.8,1740.0 1181.8,1746.9 1171.4,1752.8 1161.0,1746.9 1161.0,1740.0" fill="#ff0080" stroke="#ff0080" stroke-width="1.6" stroke-linejoin="miter"/>
<rect x="937.20" y="1289.60" width="679.24" height="504.40" fill="none" stroke="#000" stroke-width="3.4"/>
<path d="M937.20,1794.00v10M1095.12,1794.00v10M1253.05,1794.00v10M1410.98,1794.00v10M1568.90,1794.00v10M984.74,1794.00v6M1012.55,1794.00v6M1032.28,1794.00v6M1047.58,1794.00v6M1060.09,1794.00v6M1070.66,1794.00v6M1079.82,1794.00v6M1087.90,1794.00v6M1142.67,1794.00v6M1170.47,1794.00v6M1190.21,1794.00v6M1205.51,1794.00v6M1218.01,1794.00v6M1228.59,1794.00v6M1237.75,1794.00v6M1245.82,1794.00v6M1300.59,1794.00v6M1328.40,1794.00v6M1348.13,1794.00v6M1363.43,1794.00v6M1375.94,1794.00v6M1386.51,1794.00v6M1395.67,1794.00v6M1403.75,1794.00v6M1458.52,1794.00v6M1486.32,1794.00v6M1506.06,1794.00v6M1521.36,1794.00v6M1533.86,1794.00v6M1544.44,1794.00v6M1553.60,1794.00v6M1561.67,1794.00v6M1616.44,1794.00v6M1616.44,1794.00v6" stroke="#000" stroke-width="3.2" fill="none"/>
<path d="M937.20,1794.00h-10M937.20,1667.90h-10M937.20,1541.80h-10M937.20,1415.70h-10M937.20,1289.60h-10M937.20,1756.04h-6M937.20,1733.84h-6M937.20,1718.08h-6M937.20,1705.86h-6M937.20,1695.88h-6M937.20,1687.43h-6M937.20,1680.12h-6M937.20,1673.67h-6M937.20,1629.94h-6M937.20,1607.74h-6M937.20,1591.98h-6M937.20,1579.76h-6M937.20,1569.78h-6M937.20,1561.33h-6M937.20,1554.02h-6M937.20,1547.57h-6M937.20,1503.84h-6M937.20,1481.64h-6M937.20,1465.88h-6M937.20,1453.66h-6M937.20,1443.68h-6M937.20,1435.23h-6M937.20,1427.92h-6M937.20,1421.47h-6M937.20,1377.74h-6M937.20,1355.54h-6M937.20,1339.78h-6M937.20,1327.56h-6M937.20,1317.58h-6M937.20,1309.13h-6M937.20,1301.82h-6M937.20,1295.37h-6" stroke="#000" stroke-width="3.2" fill="none"/>
<text transform="translate(863.24,1803.20) scale(0.95,1)" font-size="32.5" text-anchor="start" fill="#000">0.01</text>
<text transform="translate(880.53,1677.10) scale(0.95,1)" font-size="32.5" text-anchor="start" fill="#000">0.1</text>
<text transform="translate(906.15,1551.00) scale(0.95,1)" font-size="32.5" text-anchor="start" fill="#000">1</text>
<text transform="translate(888.55,1424.90) scale(0.95,1)" font-size="32.5" text-anchor="start" fill="#000">10</text>
<text transform="translate(871.57,1298.80) scale(0.95,1)" font-size="32.5" text-anchor="start" fill="#000">100</text>
<text transform="translate(916.16,1835.00)" font-size="30.5" text-anchor="start" fill="#000">0.1</text>
<text transform="translate(1086.13,1835.00)" font-size="30.5" text-anchor="start" fill="#000">1</text>
<text transform="translate(1235.36,1835.00)" font-size="30.5" text-anchor="start" fill="#000">10</text>
<text transform="translate(1384.90,1835.00)" font-size="30.5" text-anchor="start" fill="#000">100</text>
<text transform="translate(1534.28,1835.00)" font-size="30.5" text-anchor="start" fill="#000">1000</text>
<polygon points="1288.2,1303.5 1305.0,1303.5 1305.0,1320.3 1288.2,1320.3" fill="#fff" stroke="#ff0000" stroke-width="1.6" stroke-linejoin="miter"/>
<polygon points="1305.0,1310.4 1305.0,1320.3 1288.2,1320.3 1288.2,1310.4" fill="#ff0000" stroke="#ff0000" stroke-width="1.6" stroke-linejoin="miter"/>
<text transform="translate(1327.04,1318.60) scale(1.0005,1)" font-size="31.5" text-anchor="start" fill="#000">808 nm</text>
<circle cx="1296.7" cy="1348.0" r="9.6" fill="#fff" stroke="#0000ff" stroke-width="1.9"/>
<path d="M1287.1,1348.0A9.6,9.6 0 0 0 1306.3,1348.0Z" fill="#0000ff"/>
<polygon points="1290.5,1349.6 1302.9,1349.6 1296.7,1355.4" fill="#fff"/>
<path d="M1287.1,1348.0H1306.3" stroke="#0000ff" stroke-width="1.6"/>
<text transform="translate(1326.72,1356.20) scale(1.0036,1)" font-size="31.5" text-anchor="start" fill="#000">980 nm</text>
<polygon points="1296.9,1372.2 1309.3,1393.6 1284.5,1393.6" fill="#fff" stroke="#ff00ff" stroke-width="1.6" stroke-linejoin="miter"/>
<polygon points="1305.0,1386.1 1309.3,1393.6 1284.5,1393.6 1288.8,1386.1" fill="#ff00ff" stroke="#ff00ff" stroke-width="1.6" stroke-linejoin="miter"/>
<text transform="translate(1327.28,1393.60) scale(1.0006,1)" font-size="31.5" text-anchor="start" fill="#000">1310 nm</text>
<polygon points="1284.5,1415.0 1309.3,1415.0 1296.9,1436.0" fill="#fff" stroke="#008000" stroke-width="1.6" stroke-linejoin="miter"/>
<polygon points="1305.8,1421.0 1296.9,1436.0 1288.0,1421.0" fill="#008000" stroke="#008000" stroke-width="1.6" stroke-linejoin="miter"/>
<text transform="translate(1327.28,1430.50) scale(1.0006,1)" font-size="31.5" text-anchor="start" fill="#000">1550 nm</text>
<polygon points="1462.0,1298.4 1475.8,1311.2 1462.0,1324.0 1448.2,1311.2" fill="#fff" stroke="#ff8000" stroke-width="1.6" stroke-linejoin="miter"/>
<polygon points="1475.3,1310.7 1475.8,1311.2 1462.0,1324.0 1448.2,1311.2 1448.7,1310.7" fill="#ff8000" stroke="#ff8000" stroke-width="1.6" stroke-linejoin="miter"/>
<text transform="translate(1491.23,1318.60) scale(0.9961,1)" font-size="31.5" text-anchor="start" fill="#000">2250 nm</text>
<polygon points="1468.3,1336.5 1468.3,1361.1 1445.9,1348.8" fill="#fff" stroke="#9900ff" stroke-width="1.6" stroke-linejoin="miter"/>
<polygon points="1468.3,1348.3 1468.3,1361.1 1445.9,1348.8 1446.8,1348.3" fill="#9900ff" stroke="#9900ff" stroke-width="1.6" stroke-linejoin="miter"/>
<text transform="translate(1491.55,1356.20) scale(0.9934,1)" font-size="31.5" text-anchor="start" fill="#000">3500 nm</text>
<polygon points="1454.9,1373.6 1477.3,1386.1 1454.9,1398.6" fill="#fff" stroke="#008080" stroke-width="1.6" stroke-linejoin="miter"/>
<polygon points="1476.4,1385.6 1477.3,1386.1 1454.9,1398.6 1454.9,1385.6" fill="#008080" stroke="#008080" stroke-width="1.6" stroke-linejoin="miter"/>
<text transform="translate(1492.18,1393.60) scale(0.9882,1)" font-size="31.5" text-anchor="start" fill="#000">4000 nm</text>
<polygon points="1462.0,1411.8 1472.4,1417.7 1472.4,1429.5 1462.0,1435.4 1451.6,1429.5 1451.6,1417.7" fill="#fff" stroke="#ff0080" stroke-width="1.6" stroke-linejoin="miter"/>
<polygon points="1472.4,1422.6 1472.4,1429.5 1462.0,1435.4 1451.6,1429.5 1451.6,1422.6" fill="#ff0080" stroke="#ff0080" stroke-width="1.6" stroke-linejoin="miter"/>
<text transform="translate(1491.55,1430.50) scale(0.9934,1)" font-size="31.5" text-anchor="start" fill="#000">5000 nm</text>
<text transform="translate(825.11,1310.50) scale(1.0149,1)" font-size="31" text-anchor="start" fill="#000">(f)</text>
<text transform="translate(949.10,1325.40)" font-size="31.5" text-anchor="start" fill="#000" textLength="159.7" lengthAdjust="spacingAndGlyphs">I<tspan font-size="20" dy="12.5">2</tspan><tspan dy="-12.5">-PbSe-T30</tspan></text>
<text transform="translate(851.90,1587.10) rotate(-90)" font-size="33" text-anchor="start" fill="#000" textLength="108.8" lengthAdjust="spacingAndGlyphs">R<tspan font-size="18" dy="7">i</tspan><tspan dy="-7"> (A/W)</tspan></text>
<text transform="translate(1113.80,1874.90)" font-size="32.5" text-anchor="start" fill="#000" textLength="328.6" lengthAdjust="spacingAndGlyphs">Power density (mW/cm<tspan font-size="19" dy="-14">2</tspan><tspan dy="14">)</tspan></text>
</svg></body></html>
